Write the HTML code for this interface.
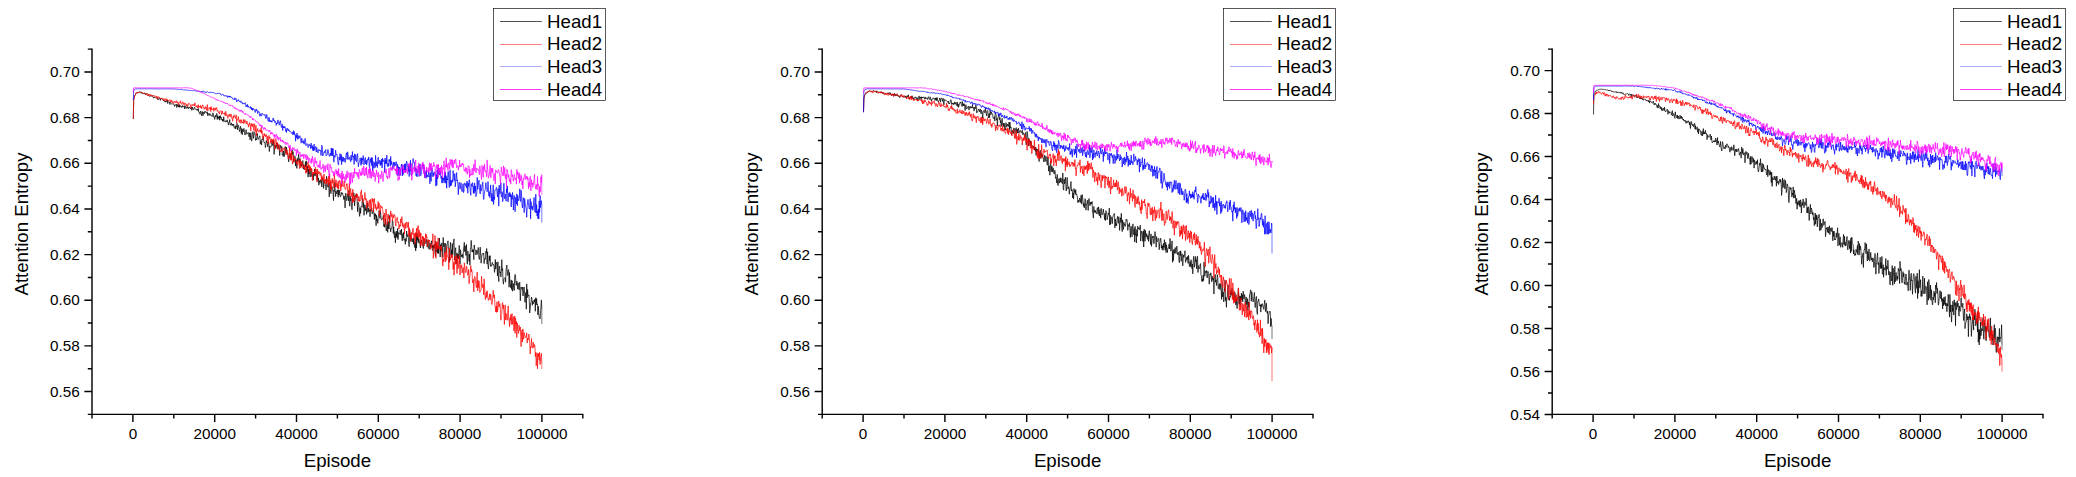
<!DOCTYPE html>
<html><head><meta charset="utf-8"><title>Attention Entropy</title>
<style>html,body{margin:0;padding:0;background:#fff}svg{display:block}text{font-family:"Liberation Sans",Arial,sans-serif;fill:#000}.t{font-size:15.3px}.l{font-size:18.67px}.ax{stroke:#000;stroke-width:1.42;fill:none}.d{fill:none;stroke-width:0.72;stroke-linejoin:miter}</style></head>
<body>
<svg width="2076" height="477" viewBox="0 0 2076 477">
<rect width="2076" height="477" fill="#fff"/>
<g>
<path class="ax" d="M92.0,48.6 V415.0 M91.4,414.4 H583.4"/>
<path class="ax" d="M92.0,49.12 h-4.2 M92.0,71.95 h-7.6 M92.0,94.78 h-4.2 M92.0,117.61 h-7.6 M92.0,140.44 h-4.2 M92.0,163.27 h-7.6 M92.0,186.10 h-4.2 M92.0,208.93 h-7.6 M92.0,231.76 h-4.2 M92.0,254.59 h-7.6 M92.0,277.42 h-4.2 M92.0,300.25 h-7.6 M92.0,323.08 h-4.2 M92.0,345.91 h-7.6 M92.0,368.74 h-4.2 M92.0,391.57 h-7.6 M92.0,414.40 h-4.2 M92.00,414.4 v4.2 M132.90,414.4 v7.6 M173.80,414.4 v4.2 M214.70,414.4 v7.6 M255.60,414.4 v4.2 M296.50,414.4 v7.6 M337.40,414.4 v4.2 M378.30,414.4 v7.6 M419.20,414.4 v4.2 M460.10,414.4 v7.6 M501.00,414.4 v4.2 M541.90,414.4 v7.6 M582.80,414.4 v4.2"/>
<text class="t" x="79.8" y="77.0" text-anchor="end">0.70</text>
<text class="t" x="79.8" y="122.7" text-anchor="end">0.68</text>
<text class="t" x="79.8" y="168.4" text-anchor="end">0.66</text>
<text class="t" x="79.8" y="214.0" text-anchor="end">0.64</text>
<text class="t" x="79.8" y="259.7" text-anchor="end">0.62</text>
<text class="t" x="79.8" y="305.4" text-anchor="end">0.60</text>
<text class="t" x="79.8" y="351.0" text-anchor="end">0.58</text>
<text class="t" x="79.8" y="396.7" text-anchor="end">0.56</text>
<text class="t" x="132.9" y="438.6" text-anchor="middle">0</text>
<text class="t" x="214.7" y="438.6" text-anchor="middle">20000</text>
<text class="t" x="296.5" y="438.6" text-anchor="middle">40000</text>
<text class="t" x="378.3" y="438.6" text-anchor="middle">60000</text>
<text class="t" x="460.1" y="438.6" text-anchor="middle">80000</text>
<text class="t" x="541.9" y="438.6" text-anchor="middle">100000</text>
<text class="l" x="337.4" y="467.1" text-anchor="middle">Episode</text>
<text class="l" transform="translate(27.9,224) rotate(-90)" text-anchor="middle">Attention Entropy</text>
<polyline class="d" stroke="#000000" points="133.3,119.0 133.7,99.7 134.2,97.7 134.6,96.0 135.0,95.2 135.5,94.5 135.9,93.4 136.3,92.7 136.7,93.2 137.2,93.1 137.6,92.4 138.0,92.7 138.5,92.7 138.9,92.2 139.3,91.8 139.8,91.6 140.2,92.3 140.6,92.7 141.0,92.5 141.5,92.2 141.9,93.6 142.3,93.1 142.8,92.7 143.2,93.9 143.6,93.8 144.1,93.1 144.5,93.1 144.9,92.8 145.4,94.7 145.8,94.1 146.2,93.9 146.6,94.3 147.1,93.6 147.5,94.1 147.9,93.8 148.4,94.3 148.8,94.9 149.2,96.2 149.7,96.4 150.1,96.1 150.5,96.1 150.9,95.8 151.4,96.3 151.8,96.0 152.2,95.4 152.7,96.4 153.1,96.8 153.5,98.1 154.0,97.0 154.4,97.0 154.8,97.7 155.3,97.5 155.7,97.9 156.1,98.1 156.5,98.0 157.0,97.4 157.4,97.4 157.8,99.9 158.3,99.1 158.7,99.4 159.1,98.1 159.6,97.5 160.0,98.7 160.4,100.4 160.8,98.7 161.3,98.6 161.7,98.7 162.1,99.2 162.6,99.5 163.0,99.7 163.4,100.7 163.9,99.8 164.3,101.4 164.7,101.1 165.2,102.2 165.6,101.1 166.0,101.1 166.4,101.9 166.9,101.8 167.3,100.0 167.7,103.5 168.2,101.7 168.6,102.1 169.0,102.0 169.5,102.0 169.9,104.5 170.3,102.4 170.7,103.0 171.2,103.3 171.6,103.7 172.0,104.4 172.5,103.8 172.9,103.5 173.3,103.9 173.8,103.7 174.2,104.8 174.6,106.5 175.1,105.0 175.5,105.1 175.9,105.0 176.3,104.0 176.8,107.5 177.2,104.8 177.6,104.5 178.1,106.7 178.5,105.2 178.9,107.1 179.4,104.6 179.8,107.4 180.2,105.5 180.6,105.9 181.1,107.0 181.5,106.7 181.9,107.6 182.4,105.5 182.8,106.8 183.2,106.2 183.7,106.5 184.1,106.0 184.5,108.9 185.0,105.5 185.4,106.2 185.8,108.3 186.2,107.9 186.7,108.3 187.1,106.4 187.5,108.2 188.0,107.2 188.4,108.8 188.8,108.2 189.3,106.9 189.7,107.8 190.1,107.8 190.6,108.9 191.0,108.1 191.4,107.1 191.8,110.4 192.3,107.0 192.7,108.8 193.1,108.6 193.6,109.8 194.0,109.0 194.4,107.1 194.9,107.9 195.3,108.7 195.7,109.5 196.1,110.0 196.6,110.1 197.0,108.9 197.4,109.4 197.9,110.8 198.3,108.5 198.7,112.2 199.2,112.0 199.6,112.7 200.0,114.3 200.5,111.1 200.9,112.2 201.3,113.8 201.7,115.8 202.2,111.4 202.6,113.5 203.0,115.7 203.5,111.9 203.9,112.7 204.3,113.9 204.8,111.3 205.2,111.6 205.6,111.2 206.0,112.9 206.5,112.7 206.9,113.4 207.3,111.8 207.8,115.9 208.2,113.4 208.6,114.0 209.1,115.3 209.5,115.2 209.9,113.3 210.4,115.4 210.8,115.0 211.2,114.9 211.6,115.7 212.1,116.7 212.5,116.2 212.9,112.8 213.4,113.9 213.8,117.1 214.2,116.6 214.7,119.4 215.1,117.4 215.5,115.3 215.9,116.9 216.4,114.8 216.8,113.4 217.2,119.5 217.7,115.5 218.1,118.1 218.5,116.9 219.0,119.4 219.4,116.0 219.8,120.2 220.3,115.6 220.7,118.0 221.1,116.9 221.5,119.5 222.0,119.1 222.4,121.0 222.8,119.1 223.3,121.6 223.7,116.7 224.1,120.4 224.6,121.4 225.0,121.5 225.4,122.1 225.8,120.6 226.3,121.1 226.7,121.9 227.1,119.8 227.6,122.1 228.0,121.9 228.4,125.1 228.9,123.2 229.3,122.1 229.7,119.5 230.2,124.9 230.6,125.1 231.0,124.0 231.4,122.9 231.9,125.6 232.3,125.4 232.7,124.0 233.2,125.6 233.6,124.1 234.0,127.2 234.5,127.9 234.9,128.5 235.3,125.7 235.7,129.0 236.2,126.6 236.6,127.0 237.0,123.2 237.5,129.8 237.9,126.7 238.3,125.1 238.8,126.9 239.2,129.7 239.6,131.6 240.1,128.5 240.5,126.3 240.9,129.9 241.3,133.5 241.8,128.4 242.2,134.7 242.6,129.5 243.1,130.0 243.5,131.7 243.9,128.4 244.4,131.3 244.8,134.8 245.2,134.0 245.6,134.3 246.1,129.7 246.5,133.4 246.9,134.3 247.4,133.7 247.8,132.9 248.2,132.4 248.7,134.7 249.1,136.8 249.5,132.8 250.0,139.8 250.4,137.9 250.8,132.7 251.2,138.4 251.7,141.1 252.1,135.6 252.5,133.3 253.0,131.5 253.4,138.4 253.8,135.8 254.3,132.6 254.7,132.5 255.1,133.2 255.5,140.4 256.0,138.7 256.4,140.0 256.8,138.2 257.3,133.5 257.7,138.4 258.1,139.5 258.6,138.1 259.0,137.7 259.4,136.3 259.9,135.9 260.3,144.2 260.7,142.6 261.1,140.6 261.6,144.9 262.0,139.1 262.4,140.0 262.9,139.3 263.3,136.4 263.7,141.2 264.2,142.6 264.6,142.0 265.0,143.6 265.4,147.6 265.9,144.5 266.3,140.5 266.7,142.2 267.2,141.8 267.6,146.8 268.0,144.5 268.5,141.6 268.9,143.7 269.3,151.6 269.8,146.1 270.2,146.7 270.6,147.3 271.0,147.0 271.5,144.2 271.9,139.8 272.3,140.7 272.8,145.8 273.2,142.9 273.6,140.7 274.1,154.4 274.5,148.8 274.9,144.9 275.3,146.4 275.8,148.5 276.2,145.9 276.6,142.9 277.1,147.2 277.5,143.1 277.9,149.1 278.4,146.9 278.8,145.1 279.2,148.8 279.7,155.6 280.1,148.1 280.5,145.4 280.9,146.9 281.4,148.5 281.8,146.3 282.2,154.5 282.7,153.7 283.1,156.4 283.5,151.0 284.0,156.7 284.4,156.4 284.8,151.0 285.2,146.5 285.7,152.8 286.1,153.3 286.5,147.1 287.0,153.3 287.4,152.8 287.8,154.6 288.3,158.2 288.7,161.9 289.1,156.5 289.6,157.4 290.0,153.5 290.4,155.6 290.8,155.8 291.3,159.2 291.7,155.3 292.1,149.9 292.6,154.6 293.0,151.6 293.4,156.1 293.9,162.4 294.3,156.2 294.7,155.7 295.2,156.8 295.6,166.1 296.0,159.9 296.4,165.6 296.9,168.4 297.3,158.3 297.7,161.3 298.2,160.0 298.6,154.2 299.0,159.4 299.5,162.3 299.9,158.4 300.3,165.9 300.7,163.8 301.2,163.1 301.6,166.5 302.0,163.0 302.5,161.5 302.9,160.5 303.3,168.8 303.8,164.7 304.2,169.7 304.6,169.6 305.1,167.5 305.5,161.8 305.9,166.7 306.3,160.8 306.8,171.9 307.2,169.7 307.6,166.1 308.1,177.1 308.5,169.1 308.9,173.9 309.4,168.5 309.8,174.8 310.2,177.1 310.6,172.1 311.1,168.6 311.5,173.5 311.9,176.5 312.4,173.8 312.8,174.4 313.2,180.2 313.7,174.3 314.1,175.3 314.5,169.0 315.0,176.2 315.4,173.2 315.8,174.4 316.2,172.7 316.7,174.1 317.1,179.3 317.5,173.6 318.0,180.9 318.4,178.1 318.8,185.2 319.3,180.5 319.7,182.4 320.1,183.3 320.5,179.7 321.0,181.4 321.4,180.9 321.8,187.1 322.3,177.5 322.7,179.3 323.1,181.3 323.6,188.4 324.0,180.1 324.4,181.3 324.9,181.0 325.3,185.9 325.7,185.4 326.1,190.1 326.6,176.3 327.0,183.0 327.4,184.4 327.9,187.2 328.3,185.3 328.7,183.4 329.2,196.9 329.6,192.1 330.0,181.9 330.4,189.4 330.9,193.7 331.3,187.8 331.7,186.8 332.2,186.7 332.6,188.8 333.0,192.3 333.5,200.6 333.9,189.9 334.3,191.4 334.8,182.3 335.2,190.3 335.6,196.6 336.0,191.1 336.5,192.7 336.9,194.0 337.3,189.8 337.8,192.5 338.2,197.2 338.6,189.7 339.1,195.1 339.5,190.4 339.9,192.9 340.3,196.8 340.8,196.1 341.2,194.9 341.6,192.4 342.1,193.9 342.5,192.9 342.9,195.0 343.4,195.9 343.8,199.5 344.2,196.1 344.7,200.2 345.1,208.0 345.5,193.3 345.9,193.1 346.4,200.7 346.8,200.4 347.2,197.1 347.7,193.8 348.1,197.5 348.5,200.9 349.0,190.2 349.4,204.2 349.8,206.2 350.2,196.2 350.7,200.8 351.1,198.5 351.5,205.5 352.0,209.8 352.4,203.1 352.8,197.9 353.3,195.3 353.7,192.7 354.1,194.3 354.6,205.9 355.0,198.9 355.4,195.0 355.8,194.7 356.3,197.1 356.7,194.4 357.1,200.1 357.6,211.7 358.0,202.2 358.4,203.0 358.9,205.3 359.3,213.9 359.7,216.4 360.1,207.8 360.6,213.4 361.0,206.8 361.4,206.1 361.9,206.7 362.3,199.1 362.7,198.2 363.2,207.6 363.6,202.5 364.0,215.3 364.5,207.4 364.9,204.8 365.3,210.8 365.7,208.0 366.2,206.5 366.6,214.3 367.0,204.7 367.5,202.7 367.9,212.3 368.3,207.9 368.8,211.7 369.2,210.8 369.6,209.5 370.0,216.8 370.5,209.5 370.9,210.6 371.3,210.1 371.8,208.4 372.2,213.9 372.6,212.9 373.1,211.0 373.5,209.9 373.9,213.4 374.4,219.5 374.8,213.2 375.2,216.2 375.6,214.2 376.1,225.7 376.5,215.3 376.9,220.7 377.4,219.0 377.8,223.4 378.2,217.1 378.7,214.9 379.1,210.7 379.5,214.2 379.9,218.4 380.4,210.7 380.8,215.3 381.2,219.3 381.7,220.1 382.1,218.7 382.5,218.7 383.0,217.5 383.4,215.4 383.8,226.5 384.3,224.0 384.7,227.3 385.1,222.2 385.5,218.8 386.0,228.8 386.4,231.0 386.8,225.7 387.3,222.3 387.7,232.4 388.1,221.6 388.6,228.8 389.0,222.9 389.4,215.4 389.9,228.6 390.3,228.0 390.7,231.8 391.1,228.8 391.6,228.4 392.0,226.3 392.4,220.2 392.9,221.4 393.3,233.5 393.7,226.8 394.2,235.3 394.6,237.8 395.0,231.6 395.4,242.8 395.9,233.6 396.3,236.8 396.7,231.0 397.2,237.9 397.6,228.4 398.0,239.6 398.5,232.7 398.9,232.7 399.3,234.2 399.8,233.9 400.2,230.2 400.6,232.5 401.0,235.2 401.5,229.2 401.9,238.9 402.3,240.9 402.8,233.7 403.2,238.2 403.6,232.4 404.1,240.2 404.5,239.2 404.9,240.9 405.3,244.3 405.8,238.4 406.2,241.4 406.6,231.0 407.1,235.5 407.5,236.6 407.9,234.4 408.4,237.9 408.8,244.0 409.2,246.7 409.7,229.7 410.1,235.0 410.5,236.8 410.9,241.1 411.4,238.4 411.8,238.4 412.2,242.0 412.7,240.0 413.1,238.1 413.5,244.2 414.0,238.2 414.4,246.4 414.8,247.6 415.2,242.4 415.7,250.9 416.1,234.5 416.5,248.1 417.0,233.1 417.4,240.3 417.8,236.3 418.3,242.9 418.7,238.5 419.1,239.5 419.6,242.9 420.0,244.5 420.4,247.9 420.8,241.8 421.3,242.5 421.7,240.0 422.1,242.5 422.6,244.4 423.0,247.4 423.4,248.5 423.9,238.6 424.3,244.0 424.7,243.4 425.1,243.4 425.6,243.3 426.0,239.2 426.4,239.4 426.9,245.3 427.3,247.3 427.7,242.8 428.2,240.1 428.6,248.8 429.0,249.1 429.5,249.3 429.9,242.9 430.3,247.5 430.7,244.1 431.2,244.3 431.6,240.8 432.0,247.7 432.5,245.3 432.9,250.8 433.3,245.0 433.8,248.2 434.2,245.8 434.6,243.8 435.0,253.3 435.5,256.4 435.9,241.3 436.3,252.2 436.8,251.4 437.2,245.7 437.6,253.3 438.1,246.4 438.5,253.6 438.9,242.8 439.4,238.0 439.8,246.4 440.2,257.0 440.6,244.5 441.1,251.3 441.5,244.0 441.9,242.8 442.4,247.8 442.8,257.5 443.2,237.5 443.7,246.5 444.1,243.1 444.5,247.5 444.9,253.6 445.4,243.3 445.8,244.0 446.2,251.9 446.7,247.7 447.1,243.8 447.5,243.3 448.0,240.8 448.4,248.3 448.8,248.9 449.3,262.3 449.7,249.8 450.1,247.7 450.5,242.4 451.0,255.1 451.4,249.9 451.8,257.5 452.3,243.5 452.7,254.5 453.1,245.2 453.6,241.5 454.0,238.9 454.4,255.7 454.8,260.0 455.3,249.0 455.7,247.7 456.1,263.9 456.6,255.1 457.0,252.9 457.4,258.0 457.9,254.0 458.3,259.0 458.7,253.8 459.2,245.4 459.6,250.3 460.0,264.1 460.4,249.7 460.9,253.0 461.3,256.9 461.7,255.2 462.2,256.4 462.6,254.3 463.0,258.2 463.5,248.6 463.9,246.6 464.3,242.3 464.7,251.6 465.2,245.8 465.6,252.2 466.0,255.5 466.5,244.5 466.9,256.9 467.3,264.2 467.8,251.2 468.2,253.8 468.6,254.3 469.1,261.5 469.5,254.1 469.9,265.2 470.3,249.3 470.8,247.3 471.2,240.4 471.6,246.2 472.1,252.1 472.5,249.6 472.9,252.1 473.4,249.7 473.8,259.7 474.2,244.9 474.6,248.4 475.1,250.1 475.5,250.3 475.9,254.9 476.4,252.7 476.8,250.1 477.2,254.4 477.7,253.8 478.1,247.5 478.5,248.5 479.0,258.3 479.4,259.5 479.8,255.3 480.2,247.1 480.7,255.0 481.1,263.2 481.5,258.3 482.0,255.0 482.4,253.5 482.8,254.1 483.3,254.3 483.7,253.1 484.1,263.6 484.5,258.7 485.0,258.6 485.4,259.3 485.8,251.4 486.3,253.2 486.7,248.5 487.1,264.1 487.6,251.8 488.0,265.1 488.4,269.0 488.9,263.3 489.3,255.9 489.7,260.7 490.1,255.6 490.6,266.4 491.0,265.4 491.4,266.2 491.9,264.3 492.3,262.3 492.7,264.3 493.2,265.2 493.6,264.4 494.0,266.2 494.5,272.4 494.9,268.4 495.3,259.5 495.7,269.1 496.2,262.2 496.6,263.5 497.0,264.6 497.5,275.9 497.9,261.8 498.3,275.3 498.8,281.5 499.2,267.4 499.6,266.1 500.0,272.9 500.5,271.8 500.9,276.9 501.3,271.0 501.8,259.7 502.2,270.6 502.6,268.6 503.1,282.3 503.5,284.2 503.9,278.9 504.4,278.2 504.8,277.8 505.2,277.8 505.6,282.2 506.1,270.1 506.5,266.4 506.9,265.0 507.4,275.3 507.8,275.3 508.2,270.4 508.7,269.5 509.1,287.2 509.5,272.5 509.9,283.3 510.4,284.3 510.8,287.8 511.2,279.9 511.7,289.7 512.1,280.7 512.5,291.2 513.0,288.6 513.4,283.5 513.8,287.6 514.3,290.5 514.7,275.8 515.1,274.4 515.5,275.2 516.0,285.2 516.4,285.3 516.8,281.0 517.3,284.1 517.7,289.1 518.1,282.9 518.6,284.1 519.0,289.8 519.4,283.1 519.8,282.1 520.3,300.8 520.7,292.6 521.1,287.0 521.6,288.3 522.0,289.3 522.4,287.0 522.9,296.0 523.3,295.6 523.7,288.0 524.2,287.0 524.6,293.7 525.0,302.3 525.4,295.1 525.9,292.3 526.3,309.2 526.7,283.9 527.2,297.8 527.6,289.5 528.0,295.6 528.5,295.9 528.9,294.9 529.3,300.9 529.7,313.0 530.2,309.1 530.6,303.0 531.0,302.7 531.5,297.0 531.9,298.1 532.3,305.3 532.8,301.3 533.2,304.0 533.6,302.7 534.1,300.1 534.5,301.7 534.9,299.1 535.3,311.3 535.8,297.7 536.2,304.8 536.6,298.7 537.1,305.0 537.5,304.5 537.9,314.9 538.4,306.3 538.8,312.2 539.2,317.1 539.6,318.2 540.1,319.0 540.5,313.7 540.9,307.4 541.4,299.9 541.8,308.9"/>
<line class="d" stroke="#000000" stroke-opacity="0.75" x1="541.8" y1="308.9" x2="541.8" y2="324.0"/>
<polyline class="d" stroke="#ff0000" points="133.3,119.0 133.7,100.4 134.2,97.6 134.6,96.0 135.0,95.0 135.5,94.8 135.9,93.7 136.3,92.8 136.7,93.2 137.2,92.9 137.6,91.9 138.0,93.0 138.5,92.6 138.9,92.4 139.3,92.8 139.8,92.2 140.2,92.0 140.6,92.0 141.0,92.0 141.5,92.5 141.9,93.0 142.3,93.0 142.8,93.1 143.2,93.2 143.6,93.7 144.1,93.0 144.5,93.8 144.9,93.7 145.4,94.1 145.8,94.3 146.2,94.6 146.6,93.1 147.1,94.3 147.5,95.9 147.9,94.9 148.4,95.5 148.8,94.4 149.2,95.4 149.7,95.7 150.1,94.2 150.5,95.1 150.9,95.8 151.4,94.8 151.8,96.0 152.2,96.5 152.7,96.6 153.1,95.6 153.5,95.6 154.0,95.0 154.4,96.1 154.8,96.5 155.3,97.3 155.7,96.7 156.1,95.9 156.5,96.0 157.0,98.5 157.4,96.8 157.8,98.6 158.3,96.6 158.7,97.1 159.1,97.4 159.6,97.8 160.0,98.8 160.4,98.7 160.8,98.8 161.3,97.9 161.7,98.6 162.1,97.9 162.6,98.5 163.0,98.9 163.4,98.8 163.9,100.9 164.3,99.0 164.7,98.6 165.2,99.3 165.6,98.9 166.0,101.2 166.4,98.7 166.9,100.4 167.3,99.7 167.7,99.6 168.2,100.0 168.6,100.9 169.0,100.2 169.5,99.6 169.9,99.9 170.3,102.1 170.7,100.8 171.2,101.5 171.6,99.9 172.0,102.4 172.5,103.1 172.9,101.3 173.3,102.7 173.8,103.2 174.2,101.7 174.6,101.9 175.1,101.1 175.5,102.0 175.9,102.9 176.3,101.7 176.8,100.7 177.2,103.3 177.6,102.5 178.1,101.9 178.5,105.1 178.9,103.2 179.4,102.6 179.8,102.7 180.2,103.0 180.6,100.8 181.1,103.8 181.5,104.1 181.9,104.5 182.4,102.6 182.8,101.8 183.2,103.5 183.7,103.0 184.1,105.4 184.5,102.8 185.0,103.3 185.4,103.3 185.8,104.4 186.2,104.2 186.7,106.0 187.1,104.3 187.5,105.5 188.0,106.3 188.4,103.2 188.8,103.1 189.3,103.6 189.7,103.9 190.1,104.8 190.6,105.1 191.0,107.9 191.4,105.4 191.8,104.6 192.3,104.6 192.7,105.8 193.1,104.4 193.6,104.5 194.0,104.3 194.4,106.0 194.9,102.8 195.3,106.3 195.7,106.8 196.1,106.2 196.6,106.6 197.0,105.3 197.4,108.0 197.9,107.9 198.3,104.7 198.7,107.7 199.2,106.1 199.6,106.8 200.0,107.3 200.5,105.2 200.9,108.0 201.3,106.6 201.7,108.8 202.2,106.7 202.6,104.8 203.0,105.5 203.5,106.3 203.9,108.1 204.3,109.3 204.8,107.6 205.2,108.6 205.6,106.6 206.0,107.4 206.5,110.3 206.9,108.5 207.3,104.6 207.8,111.0 208.2,108.4 208.6,107.9 209.1,107.7 209.5,107.5 209.9,109.4 210.4,107.4 210.8,111.6 211.2,106.6 211.6,109.6 212.1,109.0 212.5,109.6 212.9,109.1 213.4,107.8 213.8,111.3 214.2,108.6 214.7,109.3 215.1,107.8 215.5,110.2 215.9,108.4 216.4,108.9 216.8,107.6 217.2,111.3 217.7,110.2 218.1,111.1 218.5,112.6 219.0,112.5 219.4,113.9 219.8,111.3 220.3,111.1 220.7,110.8 221.1,110.8 221.5,114.5 222.0,112.6 222.4,110.8 222.8,113.6 223.3,113.0 223.7,113.5 224.1,114.3 224.6,112.7 225.0,115.5 225.4,115.8 225.8,111.3 226.3,115.5 226.7,114.6 227.1,114.5 227.6,117.4 228.0,118.4 228.4,114.8 228.9,115.6 229.3,116.1 229.7,113.9 230.2,117.1 230.6,115.5 231.0,114.0 231.4,115.2 231.9,118.7 232.3,118.6 232.7,121.2 233.2,116.2 233.6,117.9 234.0,114.8 234.5,116.3 234.9,116.3 235.3,117.8 235.7,118.6 236.2,114.9 236.6,122.7 237.0,119.3 237.5,119.8 237.9,120.0 238.3,116.5 238.8,120.6 239.2,122.5 239.6,120.0 240.1,120.2 240.5,119.9 240.9,123.3 241.3,119.7 241.8,121.2 242.2,122.8 242.6,122.1 243.1,123.3 243.5,119.5 243.9,123.5 244.4,122.3 244.8,119.6 245.2,121.6 245.6,121.3 246.1,123.9 246.5,123.6 246.9,121.0 247.4,124.3 247.8,124.5 248.2,123.9 248.7,127.2 249.1,125.2 249.5,122.6 250.0,124.4 250.4,125.6 250.8,131.0 251.2,123.4 251.7,125.8 252.1,123.9 252.5,126.6 253.0,123.9 253.4,128.2 253.8,130.3 254.3,123.6 254.7,124.9 255.1,131.9 255.5,129.9 256.0,125.4 256.4,135.7 256.8,130.1 257.3,130.3 257.7,128.5 258.1,131.5 258.6,131.4 259.0,132.2 259.4,129.9 259.9,130.8 260.3,130.1 260.7,132.4 261.1,127.5 261.6,133.4 262.0,130.4 262.4,135.1 262.9,138.9 263.3,139.0 263.7,135.4 264.2,133.4 264.6,135.8 265.0,134.3 265.4,137.1 265.9,136.0 266.3,134.5 266.7,136.6 267.2,140.8 267.6,136.4 268.0,144.1 268.5,141.1 268.9,135.4 269.3,138.6 269.8,137.1 270.2,139.1 270.6,143.3 271.0,140.4 271.5,138.8 271.9,142.0 272.3,139.5 272.8,144.1 273.2,142.3 273.6,138.6 274.1,139.8 274.5,144.4 274.9,149.2 275.3,139.5 275.8,138.6 276.2,140.0 276.6,145.3 277.1,145.0 277.5,142.4 277.9,149.4 278.4,145.4 278.8,144.2 279.2,144.5 279.7,149.8 280.1,150.2 280.5,151.7 280.9,150.9 281.4,151.2 281.8,147.9 282.2,150.9 282.7,151.8 283.1,150.2 283.5,148.3 284.0,148.6 284.4,147.7 284.8,148.7 285.2,148.6 285.7,152.0 286.1,154.9 286.5,153.0 287.0,149.7 287.4,154.5 287.8,153.4 288.3,159.2 288.7,157.6 289.1,154.9 289.6,147.2 290.0,157.6 290.4,160.2 290.8,153.0 291.3,160.2 291.7,151.0 292.1,160.2 292.6,164.1 293.0,161.0 293.4,155.7 293.9,161.7 294.3,158.5 294.7,160.3 295.2,158.6 295.6,158.9 296.0,160.3 296.4,163.5 296.9,160.8 297.3,164.5 297.7,165.3 298.2,162.8 298.6,162.3 299.0,160.1 299.5,168.7 299.9,162.2 300.3,159.3 300.7,168.0 301.2,161.2 301.6,163.2 302.0,164.6 302.5,162.9 302.9,168.2 303.3,167.2 303.8,167.3 304.2,165.0 304.6,169.3 305.1,167.6 305.5,170.5 305.9,173.4 306.3,165.4 306.8,172.5 307.2,164.3 307.6,162.9 308.1,161.8 308.5,168.1 308.9,164.7 309.4,172.7 309.8,165.6 310.2,169.9 310.6,167.2 311.1,171.4 311.5,168.6 311.9,168.7 312.4,180.5 312.8,172.0 313.2,174.3 313.7,172.1 314.1,172.8 314.5,171.5 315.0,174.0 315.4,167.2 315.8,174.1 316.2,169.1 316.7,180.8 317.1,182.1 317.5,169.1 318.0,173.1 318.4,174.0 318.8,171.3 319.3,173.2 319.7,172.0 320.1,175.5 320.5,173.8 321.0,172.8 321.4,180.8 321.8,175.4 322.3,177.1 322.7,179.2 323.1,177.0 323.6,181.9 324.0,174.1 324.4,182.1 324.9,183.6 325.3,179.1 325.7,180.5 326.1,179.6 326.6,183.9 327.0,178.2 327.4,181.7 327.9,180.6 328.3,185.9 328.7,176.0 329.2,184.1 329.6,173.9 330.0,182.4 330.4,188.2 330.9,180.2 331.3,190.6 331.7,184.7 332.2,178.4 332.6,183.1 333.0,180.0 333.5,186.7 333.9,188.2 334.3,174.4 334.8,180.3 335.2,182.3 335.6,187.0 336.0,179.8 336.5,184.9 336.9,187.3 337.3,183.6 337.8,188.6 338.2,180.9 338.6,189.0 339.1,184.9 339.5,180.3 339.9,180.8 340.3,182.0 340.8,190.9 341.2,184.1 341.6,186.9 342.1,179.5 342.5,186.0 342.9,186.3 343.4,186.7 343.8,184.3 344.2,180.8 344.7,187.4 345.1,188.8 345.5,189.7 345.9,189.2 346.4,183.8 346.8,184.9 347.2,183.7 347.7,193.1 348.1,195.3 348.5,191.9 349.0,188.3 349.4,183.1 349.8,195.8 350.2,189.5 350.7,188.3 351.1,195.5 351.5,196.5 352.0,192.8 352.4,203.1 352.8,189.2 353.3,202.1 353.7,199.0 354.1,196.0 354.6,199.4 355.0,200.6 355.4,198.5 355.8,196.1 356.3,193.3 356.7,198.0 357.1,195.1 357.6,194.1 358.0,201.3 358.4,200.9 358.9,196.3 359.3,201.5 359.7,199.7 360.1,201.1 360.6,192.4 361.0,192.8 361.4,189.9 361.9,199.4 362.3,195.1 362.7,199.5 363.2,202.5 363.6,201.4 364.0,198.6 364.5,198.9 364.9,192.5 365.3,196.7 365.7,200.3 366.2,198.5 366.6,208.7 367.0,201.8 367.5,200.8 367.9,202.3 368.3,206.7 368.8,204.9 369.2,200.4 369.6,200.0 370.0,209.1 370.5,199.3 370.9,204.8 371.3,211.4 371.8,202.3 372.2,198.2 372.6,202.0 373.1,199.2 373.5,212.1 373.9,199.0 374.4,198.4 374.8,204.8 375.2,208.6 375.6,204.1 376.1,207.9 376.5,210.3 376.9,207.3 377.4,208.6 377.8,205.1 378.2,201.5 378.7,208.5 379.1,203.2 379.5,216.4 379.9,210.9 380.4,212.0 380.8,205.4 381.2,207.6 381.7,207.6 382.1,206.8 382.5,209.5 383.0,211.6 383.4,215.9 383.8,221.5 384.3,217.0 384.7,213.0 385.1,224.9 385.5,217.5 386.0,209.0 386.4,212.2 386.8,217.8 387.3,224.6 387.7,218.2 388.1,214.0 388.6,219.2 389.0,216.0 389.4,217.6 389.9,222.9 390.3,219.2 390.7,210.8 391.1,215.2 391.6,216.6 392.0,213.6 392.4,221.0 392.9,218.2 393.3,215.2 393.7,217.6 394.2,214.4 394.6,215.1 395.0,216.1 395.4,223.5 395.9,226.1 396.3,219.1 396.7,219.3 397.2,217.2 397.6,220.4 398.0,222.9 398.5,221.8 398.9,229.1 399.3,227.4 399.8,224.6 400.2,226.5 400.6,218.9 401.0,223.0 401.5,221.9 401.9,216.6 402.3,226.3 402.8,222.8 403.2,227.4 403.6,227.2 404.1,224.5 404.5,234.1 404.9,225.1 405.3,222.7 405.8,228.4 406.2,225.1 406.6,222.0 407.1,222.7 407.5,226.8 407.9,227.7 408.4,222.2 408.8,236.5 409.2,227.7 409.7,235.4 410.1,235.1 410.5,241.5 410.9,232.8 411.4,239.1 411.8,232.4 412.2,234.4 412.7,229.0 413.1,228.2 413.5,232.5 414.0,238.0 414.4,233.3 414.8,238.3 415.2,243.6 415.7,232.4 416.1,236.1 416.5,228.2 417.0,237.4 417.4,231.2 417.8,225.9 418.3,225.6 418.7,238.5 419.1,229.8 419.6,236.5 420.0,232.5 420.4,245.7 420.8,233.1 421.3,240.1 421.7,244.3 422.1,246.0 422.6,236.1 423.0,239.0 423.4,236.8 423.9,243.4 424.3,245.9 424.7,238.1 425.1,242.3 425.6,233.7 426.0,238.2 426.4,234.6 426.9,236.7 427.3,243.9 427.7,246.6 428.2,239.8 428.6,239.7 429.0,241.4 429.5,240.1 429.9,244.1 430.3,244.4 430.7,249.5 431.2,248.3 431.6,244.1 432.0,243.9 432.5,242.4 432.9,233.8 433.3,258.3 433.8,249.4 434.2,247.6 434.6,243.5 435.0,235.5 435.5,245.4 435.9,258.3 436.3,242.4 436.8,248.3 437.2,241.9 437.6,249.6 438.1,237.9 438.5,248.5 438.9,246.7 439.4,248.0 439.8,249.1 440.2,246.4 440.6,245.9 441.1,250.0 441.5,246.0 441.9,255.8 442.4,259.6 442.8,266.2 443.2,258.7 443.7,262.0 444.1,257.9 444.5,252.5 444.9,258.7 445.4,261.8 445.8,251.7 446.2,260.4 446.7,246.8 447.1,254.6 447.5,255.6 448.0,257.6 448.4,257.4 448.8,269.7 449.3,247.9 449.7,254.5 450.1,257.8 450.5,260.2 451.0,254.8 451.4,257.5 451.8,254.5 452.3,254.2 452.7,257.1 453.1,269.5 453.6,262.4 454.0,275.1 454.4,270.2 454.8,256.2 455.3,260.4 455.7,264.4 456.1,258.9 456.6,255.0 457.0,273.5 457.4,257.7 457.9,268.8 458.3,268.4 458.7,263.2 459.2,255.7 459.6,267.7 460.0,275.1 460.4,268.9 460.9,264.5 461.3,267.7 461.7,265.5 462.2,273.1 462.6,268.7 463.0,267.5 463.5,268.2 463.9,278.0 464.3,262.9 464.7,265.4 465.2,270.7 465.6,272.6 466.0,271.8 466.5,266.2 466.9,267.2 467.3,273.2 467.8,275.4 468.2,274.2 468.6,269.6 469.1,283.7 469.5,278.8 469.9,275.5 470.3,270.9 470.8,265.6 471.2,271.9 471.6,269.3 472.1,271.9 472.5,282.8 472.9,281.4 473.4,279.4 473.8,292.0 474.2,279.2 474.6,276.7 475.1,276.6 475.5,281.5 475.9,283.8 476.4,287.7 476.8,279.1 477.2,272.1 477.7,291.0 478.1,280.3 478.5,287.5 479.0,280.8 479.4,285.8 479.8,292.5 480.2,291.4 480.7,290.8 481.1,288.9 481.5,276.3 482.0,284.2 482.4,287.6 482.8,283.9 483.3,284.7 483.7,295.0 484.1,278.8 484.5,284.8 485.0,295.0 485.4,299.5 485.8,295.4 486.3,292.2 486.7,297.7 487.1,290.7 487.6,294.9 488.0,297.9 488.4,300.4 488.9,298.4 489.3,297.5 489.7,293.7 490.1,299.9 490.6,294.3 491.0,295.4 491.4,302.5 491.9,304.6 492.3,301.9 492.7,298.1 493.2,290.3 493.6,296.2 494.0,298.1 494.5,294.8 494.9,305.2 495.3,306.9 495.7,311.9 496.2,306.0 496.6,312.4 497.0,301.7 497.5,311.8 497.9,309.6 498.3,304.0 498.8,301.0 499.2,306.9 499.6,304.4 500.0,303.7 500.5,313.3 500.9,320.2 501.3,314.5 501.8,313.6 502.2,304.1 502.6,302.6 503.1,308.7 503.5,304.9 503.9,312.3 504.4,324.5 504.8,311.3 505.2,304.9 505.6,319.9 506.1,313.3 506.5,316.2 506.9,320.2 507.4,320.1 507.8,311.9 508.2,305.9 508.7,319.4 509.1,319.7 509.5,326.7 509.9,317.7 510.4,320.3 510.8,314.3 511.2,324.6 511.7,315.4 512.1,313.6 512.5,324.4 513.0,316.9 513.4,316.7 513.8,330.9 514.3,329.6 514.7,315.9 515.1,333.4 515.5,318.0 516.0,324.5 516.4,321.5 516.8,337.5 517.3,322.9 517.7,330.5 518.1,330.5 518.6,333.5 519.0,325.1 519.4,327.5 519.8,330.8 520.3,327.0 520.7,336.5 521.1,346.6 521.6,331.5 522.0,330.0 522.4,342.1 522.9,328.9 523.3,334.7 523.7,339.2 524.2,332.6 524.6,335.2 525.0,335.4 525.4,337.5 525.9,337.5 526.3,337.3 526.7,332.8 527.2,343.1 527.6,338.2 528.0,339.4 528.5,339.5 528.9,334.0 529.3,338.3 529.7,342.6 530.2,354.0 530.6,346.7 531.0,348.0 531.5,338.4 531.9,346.0 532.3,346.2 532.8,348.2 533.2,342.1 533.6,347.2 534.1,346.8 534.5,344.5 534.9,345.8 535.3,356.5 535.8,352.3 536.2,365.8 536.6,360.2 537.1,352.9 537.5,368.7 537.9,354.0 538.4,356.6 538.8,353.3 539.2,360.3 539.6,352.3 540.1,364.6 540.5,357.5 540.9,357.1 541.4,353.4 541.8,363.5"/>
<line class="d" stroke="#ff0000" stroke-opacity="0.75" x1="541.8" y1="363.5" x2="541.8" y2="369.0"/>
<polyline class="d" stroke="#0000ff" points="133.3,100.0 133.7,90.9 134.2,89.9 134.6,89.5 135.0,89.2 135.5,89.0 135.9,89.0 136.3,88.9 136.7,88.9 137.2,88.9 137.6,88.8 138.0,88.8 138.5,88.8 138.9,88.8 139.3,88.8 139.8,88.8 140.2,88.8 140.6,88.8 141.0,88.8 141.5,88.8 141.9,88.8 142.3,88.8 142.8,88.8 143.2,88.8 143.6,88.8 144.1,88.8 144.5,88.8 144.9,88.8 145.4,88.8 145.8,88.8 146.2,88.8 146.6,88.8 147.1,88.8 147.5,88.8 147.9,88.8 148.4,88.8 148.8,88.8 149.2,88.8 149.7,88.8 150.1,88.8 150.5,88.8 150.9,88.8 151.4,88.8 151.8,88.8 152.2,88.8 152.7,88.9 153.1,88.8 153.5,88.9 154.0,88.9 154.4,88.9 154.8,88.8 155.3,88.8 155.7,88.8 156.1,88.9 156.5,88.8 157.0,88.8 157.4,88.8 157.8,88.9 158.3,88.8 158.7,88.9 159.1,88.9 159.6,88.9 160.0,88.8 160.4,88.9 160.8,88.8 161.3,88.9 161.7,88.9 162.1,88.9 162.6,88.8 163.0,88.9 163.4,88.9 163.9,88.9 164.3,88.9 164.7,88.9 165.2,88.9 165.6,88.8 166.0,88.9 166.4,88.9 166.9,88.9 167.3,88.9 167.7,88.9 168.2,88.9 168.6,88.9 169.0,88.9 169.5,88.9 169.9,88.9 170.3,88.9 170.7,88.9 171.2,88.9 171.6,88.9 172.0,89.0 172.5,88.9 172.9,89.0 173.3,89.0 173.8,89.0 174.2,89.0 174.6,89.0 175.1,89.1 175.5,89.1 175.9,89.1 176.3,89.3 176.8,89.2 177.2,89.2 177.6,89.3 178.1,89.4 178.5,89.3 178.9,89.4 179.4,89.4 179.8,89.5 180.2,89.5 180.6,89.6 181.1,89.7 181.5,89.5 181.9,89.6 182.4,89.5 182.8,89.8 183.2,89.9 183.7,90.1 184.1,89.7 184.5,89.9 185.0,90.0 185.4,90.1 185.8,90.1 186.2,90.0 186.7,90.2 187.1,90.3 187.5,90.2 188.0,90.5 188.4,90.5 188.8,90.1 189.3,90.1 189.7,90.5 190.1,90.4 190.6,90.5 191.0,90.6 191.4,90.6 191.8,90.6 192.3,90.9 192.7,90.5 193.1,90.9 193.6,90.7 194.0,91.1 194.4,90.7 194.9,90.5 195.3,90.7 195.7,90.6 196.1,91.1 196.6,91.3 197.0,91.0 197.4,90.9 197.9,90.8 198.3,91.3 198.7,90.8 199.2,91.4 199.6,91.4 200.0,91.4 200.5,91.6 200.9,91.2 201.3,91.7 201.7,91.6 202.2,90.9 202.6,91.5 203.0,92.3 203.5,91.4 203.9,91.6 204.3,91.7 204.8,91.5 205.2,92.5 205.6,92.3 206.0,92.0 206.5,92.4 206.9,91.6 207.3,91.7 207.8,91.9 208.2,92.1 208.6,92.5 209.1,92.6 209.5,93.0 209.9,92.3 210.4,92.1 210.8,92.7 211.2,92.2 211.6,92.3 212.1,92.5 212.5,92.5 212.9,92.4 213.4,92.9 213.8,92.5 214.2,93.2 214.7,92.9 215.1,93.4 215.5,93.7 215.9,93.5 216.4,93.9 216.8,93.4 217.2,93.2 217.7,94.0 218.1,93.4 218.5,93.0 219.0,93.5 219.4,93.5 219.8,93.8 220.3,93.3 220.7,94.6 221.1,94.9 221.5,95.4 222.0,94.3 222.4,94.3 222.8,94.4 223.3,94.5 223.7,95.6 224.1,95.2 224.6,96.1 225.0,95.9 225.4,96.0 225.8,95.4 226.3,96.4 226.7,95.8 227.1,95.7 227.6,97.6 228.0,96.4 228.4,96.1 228.9,97.1 229.3,95.9 229.7,97.1 230.2,96.0 230.6,96.6 231.0,97.7 231.4,96.9 231.9,97.4 232.3,98.1 232.7,99.1 233.2,99.0 233.6,99.4 234.0,98.7 234.5,99.7 234.9,97.8 235.3,99.5 235.7,98.9 236.2,98.5 236.6,101.8 237.0,100.7 237.5,100.9 237.9,101.2 238.3,99.5 238.8,100.6 239.2,100.6 239.6,101.8 240.1,102.4 240.5,102.1 240.9,100.8 241.3,102.4 241.8,102.8 242.2,102.3 242.6,104.1 243.1,103.0 243.5,103.4 243.9,103.9 244.4,104.1 244.8,102.9 245.2,102.7 245.6,103.9 246.1,107.0 246.5,105.5 246.9,105.9 247.4,104.4 247.8,107.3 248.2,105.9 248.7,107.0 249.1,107.3 249.5,107.8 250.0,108.3 250.4,106.5 250.8,108.3 251.2,107.2 251.7,109.9 252.1,107.9 252.5,110.3 253.0,108.1 253.4,109.5 253.8,109.7 254.3,110.1 254.7,109.4 255.1,112.5 255.5,111.1 256.0,109.2 256.4,109.1 256.8,111.1 257.3,110.2 257.7,113.6 258.1,111.6 258.6,111.6 259.0,111.4 259.4,113.3 259.9,116.3 260.3,113.8 260.7,113.8 261.1,115.5 261.6,116.1 262.0,113.1 262.4,113.7 262.9,114.5 263.3,114.6 263.7,114.9 264.2,115.1 264.6,115.2 265.0,114.3 265.4,117.0 265.9,118.6 266.3,118.0 266.7,114.5 267.2,117.2 267.6,118.7 268.0,120.9 268.5,121.5 268.9,117.1 269.3,118.0 269.8,121.8 270.2,120.2 270.6,121.7 271.0,122.0 271.5,120.8 271.9,122.3 272.3,120.5 272.8,119.2 273.2,117.9 273.6,120.9 274.1,119.8 274.5,121.1 274.9,122.5 275.3,121.2 275.8,122.6 276.2,125.4 276.6,123.0 277.1,124.0 277.5,121.8 277.9,119.9 278.4,123.0 278.8,122.3 279.2,125.2 279.7,123.4 280.1,120.6 280.5,120.9 280.9,124.9 281.4,127.5 281.8,127.3 282.2,123.9 282.7,130.5 283.1,125.9 283.5,127.8 284.0,126.5 284.4,127.9 284.8,126.5 285.2,127.1 285.7,131.3 286.1,129.9 286.5,132.5 287.0,128.0 287.4,129.5 287.8,128.9 288.3,130.9 288.7,129.4 289.1,129.7 289.6,131.5 290.0,132.0 290.4,131.6 290.8,131.7 291.3,133.2 291.7,133.4 292.1,132.4 292.6,132.6 293.0,134.9 293.4,130.6 293.9,134.5 294.3,131.7 294.7,134.6 295.2,134.2 295.6,141.2 296.0,135.1 296.4,137.9 296.9,133.1 297.3,134.5 297.7,139.4 298.2,135.4 298.6,138.5 299.0,137.7 299.5,137.5 299.9,135.8 300.3,139.1 300.7,139.4 301.2,143.1 301.6,138.2 302.0,138.5 302.5,142.3 302.9,141.8 303.3,143.3 303.8,140.5 304.2,144.2 304.6,142.4 305.1,138.3 305.5,140.2 305.9,145.7 306.3,144.2 306.8,144.0 307.2,143.6 307.6,144.6 308.1,147.6 308.5,145.7 308.9,144.1 309.4,144.4 309.8,145.7 310.2,144.9 310.6,148.5 311.1,143.1 311.5,146.3 311.9,148.4 312.4,145.6 312.8,150.6 313.2,146.8 313.7,150.7 314.1,144.0 314.5,150.2 315.0,148.2 315.4,146.8 315.8,146.5 316.2,152.0 316.7,147.4 317.1,150.2 317.5,150.5 318.0,152.9 318.4,150.1 318.8,149.2 319.3,150.9 319.7,150.4 320.1,150.6 320.5,150.0 321.0,155.4 321.4,152.7 321.8,145.2 322.3,146.9 322.7,156.0 323.1,154.8 323.6,154.6 324.0,151.6 324.4,151.3 324.9,152.8 325.3,151.5 325.7,149.5 326.1,155.7 326.6,155.1 327.0,155.3 327.4,153.2 327.9,149.4 328.3,151.9 328.7,153.7 329.2,156.2 329.6,156.3 330.0,154.3 330.4,153.0 330.9,155.8 331.3,148.0 331.7,155.6 332.2,148.3 332.6,155.7 333.0,148.6 333.5,157.9 333.9,162.2 334.3,155.3 334.8,157.1 335.2,157.3 335.6,150.2 336.0,153.9 336.5,154.8 336.9,154.1 337.3,156.9 337.8,161.7 338.2,164.5 338.6,164.9 339.1,157.0 339.5,159.8 339.9,153.6 340.3,154.7 340.8,160.5 341.2,154.3 341.6,164.7 342.1,156.6 342.5,161.4 342.9,158.7 343.4,157.2 343.8,161.6 344.2,158.8 344.7,158.1 345.1,162.4 345.5,160.6 345.9,155.8 346.4,152.8 346.8,154.9 347.2,159.5 347.7,151.8 348.1,155.9 348.5,158.8 349.0,159.6 349.4,156.9 349.8,157.6 350.2,160.1 350.7,161.8 351.1,155.0 351.5,160.0 352.0,160.3 352.4,151.6 352.8,156.9 353.3,157.3 353.7,156.0 354.1,164.4 354.6,153.9 355.0,160.2 355.4,160.5 355.8,154.6 356.3,161.2 356.7,161.9 357.1,157.2 357.6,153.7 358.0,161.4 358.4,166.7 358.9,162.9 359.3,162.5 359.7,161.2 360.1,157.9 360.6,159.3 361.0,165.4 361.4,157.7 361.9,164.0 362.3,158.6 362.7,160.3 363.2,155.6 363.6,160.1 364.0,164.9 364.5,160.1 364.9,159.1 365.3,157.5 365.7,164.0 366.2,159.9 366.6,165.0 367.0,163.5 367.5,160.9 367.9,158.7 368.3,160.1 368.8,156.9 369.2,165.8 369.6,167.5 370.0,160.9 370.5,158.8 370.9,162.6 371.3,157.5 371.8,165.7 372.2,157.6 372.6,171.3 373.1,161.3 373.5,166.3 373.9,168.3 374.4,164.0 374.8,162.4 375.2,167.6 375.6,155.3 376.1,166.0 376.5,165.8 376.9,161.6 377.4,167.6 377.8,160.8 378.2,157.2 378.7,163.9 379.1,164.1 379.5,160.8 379.9,160.0 380.4,165.6 380.8,161.1 381.2,164.9 381.7,159.1 382.1,168.0 382.5,158.2 383.0,161.8 383.4,160.4 383.8,159.8 384.3,160.8 384.7,172.3 385.1,158.0 385.5,163.8 386.0,159.8 386.4,163.6 386.8,155.2 387.3,166.2 387.7,166.7 388.1,163.2 388.6,166.3 389.0,159.5 389.4,161.3 389.9,159.3 390.3,165.8 390.7,156.4 391.1,164.9 391.6,161.4 392.0,163.0 392.4,165.4 392.9,169.2 393.3,165.8 393.7,162.0 394.2,166.6 394.6,162.5 395.0,162.2 395.4,165.7 395.9,163.8 396.3,161.7 396.7,163.9 397.2,175.5 397.6,164.2 398.0,168.4 398.5,166.7 398.9,175.9 399.3,167.1 399.8,171.2 400.2,175.5 400.6,171.6 401.0,167.2 401.5,164.0 401.9,167.3 402.3,175.9 402.8,164.6 403.2,174.5 403.6,169.1 404.1,170.9 404.5,164.0 404.9,170.1 405.3,163.6 405.8,172.5 406.2,165.3 406.6,161.2 407.1,162.9 407.5,166.8 407.9,167.2 408.4,171.5 408.8,164.8 409.2,176.6 409.7,165.4 410.1,171.1 410.5,160.3 410.9,174.3 411.4,175.6 411.8,174.1 412.2,166.0 412.7,163.9 413.1,158.5 413.5,161.7 414.0,162.6 414.4,161.9 414.8,170.9 415.2,168.0 415.7,167.5 416.1,175.9 416.5,168.6 417.0,176.9 417.4,170.3 417.8,169.6 418.3,168.8 418.7,166.8 419.1,176.5 419.6,166.1 420.0,163.8 420.4,166.7 420.8,175.7 421.3,171.7 421.7,170.7 422.1,168.4 422.6,164.1 423.0,165.5 423.4,164.6 423.9,169.0 424.3,166.8 424.7,177.7 425.1,172.0 425.6,171.8 426.0,178.4 426.4,170.1 426.9,177.2 427.3,175.9 427.7,175.1 428.2,177.1 428.6,171.0 429.0,173.6 429.5,175.1 429.9,183.8 430.3,172.4 430.7,177.7 431.2,181.3 431.6,170.2 432.0,168.1 432.5,171.1 432.9,176.9 433.3,173.0 433.8,175.7 434.2,171.8 434.6,173.0 435.0,173.8 435.5,175.2 435.9,186.1 436.3,174.6 436.8,185.2 437.2,169.9 437.6,179.0 438.1,167.6 438.5,173.9 438.9,168.1 439.4,173.7 439.8,175.1 440.2,171.3 440.6,174.7 441.1,178.5 441.5,176.4 441.9,183.1 442.4,177.7 442.8,182.9 443.2,182.0 443.7,177.9 444.1,180.2 444.5,172.1 444.9,183.1 445.4,172.4 445.8,183.2 446.2,175.7 446.7,188.2 447.1,178.6 447.5,180.0 448.0,171.4 448.4,171.7 448.8,180.7 449.3,187.5 449.7,178.7 450.1,169.7 450.5,186.1 451.0,180.1 451.4,185.3 451.8,180.7 452.3,179.7 452.7,182.4 453.1,170.6 453.6,176.2 454.0,180.3 454.4,180.8 454.8,173.6 455.3,186.8 455.7,181.5 456.1,178.9 456.6,172.6 457.0,181.1 457.4,179.8 457.9,184.8 458.3,194.7 458.7,185.7 459.2,182.3 459.6,184.4 460.0,189.2 460.4,187.9 460.9,182.7 461.3,185.4 461.7,191.0 462.2,191.7 462.6,190.0 463.0,183.8 463.5,192.6 463.9,191.9 464.3,183.2 464.7,182.9 465.2,185.0 465.6,185.7 466.0,183.5 466.5,188.1 466.9,181.0 467.3,181.7 467.8,193.3 468.2,183.0 468.6,186.5 469.1,180.0 469.5,179.8 469.9,186.7 470.3,191.4 470.8,195.3 471.2,183.7 471.6,185.5 472.1,186.7 472.5,182.6 472.9,184.7 473.4,193.3 473.8,186.4 474.2,193.4 474.6,182.9 475.1,191.5 475.5,186.1 475.9,196.6 476.4,194.7 476.8,192.7 477.2,177.4 477.7,189.4 478.1,186.3 478.5,183.1 479.0,180.1 479.4,187.6 479.8,191.0 480.2,194.0 480.7,184.5 481.1,191.1 481.5,190.4 482.0,187.8 482.4,183.7 482.8,181.9 483.3,195.9 483.7,199.5 484.1,195.6 484.5,192.0 485.0,190.2 485.4,188.2 485.8,182.7 486.3,186.6 486.7,187.8 487.1,191.8 487.6,190.7 488.0,181.5 488.4,189.3 488.9,196.0 489.3,191.6 489.7,197.7 490.1,195.6 490.6,184.9 491.0,192.1 491.4,201.1 491.9,193.4 492.3,196.3 492.7,201.8 493.2,184.8 493.6,204.4 494.0,196.8 494.5,199.4 494.9,190.0 495.3,190.2 495.7,189.8 496.2,187.8 496.6,187.2 497.0,192.2 497.5,197.0 497.9,189.0 498.3,188.6 498.8,206.1 499.2,185.1 499.6,192.5 500.0,193.9 500.5,189.2 500.9,182.9 501.3,196.6 501.8,197.2 502.2,191.7 502.6,201.7 503.1,199.6 503.5,192.8 503.9,183.3 504.4,196.3 504.8,198.8 505.2,195.5 505.6,194.2 506.1,201.2 506.5,188.6 506.9,192.7 507.4,186.0 507.8,201.3 508.2,201.9 508.7,194.2 509.1,192.7 509.5,196.7 509.9,192.5 510.4,196.9 510.8,194.1 511.2,206.9 511.7,195.5 512.1,199.4 512.5,192.5 513.0,197.6 513.4,210.0 513.8,198.0 514.3,195.5 514.7,199.6 515.1,211.7 515.5,197.5 516.0,201.8 516.4,204.0 516.8,193.9 517.3,205.8 517.7,195.4 518.1,197.7 518.6,200.8 519.0,198.5 519.4,197.0 519.8,188.8 520.3,200.1 520.7,201.6 521.1,190.3 521.6,195.0 522.0,204.9 522.4,207.9 522.9,201.8 523.3,197.7 523.7,200.7 524.2,212.7 524.6,198.5 525.0,201.1 525.4,206.3 525.9,207.6 526.3,209.1 526.7,217.3 527.2,205.4 527.6,202.1 528.0,199.4 528.5,205.3 528.9,206.9 529.3,209.0 529.7,207.8 530.2,198.6 530.6,218.8 531.0,201.5 531.5,207.3 531.9,209.2 532.3,206.0 532.8,210.4 533.2,208.3 533.6,202.9 534.1,197.5 534.5,207.4 534.9,212.0 535.3,212.5 535.8,194.2 536.2,213.0 536.6,204.7 537.1,216.0 537.5,210.9 537.9,218.6 538.4,208.9 538.8,219.1 539.2,200.9 539.6,212.4 540.1,195.6 540.5,207.6 540.9,203.2 541.4,200.7 541.8,205.3"/>
<line class="d" stroke="#0000ff" stroke-opacity="0.75" x1="541.8" y1="205.3" x2="541.8" y2="222.7"/>
<polyline class="d" stroke="#ff00ff" points="133.3,93.0 133.7,87.8 134.2,87.8 134.6,87.8 135.0,87.8 135.5,87.8 135.9,87.8 136.3,87.8 136.7,87.8 137.2,87.8 137.6,87.8 138.0,87.8 138.5,87.8 138.9,87.8 139.3,87.8 139.8,87.8 140.2,87.8 140.6,87.8 141.0,87.8 141.5,87.8 141.9,87.8 142.3,87.8 142.8,87.8 143.2,87.8 143.6,87.8 144.1,87.8 144.5,87.8 144.9,87.8 145.4,87.8 145.8,87.8 146.2,87.8 146.6,87.8 147.1,87.8 147.5,87.8 147.9,87.8 148.4,87.8 148.8,87.8 149.2,87.8 149.7,87.8 150.1,87.8 150.5,87.8 150.9,87.8 151.4,87.8 151.8,87.8 152.2,87.8 152.7,87.8 153.1,87.8 153.5,87.8 154.0,87.8 154.4,87.8 154.8,87.8 155.3,87.8 155.7,87.8 156.1,87.9 156.5,87.8 157.0,87.8 157.4,87.8 157.8,87.8 158.3,87.8 158.7,87.8 159.1,87.8 159.6,87.8 160.0,87.8 160.4,87.8 160.8,87.8 161.3,87.8 161.7,87.8 162.1,87.8 162.6,87.8 163.0,87.8 163.4,87.8 163.9,87.8 164.3,87.8 164.7,87.8 165.2,87.8 165.6,87.8 166.0,87.8 166.4,87.8 166.9,87.8 167.3,87.8 167.7,87.8 168.2,87.9 168.6,87.9 169.0,87.8 169.5,87.8 169.9,87.8 170.3,87.8 170.7,87.8 171.2,87.8 171.6,87.8 172.0,87.7 172.5,87.8 172.9,87.8 173.3,87.9 173.8,87.8 174.2,87.8 174.6,87.8 175.1,87.8 175.5,87.8 175.9,87.8 176.3,87.7 176.8,87.8 177.2,87.9 177.6,87.8 178.1,87.8 178.5,87.8 178.9,87.9 179.4,87.7 179.8,87.8 180.2,87.8 180.6,88.0 181.1,87.8 181.5,88.0 181.9,88.0 182.4,87.9 182.8,87.7 183.2,87.7 183.7,87.8 184.1,87.7 184.5,87.7 185.0,87.7 185.4,87.7 185.8,87.7 186.2,87.7 186.7,87.8 187.1,87.7 187.5,87.8 188.0,87.8 188.4,88.0 188.8,88.0 189.3,87.8 189.7,88.0 190.1,88.0 190.6,88.3 191.0,88.2 191.4,88.3 191.8,88.6 192.3,88.4 192.7,88.7 193.1,89.2 193.6,89.2 194.0,89.2 194.4,89.6 194.9,89.9 195.3,89.8 195.7,90.0 196.1,90.2 196.6,90.4 197.0,90.5 197.4,90.9 197.9,91.1 198.3,91.0 198.7,91.8 199.2,91.8 199.6,91.6 200.0,91.8 200.5,92.0 200.9,92.5 201.3,92.2 201.7,93.1 202.2,92.8 202.6,93.0 203.0,93.2 203.5,93.1 203.9,93.6 204.3,93.6 204.8,93.8 205.2,94.2 205.6,94.2 206.0,94.2 206.5,94.8 206.9,95.3 207.3,95.5 207.8,95.6 208.2,95.6 208.6,95.7 209.1,96.2 209.5,96.4 209.9,96.6 210.4,97.0 210.8,97.1 211.2,97.0 211.6,97.2 212.1,97.1 212.5,97.5 212.9,97.9 213.4,98.1 213.8,98.2 214.2,98.1 214.7,98.1 215.1,98.3 215.5,99.0 215.9,99.8 216.4,99.5 216.8,99.6 217.2,100.5 217.7,99.7 218.1,100.5 218.5,100.2 219.0,100.6 219.4,101.0 219.8,100.8 220.3,101.3 220.7,101.1 221.1,101.0 221.5,100.9 222.0,101.4 222.4,102.0 222.8,101.6 223.3,102.8 223.7,102.5 224.1,102.6 224.6,102.6 225.0,102.9 225.4,103.6 225.8,102.8 226.3,103.9 226.7,103.5 227.1,103.5 227.6,103.7 228.0,104.0 228.4,104.7 228.9,105.4 229.3,105.0 229.7,105.4 230.2,104.8 230.6,105.8 231.0,105.7 231.4,105.2 231.9,105.9 232.3,105.8 232.7,105.5 233.2,107.2 233.6,106.7 234.0,107.1 234.5,108.6 234.9,107.6 235.3,108.5 235.7,108.2 236.2,109.4 236.6,108.6 237.0,109.3 237.5,109.5 237.9,108.9 238.3,109.2 238.8,109.8 239.2,111.4 239.6,111.2 240.1,109.8 240.5,111.2 240.9,111.1 241.3,110.2 241.8,111.6 242.2,112.5 242.6,110.8 243.1,111.6 243.5,112.8 243.9,113.2 244.4,114.1 244.8,114.5 245.2,113.2 245.6,114.4 246.1,113.9 246.5,114.3 246.9,114.7 247.4,115.1 247.8,114.5 248.2,115.1 248.7,115.7 249.1,115.9 249.5,117.2 250.0,116.4 250.4,117.6 250.8,116.6 251.2,116.6 251.7,117.5 252.1,117.9 252.5,119.9 253.0,118.3 253.4,119.8 253.8,120.2 254.3,119.8 254.7,119.8 255.1,120.6 255.5,120.8 256.0,120.8 256.4,121.9 256.8,122.3 257.3,122.0 257.7,122.0 258.1,122.6 258.6,123.5 259.0,123.6 259.4,125.3 259.9,125.9 260.3,124.5 260.7,125.9 261.1,125.4 261.6,127.5 262.0,125.1 262.4,126.5 262.9,128.0 263.3,128.6 263.7,129.7 264.2,127.3 264.6,128.9 265.0,128.3 265.4,128.2 265.9,130.0 266.3,130.5 266.7,129.8 267.2,130.3 267.6,130.1 268.0,130.6 268.5,131.5 268.9,130.6 269.3,131.5 269.8,130.1 270.2,131.6 270.6,134.4 271.0,134.2 271.5,132.3 271.9,133.9 272.3,132.7 272.8,133.0 273.2,134.8 273.6,136.1 274.1,136.7 274.5,134.4 274.9,138.2 275.3,135.2 275.8,135.0 276.2,135.5 276.6,134.3 277.1,138.7 277.5,136.1 277.9,137.4 278.4,140.4 278.8,137.7 279.2,138.8 279.7,138.5 280.1,137.2 280.5,141.4 280.9,139.7 281.4,139.9 281.8,140.3 282.2,142.0 282.7,140.0 283.1,140.7 283.5,142.7 284.0,141.7 284.4,143.4 284.8,143.2 285.2,142.4 285.7,142.0 286.1,144.8 286.5,142.8 287.0,143.6 287.4,142.9 287.8,142.6 288.3,145.8 288.7,147.6 289.1,147.8 289.6,145.5 290.0,146.3 290.4,145.5 290.8,151.3 291.3,149.6 291.7,149.1 292.1,149.2 292.6,147.6 293.0,150.0 293.4,148.7 293.9,147.7 294.3,149.0 294.7,151.0 295.2,150.2 295.6,149.6 296.0,150.0 296.4,155.5 296.9,149.4 297.3,148.8 297.7,152.7 298.2,151.2 298.6,151.5 299.0,154.2 299.5,152.9 299.9,152.4 300.3,154.8 300.7,157.3 301.2,154.9 301.6,156.2 302.0,154.6 302.5,156.3 302.9,154.2 303.3,154.3 303.8,158.9 304.2,154.4 304.6,155.1 305.1,155.2 305.5,157.5 305.9,154.5 306.3,160.0 306.8,158.3 307.2,155.2 307.6,159.4 308.1,157.2 308.5,162.0 308.9,162.5 309.4,158.1 309.8,159.2 310.2,159.7 310.6,160.6 311.1,163.6 311.5,158.6 311.9,162.5 312.4,156.2 312.8,160.1 313.2,159.6 313.7,164.7 314.1,166.9 314.5,164.2 315.0,157.5 315.4,161.0 315.8,163.3 316.2,162.1 316.7,160.9 317.1,166.3 317.5,166.3 318.0,167.3 318.4,165.0 318.8,164.9 319.3,167.8 319.7,163.6 320.1,160.6 320.5,167.9 321.0,169.4 321.4,169.3 321.8,167.6 322.3,166.8 322.7,168.2 323.1,164.2 323.6,172.7 324.0,170.7 324.4,167.2 324.9,165.5 325.3,171.7 325.7,166.7 326.1,165.5 326.6,165.3 327.0,168.4 327.4,169.9 327.9,163.6 328.3,169.1 328.7,172.4 329.2,176.6 329.6,175.0 330.0,164.0 330.4,167.7 330.9,167.9 331.3,167.0 331.7,170.4 332.2,172.4 332.6,172.0 333.0,171.0 333.5,175.8 333.9,172.1 334.3,171.8 334.8,175.2 335.2,171.7 335.6,171.1 336.0,169.2 336.5,173.9 336.9,170.6 337.3,176.2 337.8,171.1 338.2,175.3 338.6,168.6 339.1,177.4 339.5,174.0 339.9,176.8 340.3,178.3 340.8,174.4 341.2,173.1 341.6,184.3 342.1,171.0 342.5,179.6 342.9,175.4 343.4,173.8 343.8,179.0 344.2,176.6 344.7,178.8 345.1,182.8 345.5,177.4 345.9,174.2 346.4,179.7 346.8,172.2 347.2,170.8 347.7,177.9 348.1,174.4 348.5,174.2 349.0,172.5 349.4,177.2 349.8,184.9 350.2,173.4 350.7,183.7 351.1,172.4 351.5,174.6 352.0,177.5 352.4,182.4 352.8,174.5 353.3,172.1 353.7,178.1 354.1,176.6 354.6,168.2 355.0,173.3 355.4,172.2 355.8,173.1 356.3,174.3 356.7,172.2 357.1,174.5 357.6,176.7 358.0,172.1 358.4,174.3 358.9,179.1 359.3,169.4 359.7,170.2 360.1,172.0 360.6,175.5 361.0,172.2 361.4,175.5 361.9,170.5 362.3,167.9 362.7,174.4 363.2,175.1 363.6,165.9 364.0,167.7 364.5,176.0 364.9,174.8 365.3,170.9 365.7,167.9 366.2,175.2 366.6,167.2 367.0,173.2 367.5,177.6 367.9,178.4 368.3,173.9 368.8,169.0 369.2,173.6 369.6,166.8 370.0,177.8 370.5,168.7 370.9,175.9 371.3,178.5 371.8,171.6 372.2,175.8 372.6,176.3 373.1,169.7 373.5,174.4 373.9,177.0 374.4,172.8 374.8,173.0 375.2,181.5 375.6,175.2 376.1,175.0 376.5,170.0 376.9,174.4 377.4,176.8 377.8,176.1 378.2,172.1 378.7,183.3 379.1,177.0 379.5,176.0 379.9,174.4 380.4,175.0 380.8,179.0 381.2,177.5 381.7,171.0 382.1,173.3 382.5,175.3 383.0,181.6 383.4,177.6 383.8,172.0 384.3,172.2 384.7,172.0 385.1,171.3 385.5,173.4 386.0,168.8 386.4,169.6 386.8,177.4 387.3,176.4 387.7,179.1 388.1,175.5 388.6,174.4 389.0,168.2 389.4,178.1 389.9,176.8 390.3,169.0 390.7,166.4 391.1,170.0 391.6,167.7 392.0,170.7 392.4,169.9 392.9,168.0 393.3,166.6 393.7,165.6 394.2,168.6 394.6,169.9 395.0,168.7 395.4,171.1 395.9,169.0 396.3,174.0 396.7,166.4 397.2,174.3 397.6,167.8 398.0,180.6 398.5,177.3 398.9,176.8 399.3,179.5 399.8,168.7 400.2,175.3 400.6,169.0 401.0,170.3 401.5,167.7 401.9,168.7 402.3,169.1 402.8,165.7 403.2,165.1 403.6,173.2 404.1,169.6 404.5,172.7 404.9,170.5 405.3,172.5 405.8,170.1 406.2,169.7 406.6,168.7 407.1,171.9 407.5,174.1 407.9,166.9 408.4,164.0 408.8,166.4 409.2,162.9 409.7,170.2 410.1,168.8 410.5,168.9 410.9,166.6 411.4,163.6 411.8,180.2 412.2,168.1 412.7,174.3 413.1,168.9 413.5,168.9 414.0,166.6 414.4,172.2 414.8,165.0 415.2,162.3 415.7,160.0 416.1,170.6 416.5,173.7 417.0,167.8 417.4,166.2 417.8,165.9 418.3,173.0 418.7,163.0 419.1,170.1 419.6,175.8 420.0,166.0 420.4,166.6 420.8,165.0 421.3,168.2 421.7,169.7 422.1,163.6 422.6,165.6 423.0,161.9 423.4,173.7 423.9,166.8 424.3,164.6 424.7,171.8 425.1,177.6 425.6,173.1 426.0,171.8 426.4,167.2 426.9,171.0 427.3,171.4 427.7,172.1 428.2,167.6 428.6,172.3 429.0,168.3 429.5,162.7 429.9,171.5 430.3,164.1 430.7,170.6 431.2,163.1 431.6,169.6 432.0,170.4 432.5,166.1 432.9,166.4 433.3,166.9 433.8,162.4 434.2,166.0 434.6,165.0 435.0,166.1 435.5,178.3 435.9,169.7 436.3,169.1 436.8,164.3 437.2,167.3 437.6,164.9 438.1,177.3 438.5,164.4 438.9,171.5 439.4,168.1 439.8,173.8 440.2,172.6 440.6,167.3 441.1,173.7 441.5,165.3 441.9,168.6 442.4,177.7 442.8,167.8 443.2,169.1 443.7,165.4 444.1,160.8 444.5,174.9 444.9,175.7 445.4,165.3 445.8,167.0 446.2,157.9 446.7,167.4 447.1,163.8 447.5,166.8 448.0,170.6 448.4,163.1 448.8,162.8 449.3,165.8 449.7,168.9 450.1,159.3 450.5,164.1 451.0,164.5 451.4,159.6 451.8,166.8 452.3,167.2 452.7,159.7 453.1,168.1 453.6,162.5 454.0,161.6 454.4,160.1 454.8,163.8 455.3,160.7 455.7,158.9 456.1,161.7 456.6,167.7 457.0,166.7 457.4,165.6 457.9,165.8 458.3,170.1 458.7,166.3 459.2,166.5 459.6,160.0 460.0,167.2 460.4,164.9 460.9,165.2 461.3,166.7 461.7,164.1 462.2,163.0 462.6,165.0 463.0,163.7 463.5,164.2 463.9,169.6 464.3,171.2 464.7,169.7 465.2,170.6 465.6,167.4 466.0,172.7 466.5,168.1 466.9,168.4 467.3,174.3 467.8,172.9 468.2,165.7 468.6,166.2 469.1,166.4 469.5,177.7 469.9,169.1 470.3,176.1 470.8,174.4 471.2,174.1 471.6,175.0 472.1,167.9 472.5,168.3 472.9,175.2 473.4,171.1 473.8,164.1 474.2,169.8 474.6,171.2 475.1,159.7 475.5,169.2 475.9,173.0 476.4,171.6 476.8,168.1 477.2,169.1 477.7,169.9 478.1,169.9 478.5,169.4 479.0,173.2 479.4,174.7 479.8,165.8 480.2,168.7 480.7,171.9 481.1,174.9 481.5,179.6 482.0,165.4 482.4,167.3 482.8,174.1 483.3,177.3 483.7,166.3 484.1,169.7 484.5,163.9 485.0,171.7 485.4,171.9 485.8,170.7 486.3,173.1 486.7,176.7 487.1,159.9 487.6,168.8 488.0,172.3 488.4,178.2 488.9,175.6 489.3,175.4 489.7,171.4 490.1,165.4 490.6,176.6 491.0,177.9 491.4,168.2 491.9,172.6 492.3,172.2 492.7,168.2 493.2,174.3 493.6,177.6 494.0,180.7 494.5,175.5 494.9,173.2 495.3,184.1 495.7,169.8 496.2,171.8 496.6,171.1 497.0,172.0 497.5,173.2 497.9,171.3 498.3,169.5 498.8,170.4 499.2,172.7 499.6,174.8 500.0,177.4 500.5,184.7 500.9,176.3 501.3,167.1 501.8,171.7 502.2,171.9 502.6,175.5 503.1,173.7 503.5,165.9 503.9,175.8 504.4,172.4 504.8,167.5 505.2,177.6 505.6,178.9 506.1,174.2 506.5,187.5 506.9,169.2 507.4,171.2 507.8,172.7 508.2,177.6 508.7,174.6 509.1,179.6 509.5,181.7 509.9,178.8 510.4,178.6 510.8,184.2 511.2,169.7 511.7,172.0 512.1,176.5 512.5,174.9 513.0,179.1 513.4,181.2 513.8,178.2 514.3,174.3 514.7,176.3 515.1,179.7 515.5,178.7 516.0,177.8 516.4,184.1 516.8,169.4 517.3,174.6 517.7,171.6 518.1,177.4 518.6,178.7 519.0,172.5 519.4,183.2 519.8,173.8 520.3,178.1 520.7,181.0 521.1,177.7 521.6,175.4 522.0,185.0 522.4,180.7 522.9,189.0 523.3,178.4 523.7,179.5 524.2,176.8 524.6,176.9 525.0,173.7 525.4,179.7 525.9,179.0 526.3,176.4 526.7,178.6 527.2,176.4 527.6,179.9 528.0,177.8 528.5,188.9 528.9,182.3 529.3,186.6 529.7,181.6 530.2,176.4 530.6,189.1 531.0,190.8 531.5,179.7 531.9,184.9 532.3,182.9 532.8,187.5 533.2,184.9 533.6,181.8 534.1,179.5 534.5,174.3 534.9,185.2 535.3,185.2 535.8,189.1 536.2,186.6 536.6,184.5 537.1,189.9 537.5,176.5 537.9,186.0 538.4,184.5 538.8,186.5 539.2,196.6 539.6,186.5 540.1,192.2 540.5,191.0 540.9,176.8 541.4,182.7 541.8,174.6"/>
<line class="d" stroke="#ff00ff" stroke-opacity="0.75" x1="541.8" y1="174.6" x2="541.8" y2="195.0"/>
<rect x="493.5" y="8.5" width="112" height="92" fill="#fff" stroke="#000" stroke-width="0.65"/>
<line x1="500.0" y1="21.5" x2="541.8" y2="21.5" stroke="#000000" stroke-width="1" stroke-opacity="0.68"/>
<text class="l" x="547.1" y="27.8">Head1</text>
<line x1="500.0" y1="44.5" x2="541.8" y2="44.5" stroke="#ff0000" stroke-width="1" stroke-opacity="0.50"/>
<text class="l" x="547.1" y="50.4">Head2</text>
<line x1="500.0" y1="66.5" x2="541.8" y2="66.5" stroke="#0000ff" stroke-width="1" stroke-opacity="0.32"/>
<text class="l" x="547.1" y="73.0">Head3</text>
<line x1="500.0" y1="89.5" x2="541.8" y2="89.5" stroke="#ff00ff" stroke-width="1" stroke-opacity="0.78"/>
<text class="l" x="547.1" y="95.6">Head4</text>
</g>
<g>
<path class="ax" d="M822.2,48.6 V415.0 M821.6,414.4 H1313.6"/>
<path class="ax" d="M822.2,49.12 h-4.2 M822.2,71.95 h-7.6 M822.2,94.78 h-4.2 M822.2,117.61 h-7.6 M822.2,140.44 h-4.2 M822.2,163.27 h-7.6 M822.2,186.10 h-4.2 M822.2,208.93 h-7.6 M822.2,231.76 h-4.2 M822.2,254.59 h-7.6 M822.2,277.42 h-4.2 M822.2,300.25 h-7.6 M822.2,323.08 h-4.2 M822.2,345.91 h-7.6 M822.2,368.74 h-4.2 M822.2,391.57 h-7.6 M822.2,414.40 h-4.2 M822.20,414.4 v4.2 M863.10,414.4 v7.6 M904.00,414.4 v4.2 M944.90,414.4 v7.6 M985.80,414.4 v4.2 M1026.70,414.4 v7.6 M1067.60,414.4 v4.2 M1108.50,414.4 v7.6 M1149.40,414.4 v4.2 M1190.30,414.4 v7.6 M1231.20,414.4 v4.2 M1272.10,414.4 v7.6 M1313.00,414.4 v4.2"/>
<text class="t" x="810.0" y="77.0" text-anchor="end">0.70</text>
<text class="t" x="810.0" y="122.7" text-anchor="end">0.68</text>
<text class="t" x="810.0" y="168.4" text-anchor="end">0.66</text>
<text class="t" x="810.0" y="214.0" text-anchor="end">0.64</text>
<text class="t" x="810.0" y="259.7" text-anchor="end">0.62</text>
<text class="t" x="810.0" y="305.4" text-anchor="end">0.60</text>
<text class="t" x="810.0" y="351.0" text-anchor="end">0.58</text>
<text class="t" x="810.0" y="396.7" text-anchor="end">0.56</text>
<text class="t" x="863.1" y="438.6" text-anchor="middle">0</text>
<text class="t" x="944.9" y="438.6" text-anchor="middle">20000</text>
<text class="t" x="1026.7" y="438.6" text-anchor="middle">40000</text>
<text class="t" x="1108.5" y="438.6" text-anchor="middle">60000</text>
<text class="t" x="1190.3" y="438.6" text-anchor="middle">80000</text>
<text class="t" x="1272.1" y="438.6" text-anchor="middle">100000</text>
<text class="l" x="1067.6" y="467.1" text-anchor="middle">Episode</text>
<text class="l" transform="translate(758.1,224) rotate(-90)" text-anchor="middle">Attention Entropy</text>
<polyline class="d" stroke="#000000" points="863.5,112.0 863.9,98.4 864.4,96.4 864.8,94.9 865.2,94.8 865.7,94.2 866.1,92.7 866.5,93.2 866.9,92.7 867.4,91.8 867.8,91.9 868.2,91.9 868.7,91.2 869.1,91.1 869.5,90.8 870.0,90.8 870.4,90.9 870.8,91.4 871.2,91.7 871.7,91.6 872.1,91.6 872.5,91.5 873.0,91.2 873.4,90.3 873.8,90.7 874.3,90.9 874.7,91.5 875.1,91.2 875.6,91.6 876.0,91.1 876.4,92.6 876.8,90.8 877.3,92.1 877.7,92.2 878.1,92.3 878.6,92.2 879.0,92.5 879.4,91.9 879.9,92.4 880.3,92.5 880.7,92.1 881.1,91.5 881.6,92.8 882.0,92.1 882.4,93.3 882.9,92.7 883.3,93.9 883.7,93.8 884.2,93.6 884.6,94.2 885.0,93.7 885.5,93.3 885.9,93.8 886.3,94.2 886.7,93.5 887.2,93.9 887.6,93.0 888.0,93.0 888.5,93.6 888.9,92.6 889.3,94.0 889.8,93.7 890.2,92.6 890.6,94.6 891.0,94.0 891.5,95.8 891.9,95.1 892.3,93.9 892.8,95.1 893.2,94.0 893.6,95.8 894.1,95.8 894.5,93.2 894.9,95.8 895.4,95.8 895.8,94.2 896.2,94.8 896.6,95.6 897.1,94.8 897.5,96.0 897.9,95.7 898.4,95.7 898.8,96.7 899.2,96.1 899.7,97.7 900.1,96.1 900.5,95.8 900.9,94.7 901.4,95.6 901.8,96.1 902.2,96.1 902.7,97.0 903.1,97.0 903.5,97.1 904.0,95.9 904.4,96.5 904.8,97.4 905.3,97.3 905.7,95.9 906.1,96.7 906.5,98.3 907.0,95.6 907.4,95.9 907.8,96.9 908.3,94.8 908.7,96.6 909.1,99.2 909.6,97.6 910.0,97.9 910.4,97.5 910.8,96.5 911.3,96.0 911.7,98.4 912.1,95.7 912.6,98.4 913.0,99.2 913.4,97.7 913.9,99.6 914.3,98.1 914.7,97.4 915.2,96.8 915.6,97.7 916.0,97.3 916.4,99.5 916.9,97.6 917.3,97.7 917.7,101.1 918.2,100.7 918.6,100.1 919.0,95.9 919.5,99.1 919.9,98.8 920.3,96.9 920.8,98.5 921.2,99.9 921.6,96.8 922.0,98.1 922.5,97.1 922.9,98.0 923.3,97.0 923.8,97.3 924.2,97.2 924.6,99.2 925.1,97.3 925.5,97.2 925.9,98.9 926.3,97.8 926.8,98.3 927.2,98.3 927.6,99.5 928.1,97.4 928.5,96.7 928.9,98.4 929.4,99.5 929.8,99.0 930.2,96.8 930.7,99.6 931.1,99.1 931.5,101.1 931.9,99.9 932.4,98.4 932.8,98.5 933.2,98.8 933.7,97.8 934.1,98.3 934.5,99.6 935.0,100.4 935.4,97.9 935.8,99.8 936.2,97.9 936.7,100.7 937.1,97.4 937.5,100.2 938.0,100.5 938.4,102.3 938.8,100.6 939.3,100.4 939.7,98.0 940.1,99.1 940.6,102.2 941.0,98.0 941.4,98.1 941.8,98.5 942.3,99.7 942.7,101.3 943.1,98.3 943.6,104.1 944.0,104.8 944.4,99.4 944.9,100.4 945.3,100.1 945.7,100.0 946.1,100.5 946.6,101.1 947.0,101.0 947.4,101.4 947.9,102.5 948.3,101.1 948.7,103.7 949.2,103.2 949.6,104.0 950.0,102.6 950.5,99.9 950.9,99.7 951.3,100.7 951.7,104.5 952.2,103.0 952.6,104.1 953.0,102.9 953.5,104.8 953.9,103.4 954.3,104.0 954.8,101.8 955.2,104.3 955.6,103.3 956.0,102.4 956.5,105.4 956.9,105.3 957.3,102.2 957.8,106.6 958.2,103.9 958.6,107.3 959.1,105.0 959.5,104.5 959.9,102.5 960.4,103.1 960.8,101.8 961.2,103.7 961.6,105.6 962.1,106.5 962.5,101.6 962.9,105.4 963.4,103.9 963.8,106.0 964.2,103.7 964.7,106.5 965.1,110.5 965.5,107.3 965.9,104.7 966.4,108.8 966.8,109.0 967.2,107.7 967.7,107.8 968.1,106.5 968.5,106.0 969.0,110.1 969.4,106.7 969.8,107.7 970.3,108.2 970.7,106.3 971.1,107.8 971.5,107.2 972.0,108.2 972.4,104.8 972.8,107.6 973.3,107.1 973.7,109.2 974.1,111.1 974.6,107.2 975.0,109.0 975.4,108.1 975.8,105.0 976.3,106.9 976.7,112.8 977.1,111.6 977.6,112.2 978.0,110.4 978.4,108.9 978.9,110.2 979.3,109.9 979.7,111.9 980.2,108.9 980.6,110.0 981.0,113.8 981.4,110.2 981.9,111.4 982.3,113.5 982.7,117.9 983.2,111.7 983.6,111.1 984.0,110.2 984.5,112.8 984.9,112.5 985.3,108.5 985.7,111.5 986.2,113.4 986.6,115.7 987.0,110.4 987.5,110.6 987.9,111.6 988.3,118.0 988.8,115.8 989.2,113.6 989.6,117.7 990.1,110.4 990.5,112.7 990.9,114.8 991.3,112.0 991.8,113.3 992.2,113.4 992.6,114.0 993.1,118.1 993.5,118.7 993.9,117.9 994.4,116.6 994.8,121.1 995.2,112.5 995.6,113.7 996.1,114.7 996.5,120.1 996.9,118.7 997.4,125.9 997.8,117.6 998.2,117.4 998.7,114.1 999.1,114.9 999.5,119.7 1000.0,117.6 1000.4,122.9 1000.8,120.6 1001.2,126.5 1001.7,122.6 1002.1,118.3 1002.5,124.8 1003.0,125.4 1003.4,123.1 1003.8,126.9 1004.3,123.4 1004.7,130.4 1005.1,128.9 1005.5,129.9 1006.0,122.6 1006.4,126.5 1006.8,127.1 1007.3,124.0 1007.7,125.6 1008.1,125.1 1008.6,126.4 1009.0,122.2 1009.4,129.7 1009.9,122.0 1010.3,128.2 1010.7,126.7 1011.1,127.0 1011.6,135.1 1012.0,132.1 1012.4,132.1 1012.9,130.1 1013.3,133.7 1013.7,128.0 1014.2,128.2 1014.6,130.2 1015.0,133.5 1015.4,130.0 1015.9,128.0 1016.3,127.6 1016.7,133.5 1017.2,129.0 1017.6,132.8 1018.0,130.5 1018.5,128.1 1018.9,133.2 1019.3,131.4 1019.8,130.6 1020.2,131.3 1020.6,130.6 1021.0,132.8 1021.5,132.7 1021.9,132.5 1022.3,130.2 1022.8,134.8 1023.2,132.8 1023.6,133.0 1024.1,134.2 1024.5,136.3 1024.9,137.4 1025.4,132.4 1025.8,133.1 1026.2,144.9 1026.6,141.6 1027.1,131.4 1027.5,133.3 1027.9,138.9 1028.4,146.0 1028.8,138.2 1029.2,141.5 1029.7,139.9 1030.1,145.7 1030.5,141.2 1030.9,142.4 1031.4,141.9 1031.8,147.8 1032.2,145.6 1032.7,146.2 1033.1,146.8 1033.5,145.9 1034.0,148.7 1034.4,149.9 1034.8,147.1 1035.3,151.2 1035.7,147.3 1036.1,155.5 1036.5,148.7 1037.0,151.5 1037.4,149.6 1037.8,151.1 1038.3,149.0 1038.7,154.3 1039.1,161.6 1039.6,152.1 1040.0,151.0 1040.4,150.4 1040.8,158.5 1041.3,152.9 1041.7,155.9 1042.1,156.6 1042.6,154.5 1043.0,156.7 1043.4,159.9 1043.9,162.0 1044.3,158.2 1044.7,155.3 1045.2,161.4 1045.6,159.2 1046.0,156.3 1046.4,159.7 1046.9,162.3 1047.3,165.2 1047.7,157.0 1048.2,157.3 1048.6,171.2 1049.0,167.5 1049.5,165.9 1049.9,175.2 1050.3,162.6 1050.7,161.5 1051.2,171.8 1051.6,166.3 1052.0,165.8 1052.5,172.1 1052.9,167.7 1053.3,168.2 1053.8,172.9 1054.2,174.1 1054.6,170.4 1055.1,170.5 1055.5,178.3 1055.9,177.1 1056.3,178.6 1056.8,183.0 1057.2,174.4 1057.6,184.9 1058.1,185.6 1058.5,182.1 1058.9,178.7 1059.4,183.1 1059.8,180.4 1060.2,177.6 1060.6,182.2 1061.1,178.2 1061.5,182.2 1061.9,182.0 1062.4,183.7 1062.8,173.0 1063.2,188.9 1063.7,190.1 1064.1,179.0 1064.5,183.9 1065.0,181.8 1065.4,177.2 1065.8,184.5 1066.2,191.0 1066.7,186.8 1067.1,177.5 1067.5,182.1 1068.0,189.1 1068.4,186.9 1068.8,186.9 1069.3,194.2 1069.7,190.0 1070.1,189.0 1070.5,185.2 1071.0,181.5 1071.4,191.1 1071.8,189.2 1072.3,190.0 1072.7,197.9 1073.1,192.9 1073.6,199.1 1074.0,188.5 1074.4,192.3 1074.9,190.5 1075.3,194.4 1075.7,189.6 1076.1,194.7 1076.6,194.1 1077.0,195.7 1077.4,197.0 1077.9,202.7 1078.3,200.1 1078.7,201.9 1079.2,201.9 1079.6,198.0 1080.0,199.0 1080.4,202.6 1080.9,196.0 1081.3,195.0 1081.7,204.2 1082.2,194.6 1082.6,196.7 1083.0,201.2 1083.5,206.3 1083.9,203.5 1084.3,207.9 1084.8,202.2 1085.2,198.7 1085.6,206.4 1086.0,210.2 1086.5,203.8 1086.9,204.2 1087.3,200.2 1087.8,204.6 1088.2,210.4 1088.6,199.1 1089.1,198.5 1089.5,202.3 1089.9,205.8 1090.3,202.2 1090.8,204.3 1091.2,202.2 1091.6,204.0 1092.1,201.5 1092.5,212.9 1092.9,213.6 1093.4,218.1 1093.8,206.4 1094.2,212.3 1094.7,210.3 1095.1,212.5 1095.5,210.5 1095.9,212.5 1096.4,213.8 1096.8,212.9 1097.2,208.2 1097.7,207.6 1098.1,214.3 1098.5,206.9 1099.0,211.6 1099.4,215.9 1099.8,209.6 1100.2,213.4 1100.7,218.1 1101.1,208.3 1101.5,210.2 1102.0,215.0 1102.4,214.5 1102.8,214.2 1103.3,209.1 1103.7,212.6 1104.1,214.1 1104.6,219.5 1105.0,213.4 1105.4,220.6 1105.8,210.6 1106.3,211.6 1106.7,211.9 1107.1,219.8 1107.6,216.8 1108.0,216.0 1108.4,213.2 1108.9,214.7 1109.3,208.1 1109.7,225.0 1110.1,215.2 1110.6,224.3 1111.0,220.8 1111.4,216.8 1111.9,217.4 1112.3,223.7 1112.7,217.8 1113.2,215.7 1113.6,214.8 1114.0,213.6 1114.5,213.7 1114.9,228.0 1115.3,219.0 1115.7,225.6 1116.2,223.7 1116.6,225.7 1117.0,219.3 1117.5,216.4 1117.9,219.4 1118.3,223.3 1118.8,216.7 1119.2,221.1 1119.6,230.4 1120.1,221.1 1120.5,217.8 1120.9,222.5 1121.3,213.3 1121.8,226.8 1122.2,231.6 1122.6,219.8 1123.1,226.9 1123.5,229.3 1123.9,222.2 1124.4,225.3 1124.8,224.3 1125.2,226.5 1125.6,225.4 1126.1,219.3 1126.5,220.5 1126.9,219.5 1127.4,222.5 1127.8,230.4 1128.2,224.5 1128.7,225.9 1129.1,226.5 1129.5,222.8 1130.0,230.2 1130.4,237.5 1130.8,228.9 1131.2,226.3 1131.7,234.3 1132.1,236.8 1132.5,227.0 1133.0,223.9 1133.4,234.4 1133.8,234.5 1134.3,228.5 1134.7,242.0 1135.1,226.4 1135.5,235.1 1136.0,233.7 1136.4,243.0 1136.8,229.5 1137.3,236.3 1137.7,226.2 1138.1,229.1 1138.6,228.9 1139.0,227.6 1139.4,229.7 1139.9,228.3 1140.3,225.1 1140.7,241.1 1141.1,235.2 1141.6,231.1 1142.0,231.4 1142.4,236.0 1142.9,241.4 1143.3,231.1 1143.7,247.0 1144.2,229.1 1144.6,235.9 1145.0,241.3 1145.4,230.4 1145.9,237.2 1146.3,236.0 1146.7,233.6 1147.2,237.7 1147.6,239.3 1148.0,235.3 1148.5,241.4 1148.9,233.2 1149.3,230.7 1149.8,236.3 1150.2,239.1 1150.6,244.4 1151.0,233.9 1151.5,246.3 1151.9,242.0 1152.3,236.4 1152.8,237.7 1153.2,235.9 1153.6,243.3 1154.1,243.7 1154.5,238.0 1154.9,231.6 1155.3,233.3 1155.8,240.3 1156.2,247.2 1156.6,236.7 1157.1,240.7 1157.5,241.6 1157.9,240.4 1158.4,238.4 1158.8,238.5 1159.2,249.7 1159.7,243.3 1160.1,241.8 1160.5,238.2 1160.9,238.8 1161.4,248.0 1161.8,244.8 1162.2,249.7 1162.7,246.1 1163.1,250.3 1163.5,243.3 1164.0,247.6 1164.4,239.7 1164.8,244.0 1165.2,250.2 1165.7,242.3 1166.1,252.6 1166.5,244.9 1167.0,249.4 1167.4,252.5 1167.8,248.5 1168.3,248.5 1168.7,246.9 1169.1,243.9 1169.6,249.0 1170.0,238.4 1170.4,244.2 1170.8,251.1 1171.3,249.7 1171.7,245.0 1172.1,240.9 1172.6,262.3 1173.0,250.4 1173.4,260.5 1173.9,249.3 1174.3,250.7 1174.7,253.4 1175.1,247.5 1175.6,251.2 1176.0,253.5 1176.4,249.2 1176.9,246.1 1177.3,252.3 1177.7,255.0 1178.2,252.1 1178.6,252.6 1179.0,261.9 1179.5,262.7 1179.9,251.2 1180.3,255.5 1180.7,250.8 1181.2,261.2 1181.6,258.0 1182.0,253.7 1182.5,264.5 1182.9,265.8 1183.3,254.9 1183.8,257.5 1184.2,256.1 1184.6,253.4 1185.0,250.7 1185.5,262.4 1185.9,260.0 1186.3,260.3 1186.8,257.3 1187.2,259.5 1187.6,256.4 1188.1,263.4 1188.5,255.3 1188.9,259.2 1189.4,266.6 1189.8,265.5 1190.2,261.6 1190.6,266.7 1191.1,259.7 1191.5,264.9 1191.9,268.6 1192.4,264.0 1192.8,273.9 1193.2,261.6 1193.7,256.3 1194.1,262.1 1194.5,267.2 1194.9,264.0 1195.4,256.4 1195.8,261.9 1196.2,259.5 1196.7,268.9 1197.1,257.2 1197.5,256.2 1198.0,272.5 1198.4,265.6 1198.8,267.5 1199.3,268.4 1199.7,269.0 1200.1,264.7 1200.5,263.6 1201.0,274.9 1201.4,275.9 1201.8,281.3 1202.3,278.9 1202.7,281.7 1203.1,275.3 1203.6,280.6 1204.0,262.1 1204.4,269.3 1204.8,276.3 1205.3,271.3 1205.7,271.1 1206.1,272.8 1206.6,270.5 1207.0,277.9 1207.4,277.6 1207.9,271.3 1208.3,272.5 1208.7,273.6 1209.2,284.2 1209.6,279.6 1210.0,274.0 1210.4,275.1 1210.9,272.8 1211.3,276.8 1211.7,281.9 1212.2,276.2 1212.6,279.0 1213.0,280.4 1213.5,278.0 1213.9,294.0 1214.3,280.6 1214.7,279.5 1215.2,274.5 1215.6,282.2 1216.0,279.8 1216.5,285.5 1216.9,281.8 1217.3,274.6 1217.8,277.9 1218.2,288.8 1218.6,288.5 1219.1,284.0 1219.5,283.7 1219.9,289.6 1220.3,283.8 1220.8,288.9 1221.2,290.9 1221.6,299.4 1222.1,283.6 1222.5,296.9 1222.9,292.6 1223.4,292.0 1223.8,301.9 1224.2,288.7 1224.7,290.7 1225.1,280.4 1225.5,300.6 1225.9,297.3 1226.4,307.3 1226.8,298.0 1227.2,297.9 1227.7,289.1 1228.1,284.9 1228.5,299.5 1229.0,298.0 1229.4,300.4 1229.8,296.2 1230.2,297.4 1230.7,290.7 1231.1,295.3 1231.5,294.8 1232.0,288.3 1232.4,296.2 1232.8,292.8 1233.3,298.1 1233.7,297.0 1234.1,300.7 1234.6,292.4 1235.0,292.5 1235.4,294.3 1235.8,304.9 1236.3,298.3 1236.7,305.2 1237.1,308.6 1237.6,301.8 1238.0,295.2 1238.4,288.6 1238.9,303.0 1239.3,304.4 1239.7,295.9 1240.1,305.3 1240.6,296.3 1241.0,300.2 1241.4,293.1 1241.9,299.8 1242.3,294.6 1242.7,301.9 1243.2,291.2 1243.6,295.6 1244.0,298.9 1244.5,294.6 1244.9,296.6 1245.3,305.5 1245.7,303.1 1246.2,297.1 1246.6,304.7 1247.0,303.0 1247.5,298.7 1247.9,310.1 1248.3,301.9 1248.8,306.8 1249.2,301.2 1249.6,294.7 1250.0,294.0 1250.5,289.9 1250.9,290.0 1251.3,301.2 1251.8,291.8 1252.2,296.5 1252.6,298.5 1253.1,302.0 1253.5,300.8 1253.9,296.5 1254.4,292.5 1254.8,301.9 1255.2,307.6 1255.6,302.8 1256.1,296.8 1256.5,296.5 1256.9,312.2 1257.4,314.4 1257.8,301.4 1258.2,301.3 1258.7,299.0 1259.1,302.5 1259.5,304.2 1259.9,306.1 1260.4,304.8 1260.8,312.1 1261.2,304.3 1261.7,306.9 1262.1,303.6 1262.5,303.9 1263.0,306.1 1263.4,307.9 1263.8,309.4 1264.3,304.6 1264.7,300.2 1265.1,303.2 1265.5,311.6 1266.0,306.7 1266.4,303.3 1266.8,311.9 1267.3,313.6 1267.7,311.0 1268.1,323.7 1268.6,315.1 1269.0,313.6 1269.4,311.8 1269.8,311.1 1270.3,311.8 1270.7,326.7 1271.1,318.3 1271.6,325.0 1272.0,326.3"/>
<line class="d" stroke="#000000" stroke-opacity="0.75" x1="1272.0" y1="326.3" x2="1272.0" y2="339.0"/>
<polyline class="d" stroke="#ff0000" points="863.5,112.0 863.9,98.4 864.4,95.7 864.8,94.6 865.2,94.2 865.7,93.8 866.1,92.4 866.5,92.2 866.9,91.7 867.4,92.1 867.8,92.4 868.2,91.5 868.7,91.8 869.1,91.3 869.5,90.8 870.0,91.5 870.4,90.9 870.8,91.6 871.2,92.1 871.7,91.0 872.1,90.9 872.5,92.7 873.0,91.7 873.4,92.4 873.8,92.2 874.3,91.0 874.7,91.7 875.1,91.6 875.6,91.2 876.0,91.0 876.4,92.1 876.8,91.9 877.3,91.7 877.7,92.6 878.1,93.4 878.6,92.5 879.0,93.1 879.4,92.2 879.9,92.3 880.3,91.9 880.7,93.2 881.1,92.4 881.6,91.7 882.0,93.2 882.4,92.9 882.9,93.5 883.3,92.1 883.7,92.8 884.2,92.6 884.6,94.0 885.0,95.1 885.5,93.9 885.9,93.3 886.3,94.7 886.7,94.4 887.2,93.4 887.6,93.0 888.0,95.5 888.5,94.8 888.9,95.1 889.3,93.4 889.8,95.0 890.2,94.6 890.6,93.7 891.0,94.6 891.5,94.5 891.9,95.8 892.3,94.9 892.8,93.7 893.2,94.1 893.6,96.6 894.1,94.7 894.5,93.6 894.9,94.7 895.4,94.1 895.8,94.6 896.2,95.3 896.6,94.5 897.1,93.6 897.5,94.9 897.9,95.8 898.4,95.5 898.8,95.5 899.2,96.4 899.7,96.4 900.1,95.9 900.5,95.1 900.9,96.6 901.4,95.0 901.8,94.2 902.2,96.3 902.7,96.5 903.1,97.4 903.5,96.6 904.0,95.4 904.4,96.7 904.8,97.1 905.3,96.9 905.7,97.3 906.1,97.6 906.5,98.9 907.0,97.3 907.4,98.2 907.8,97.9 908.3,98.0 908.7,96.3 909.1,99.1 909.6,99.7 910.0,97.3 910.4,98.4 910.8,96.5 911.3,100.1 911.7,96.4 912.1,98.1 912.6,98.5 913.0,98.0 913.4,100.6 913.9,99.6 914.3,99.5 914.7,100.5 915.2,99.6 915.6,99.1 916.0,99.7 916.4,99.9 916.9,99.0 917.3,101.0 917.7,100.1 918.2,100.9 918.6,100.7 919.0,99.6 919.5,99.7 919.9,100.2 920.3,100.1 920.8,100.1 921.2,100.6 921.6,101.5 922.0,99.5 922.5,103.9 922.9,100.5 923.3,101.8 923.8,103.7 924.2,100.6 924.6,101.8 925.1,99.8 925.5,101.9 925.9,101.7 926.3,102.0 926.8,103.4 927.2,105.6 927.6,104.3 928.1,105.2 928.5,100.9 928.9,101.0 929.4,103.4 929.8,101.8 930.2,102.5 930.7,104.1 931.1,103.4 931.5,105.7 931.9,101.3 932.4,103.4 932.8,103.5 933.2,102.7 933.7,101.9 934.1,100.9 934.5,103.7 935.0,103.3 935.4,105.7 935.8,106.5 936.2,103.5 936.7,104.0 937.1,106.1 937.5,106.8 938.0,104.1 938.4,103.9 938.8,102.4 939.3,102.5 939.7,105.1 940.1,106.6 940.6,106.8 941.0,103.3 941.4,106.4 941.8,106.0 942.3,105.2 942.7,105.6 943.1,104.4 943.6,104.8 944.0,107.1 944.4,107.0 944.9,106.2 945.3,106.7 945.7,107.7 946.1,107.8 946.6,103.1 947.0,107.1 947.4,104.9 947.9,107.3 948.3,110.3 948.7,109.0 949.2,111.0 949.6,108.7 950.0,109.0 950.5,107.4 950.9,106.3 951.3,108.5 951.7,105.3 952.2,109.4 952.6,107.8 953.0,109.6 953.5,108.5 953.9,109.5 954.3,111.2 954.8,109.5 955.2,111.1 955.6,110.5 956.0,113.3 956.5,112.6 956.9,111.9 957.3,108.8 957.8,113.7 958.2,112.2 958.6,111.5 959.1,112.4 959.5,111.5 959.9,109.7 960.4,112.7 960.8,112.6 961.2,111.7 961.6,113.9 962.1,110.2 962.5,113.6 962.9,113.9 963.4,113.7 963.8,111.0 964.2,113.1 964.7,112.9 965.1,115.6 965.5,112.6 965.9,115.4 966.4,112.1 966.8,112.8 967.2,115.3 967.7,115.5 968.1,112.9 968.5,112.9 969.0,115.5 969.4,111.6 969.8,113.7 970.3,115.2 970.7,117.2 971.1,113.8 971.5,118.4 972.0,120.3 972.4,121.1 972.8,118.3 973.3,113.6 973.7,117.8 974.1,118.1 974.6,115.8 975.0,115.7 975.4,118.7 975.8,117.3 976.3,122.7 976.7,116.7 977.1,117.6 977.6,116.6 978.0,116.0 978.4,118.2 978.9,120.9 979.3,121.1 979.7,120.8 980.2,117.6 980.6,122.9 981.0,123.0 981.4,116.9 981.9,122.8 982.3,118.2 982.7,124.9 983.2,118.2 983.6,117.4 984.0,121.1 984.5,119.5 984.9,120.6 985.3,119.2 985.7,119.0 986.2,120.7 986.6,123.6 987.0,122.5 987.5,118.3 987.9,119.6 988.3,121.1 988.8,124.2 989.2,123.6 989.6,121.9 990.1,118.8 990.5,121.5 990.9,125.7 991.3,124.3 991.8,127.5 992.2,126.0 992.6,123.6 993.1,122.5 993.5,122.7 993.9,123.7 994.4,123.6 994.8,124.9 995.2,126.2 995.6,131.0 996.1,125.0 996.5,128.1 996.9,127.4 997.4,130.0 997.8,129.4 998.2,126.0 998.7,125.1 999.1,125.3 999.5,126.4 1000.0,124.8 1000.4,127.3 1000.8,130.4 1001.2,129.6 1001.7,128.0 1002.1,131.2 1002.5,125.8 1003.0,128.6 1003.4,131.4 1003.8,129.2 1004.3,128.6 1004.7,131.3 1005.1,133.1 1005.5,133.6 1006.0,131.5 1006.4,129.3 1006.8,130.3 1007.3,127.8 1007.7,133.4 1008.1,128.6 1008.6,134.7 1009.0,131.2 1009.4,131.9 1009.9,129.9 1010.3,132.1 1010.7,133.7 1011.1,132.0 1011.6,134.6 1012.0,135.8 1012.4,131.9 1012.9,131.7 1013.3,130.2 1013.7,129.4 1014.2,134.7 1014.6,138.3 1015.0,133.4 1015.4,133.8 1015.9,139.1 1016.3,130.6 1016.7,144.4 1017.2,140.5 1017.6,139.2 1018.0,136.1 1018.5,140.1 1018.9,133.4 1019.3,140.0 1019.8,140.4 1020.2,135.3 1020.6,135.5 1021.0,138.6 1021.5,137.3 1021.9,138.4 1022.3,145.1 1022.8,138.8 1023.2,140.9 1023.6,137.6 1024.1,140.5 1024.5,134.6 1024.9,139.2 1025.4,137.4 1025.8,141.5 1026.2,143.1 1026.6,138.3 1027.1,150.3 1027.5,141.7 1027.9,139.6 1028.4,139.6 1028.8,145.3 1029.2,139.4 1029.7,140.6 1030.1,146.4 1030.5,148.3 1030.9,140.9 1031.4,141.5 1031.8,153.7 1032.2,148.1 1032.7,146.2 1033.1,148.9 1033.5,147.6 1034.0,149.6 1034.4,139.9 1034.8,147.5 1035.3,148.7 1035.7,148.5 1036.1,150.7 1036.5,153.6 1037.0,152.5 1037.4,157.7 1037.8,150.1 1038.3,158.4 1038.7,144.2 1039.1,153.6 1039.6,159.2 1040.0,153.0 1040.4,156.9 1040.8,157.7 1041.3,151.8 1041.7,144.6 1042.1,158.1 1042.6,156.0 1043.0,155.8 1043.4,152.3 1043.9,149.2 1044.3,150.4 1044.7,152.7 1045.2,151.3 1045.6,152.0 1046.0,150.6 1046.4,150.9 1046.9,150.5 1047.3,150.0 1047.7,156.9 1048.2,157.2 1048.6,158.9 1049.0,156.0 1049.5,154.1 1049.9,155.6 1050.3,153.9 1050.7,163.6 1051.2,158.9 1051.6,163.0 1052.0,157.5 1052.5,155.7 1052.9,154.8 1053.3,153.7 1053.8,166.0 1054.2,155.6 1054.6,158.3 1055.1,155.8 1055.5,162.4 1055.9,159.4 1056.3,165.9 1056.8,159.7 1057.2,159.5 1057.6,153.2 1058.1,160.7 1058.5,149.4 1058.9,154.6 1059.4,151.6 1059.8,160.7 1060.2,158.9 1060.6,158.6 1061.1,155.6 1061.5,161.0 1061.9,162.1 1062.4,163.7 1062.8,158.1 1063.2,161.8 1063.7,159.0 1064.1,158.9 1064.5,161.1 1065.0,158.5 1065.4,171.1 1065.8,156.5 1066.2,165.2 1066.7,160.8 1067.1,167.0 1067.5,158.7 1068.0,165.1 1068.4,162.4 1068.8,161.8 1069.3,162.0 1069.7,166.5 1070.1,164.8 1070.5,166.3 1071.0,165.0 1071.4,162.4 1071.8,162.6 1072.3,164.0 1072.7,162.2 1073.1,166.4 1073.6,163.0 1074.0,163.2 1074.4,166.4 1074.9,159.6 1075.3,168.7 1075.7,168.0 1076.1,175.9 1076.6,169.3 1077.0,166.1 1077.4,165.1 1077.9,165.7 1078.3,162.6 1078.7,163.0 1079.2,163.9 1079.6,165.2 1080.0,159.8 1080.4,172.5 1080.9,166.9 1081.3,166.2 1081.7,168.4 1082.2,169.5 1082.6,173.9 1083.0,165.8 1083.5,173.3 1083.9,175.8 1084.3,170.9 1084.8,165.8 1085.2,169.8 1085.6,166.8 1086.0,168.9 1086.5,165.1 1086.9,169.6 1087.3,173.7 1087.8,160.9 1088.2,170.8 1088.6,163.5 1089.1,169.5 1089.5,163.5 1089.9,165.0 1090.3,166.6 1090.8,169.1 1091.2,162.6 1091.6,165.7 1092.1,169.6 1092.5,167.1 1092.9,177.6 1093.4,169.9 1093.8,172.1 1094.2,173.6 1094.7,182.1 1095.1,172.0 1095.5,175.2 1095.9,173.4 1096.4,181.1 1096.8,179.9 1097.2,177.1 1097.7,185.1 1098.1,172.5 1098.5,172.8 1099.0,180.4 1099.4,180.0 1099.8,174.3 1100.2,181.0 1100.7,182.2 1101.1,187.8 1101.5,183.4 1102.0,175.1 1102.4,180.9 1102.8,175.7 1103.3,178.5 1103.7,177.2 1104.1,175.2 1104.6,178.1 1105.0,188.2 1105.4,176.0 1105.8,178.1 1106.3,178.2 1106.7,176.8 1107.1,179.1 1107.6,185.3 1108.0,178.6 1108.4,176.9 1108.9,187.9 1109.3,180.8 1109.7,186.1 1110.1,187.3 1110.6,194.0 1111.0,177.0 1111.4,188.8 1111.9,189.1 1112.3,186.3 1112.7,187.6 1113.2,185.0 1113.6,179.8 1114.0,187.0 1114.5,186.0 1114.9,183.3 1115.3,187.0 1115.7,182.6 1116.2,186.7 1116.6,179.9 1117.0,185.6 1117.5,190.1 1117.9,183.1 1118.3,181.7 1118.8,187.9 1119.2,193.9 1119.6,187.4 1120.1,191.9 1120.5,192.2 1120.9,189.6 1121.3,189.1 1121.8,196.3 1122.2,188.2 1122.6,190.3 1123.1,195.4 1123.5,194.9 1123.9,194.5 1124.4,188.7 1124.8,186.6 1125.2,191.2 1125.6,193.3 1126.1,186.7 1126.5,190.8 1126.9,191.8 1127.4,201.2 1127.8,194.1 1128.2,194.9 1128.7,192.4 1129.1,196.4 1129.5,204.1 1130.0,194.9 1130.4,188.4 1130.8,197.8 1131.2,193.9 1131.7,193.4 1132.1,196.3 1132.5,201.3 1133.0,189.8 1133.4,195.3 1133.8,198.6 1134.3,194.4 1134.7,204.1 1135.1,207.4 1135.5,195.9 1136.0,197.4 1136.4,204.0 1136.8,202.8 1137.3,197.9 1137.7,203.5 1138.1,196.2 1138.6,198.4 1139.0,204.6 1139.4,201.8 1139.9,206.0 1140.3,210.4 1140.7,207.3 1141.1,213.8 1141.6,199.6 1142.0,209.7 1142.4,206.8 1142.9,201.2 1143.3,202.5 1143.7,201.4 1144.2,203.0 1144.6,199.2 1145.0,206.1 1145.4,204.4 1145.9,206.9 1146.3,213.5 1146.7,212.9 1147.2,218.7 1147.6,206.3 1148.0,202.8 1148.5,206.4 1148.9,203.2 1149.3,205.0 1149.8,205.4 1150.2,213.8 1150.6,215.1 1151.0,208.2 1151.5,214.5 1151.9,212.0 1152.3,207.1 1152.8,221.1 1153.2,209.9 1153.6,213.3 1154.1,212.0 1154.5,206.7 1154.9,215.7 1155.3,220.6 1155.8,209.7 1156.2,210.0 1156.6,218.2 1157.1,214.3 1157.5,213.0 1157.9,210.3 1158.4,209.6 1158.8,209.9 1159.2,218.3 1159.7,217.4 1160.1,208.2 1160.5,210.2 1160.9,202.0 1161.4,213.0 1161.8,220.7 1162.2,209.6 1162.7,216.0 1163.1,220.6 1163.5,214.4 1164.0,213.6 1164.4,225.5 1164.8,224.1 1165.2,221.7 1165.7,222.8 1166.1,211.1 1166.5,213.5 1167.0,219.8 1167.4,218.8 1167.8,213.6 1168.3,210.0 1168.7,209.7 1169.1,215.7 1169.6,220.8 1170.0,216.4 1170.4,220.0 1170.8,217.0 1171.3,223.5 1171.7,218.2 1172.1,211.5 1172.6,216.1 1173.0,228.3 1173.4,222.6 1173.9,220.5 1174.3,235.1 1174.7,227.3 1175.1,221.0 1175.6,224.7 1176.0,228.0 1176.4,221.9 1176.9,225.4 1177.3,221.3 1177.7,223.4 1178.2,222.7 1178.6,221.7 1179.0,225.1 1179.5,230.3 1179.9,236.7 1180.3,230.4 1180.7,235.1 1181.2,225.9 1181.6,234.0 1182.0,226.8 1182.5,239.1 1182.9,229.2 1183.3,224.8 1183.8,231.4 1184.2,231.3 1184.6,234.0 1185.0,226.0 1185.5,240.7 1185.9,233.1 1186.3,225.4 1186.8,231.9 1187.2,239.4 1187.6,239.0 1188.1,230.7 1188.5,230.9 1188.9,237.9 1189.4,233.0 1189.8,242.6 1190.2,233.4 1190.6,230.8 1191.1,238.6 1191.5,231.9 1191.9,242.1 1192.4,244.6 1192.8,239.4 1193.2,237.2 1193.7,234.2 1194.1,239.7 1194.5,232.7 1194.9,239.2 1195.4,245.3 1195.8,243.7 1196.2,234.4 1196.7,243.7 1197.1,239.1 1197.5,244.6 1198.0,236.2 1198.4,242.1 1198.8,241.3 1199.3,248.3 1199.7,241.8 1200.1,242.2 1200.5,250.6 1201.0,246.6 1201.4,254.6 1201.8,251.5 1202.3,251.4 1202.7,249.5 1203.1,248.7 1203.6,250.6 1204.0,249.6 1204.4,242.1 1204.8,259.1 1205.3,266.8 1205.7,257.2 1206.1,251.9 1206.6,248.5 1207.0,250.3 1207.4,255.7 1207.9,250.9 1208.3,249.0 1208.7,263.3 1209.2,256.6 1209.6,252.0 1210.0,246.7 1210.4,257.0 1210.9,262.1 1211.3,262.3 1211.7,263.4 1212.2,254.4 1212.6,257.0 1213.0,259.2 1213.5,265.3 1213.9,278.1 1214.3,266.6 1214.7,254.6 1215.2,268.5 1215.6,265.1 1216.0,263.5 1216.5,274.1 1216.9,270.4 1217.3,271.2 1217.8,272.6 1218.2,266.8 1218.6,269.9 1219.1,274.7 1219.5,268.9 1219.9,277.2 1220.3,275.2 1220.8,277.6 1221.2,284.4 1221.6,275.1 1222.1,279.9 1222.5,281.9 1222.9,287.7 1223.4,276.9 1223.8,280.1 1224.2,279.8 1224.7,281.7 1225.1,292.1 1225.5,287.0 1225.9,284.8 1226.4,280.1 1226.8,283.9 1227.2,283.6 1227.7,286.1 1228.1,293.2 1228.5,299.8 1229.0,291.5 1229.4,278.4 1229.8,295.3 1230.2,294.2 1230.7,288.0 1231.1,278.4 1231.5,293.6 1232.0,294.2 1232.4,299.7 1232.8,282.8 1233.3,290.5 1233.7,303.3 1234.1,290.8 1234.6,302.6 1235.0,298.1 1235.4,296.9 1235.8,301.5 1236.3,294.8 1236.7,300.8 1237.1,300.9 1237.6,297.1 1238.0,297.4 1238.4,287.9 1238.9,296.0 1239.3,310.3 1239.7,308.3 1240.1,303.6 1240.6,310.2 1241.0,298.0 1241.4,307.5 1241.9,307.8 1242.3,314.9 1242.7,303.4 1243.2,307.8 1243.6,311.2 1244.0,304.6 1244.5,316.8 1244.9,311.8 1245.3,302.0 1245.7,307.9 1246.2,317.7 1246.6,305.5 1247.0,311.6 1247.5,316.9 1247.9,309.9 1248.3,312.9 1248.8,320.1 1249.2,302.2 1249.6,315.3 1250.0,311.2 1250.5,318.3 1250.9,310.5 1251.3,311.7 1251.8,311.1 1252.2,317.5 1252.6,318.9 1253.1,316.2 1253.5,315.9 1253.9,325.4 1254.4,322.7 1254.8,330.0 1255.2,319.9 1255.6,323.5 1256.1,324.2 1256.5,327.2 1256.9,332.5 1257.4,319.7 1257.8,330.3 1258.2,323.0 1258.7,334.4 1259.1,332.5 1259.5,337.2 1259.9,335.1 1260.4,319.9 1260.8,335.9 1261.2,329.3 1261.7,328.6 1262.1,343.7 1262.5,328.4 1263.0,338.9 1263.4,345.0 1263.8,352.9 1264.3,338.3 1264.7,346.8 1265.1,339.3 1265.5,342.8 1266.0,339.7 1266.4,352.8 1266.8,343.0 1267.3,349.5 1267.7,342.5 1268.1,352.7 1268.6,342.9 1269.0,354.7 1269.4,350.6 1269.8,343.5 1270.3,347.5 1270.7,347.9 1271.1,345.6 1271.6,353.1 1272.0,347.5"/>
<line class="d" stroke="#ff0000" stroke-opacity="0.75" x1="1272.0" y1="347.5" x2="1272.0" y2="381.0"/>
<polyline class="d" stroke="#0000ff" points="863.5,112.4 863.9,91.3 864.4,90.5 864.8,89.9 865.2,89.4 865.7,89.2 866.1,89.2 866.5,89.1 866.9,89.0 867.4,88.9 867.8,88.8 868.2,88.8 868.7,88.8 869.1,88.8 869.5,88.8 870.0,88.8 870.4,88.8 870.8,88.8 871.2,88.8 871.7,88.8 872.1,88.8 872.5,88.8 873.0,88.8 873.4,88.8 873.8,88.8 874.3,88.8 874.7,88.8 875.1,88.8 875.6,88.8 876.0,88.8 876.4,88.8 876.8,88.8 877.3,88.8 877.7,88.8 878.1,88.8 878.6,88.8 879.0,88.8 879.4,88.8 879.9,88.8 880.3,88.8 880.7,88.8 881.1,88.9 881.6,88.9 882.0,88.8 882.4,88.8 882.9,88.9 883.3,88.8 883.7,88.8 884.2,88.8 884.6,88.9 885.0,88.9 885.5,88.9 885.9,88.9 886.3,88.9 886.7,88.9 887.2,88.9 887.6,88.8 888.0,88.9 888.5,88.9 888.9,88.8 889.3,88.9 889.8,88.9 890.2,88.9 890.6,88.9 891.0,88.9 891.5,88.9 891.9,88.8 892.3,88.8 892.8,88.9 893.2,88.9 893.6,88.9 894.1,88.8 894.5,88.9 894.9,88.8 895.4,88.9 895.8,88.9 896.2,88.9 896.6,88.9 897.1,88.9 897.5,88.9 897.9,88.8 898.4,88.9 898.8,88.9 899.2,88.9 899.7,89.0 900.1,88.9 900.5,88.9 900.9,88.9 901.4,88.9 901.8,89.0 902.2,88.9 902.7,88.9 903.1,89.0 903.5,89.0 904.0,89.0 904.4,89.1 904.8,89.1 905.3,89.2 905.7,89.2 906.1,89.3 906.5,89.3 907.0,89.4 907.4,89.5 907.8,89.5 908.3,89.6 908.7,89.6 909.1,89.7 909.6,89.7 910.0,89.9 910.4,89.9 910.8,89.9 911.3,90.0 911.7,90.0 912.1,90.1 912.6,90.2 913.0,90.2 913.4,90.2 913.9,90.3 914.3,90.3 914.7,90.5 915.2,90.4 915.6,90.8 916.0,90.7 916.4,90.6 916.9,91.0 917.3,91.0 917.7,91.0 918.2,91.1 918.6,91.2 919.0,91.0 919.5,91.3 919.9,91.4 920.3,91.3 920.8,91.4 921.2,91.7 921.6,91.3 922.0,91.3 922.5,91.3 922.9,91.6 923.3,91.5 923.8,91.4 924.2,91.3 924.6,91.5 925.1,91.6 925.5,92.0 925.9,91.8 926.3,92.2 926.8,92.0 927.2,91.7 927.6,92.7 928.1,92.0 928.5,92.2 928.9,92.4 929.4,92.9 929.8,92.5 930.2,92.7 930.7,92.9 931.1,92.6 931.5,92.6 931.9,92.8 932.4,92.8 932.8,93.4 933.2,92.7 933.7,92.7 934.1,92.9 934.5,92.9 935.0,93.1 935.4,93.1 935.8,93.7 936.2,93.1 936.7,93.2 937.1,93.2 937.5,93.0 938.0,93.5 938.4,93.4 938.8,93.9 939.3,93.8 939.7,93.8 940.1,93.4 940.6,93.5 941.0,94.1 941.4,93.9 941.8,94.4 942.3,94.7 942.7,94.2 943.1,94.1 943.6,94.5 944.0,94.3 944.4,94.6 944.9,94.6 945.3,94.6 945.7,94.9 946.1,94.6 946.6,95.3 947.0,95.9 947.4,94.7 947.9,95.5 948.3,95.5 948.7,95.5 949.2,95.9 949.6,95.8 950.0,96.5 950.5,96.6 950.9,96.1 951.3,96.1 951.7,96.9 952.2,96.7 952.6,98.0 953.0,97.8 953.5,97.6 953.9,97.4 954.3,97.9 954.8,97.7 955.2,98.1 955.6,97.8 956.0,98.4 956.5,97.6 956.9,98.2 957.3,98.1 957.8,98.6 958.2,98.3 958.6,98.5 959.1,98.5 959.5,98.5 959.9,99.8 960.4,98.8 960.8,99.3 961.2,99.6 961.6,99.7 962.1,100.3 962.5,100.1 962.9,99.7 963.4,100.5 963.8,99.7 964.2,100.4 964.7,101.2 965.1,102.2 965.5,100.2 965.9,101.1 966.4,102.2 966.8,102.0 967.2,101.5 967.7,101.7 968.1,101.4 968.5,101.9 969.0,101.5 969.4,101.4 969.8,101.8 970.3,103.3 970.7,103.6 971.1,102.6 971.5,103.1 972.0,101.7 972.4,103.4 972.8,104.8 973.3,103.4 973.7,104.0 974.1,103.2 974.6,103.3 975.0,104.5 975.4,103.5 975.8,104.5 976.3,104.2 976.7,103.9 977.1,105.3 977.6,105.0 978.0,104.7 978.4,103.9 978.9,104.0 979.3,105.2 979.7,104.5 980.2,105.3 980.6,105.3 981.0,106.5 981.4,107.4 981.9,106.3 982.3,106.9 982.7,105.4 983.2,106.5 983.6,106.8 984.0,106.8 984.5,107.9 984.9,106.7 985.3,108.2 985.7,109.1 986.2,107.3 986.6,108.9 987.0,108.2 987.5,108.2 987.9,109.3 988.3,107.7 988.8,107.9 989.2,110.3 989.6,108.9 990.1,108.5 990.5,109.6 990.9,110.8 991.3,111.4 991.8,110.2 992.2,110.4 992.6,111.5 993.1,111.5 993.5,111.8 993.9,111.6 994.4,110.7 994.8,112.8 995.2,111.9 995.6,113.7 996.1,112.7 996.5,112.7 996.9,112.9 997.4,112.5 997.8,111.9 998.2,114.4 998.7,116.1 999.1,113.3 999.5,115.5 1000.0,114.9 1000.4,115.0 1000.8,112.8 1001.2,115.9 1001.7,117.1 1002.1,114.8 1002.5,115.5 1003.0,116.9 1003.4,117.3 1003.8,117.4 1004.3,115.2 1004.7,118.5 1005.1,118.0 1005.5,116.7 1006.0,117.8 1006.4,118.1 1006.8,115.9 1007.3,117.7 1007.7,118.4 1008.1,119.7 1008.6,118.3 1009.0,119.2 1009.4,117.3 1009.9,119.8 1010.3,119.3 1010.7,117.8 1011.1,117.0 1011.6,117.8 1012.0,120.5 1012.4,120.3 1012.9,118.3 1013.3,121.5 1013.7,120.7 1014.2,119.8 1014.6,121.0 1015.0,120.9 1015.4,121.7 1015.9,121.7 1016.3,121.0 1016.7,124.4 1017.2,123.6 1017.6,123.0 1018.0,122.8 1018.5,122.8 1018.9,121.9 1019.3,123.8 1019.8,123.7 1020.2,125.9 1020.6,124.1 1021.0,124.4 1021.5,128.9 1021.9,121.7 1022.3,123.3 1022.8,129.6 1023.2,127.5 1023.6,123.9 1024.1,127.1 1024.5,126.1 1024.9,130.4 1025.4,130.0 1025.8,127.8 1026.2,127.5 1026.6,128.0 1027.1,129.2 1027.5,128.7 1027.9,128.9 1028.4,128.4 1028.8,129.1 1029.2,126.4 1029.7,131.2 1030.1,128.1 1030.5,128.7 1030.9,131.3 1031.4,128.4 1031.8,133.8 1032.2,132.8 1032.7,130.2 1033.1,131.7 1033.5,132.4 1034.0,133.2 1034.4,132.4 1034.8,134.1 1035.3,136.5 1035.7,133.6 1036.1,137.5 1036.5,134.2 1037.0,135.7 1037.4,137.3 1037.8,136.5 1038.3,141.0 1038.7,136.9 1039.1,138.4 1039.6,137.4 1040.0,139.2 1040.4,138.3 1040.8,139.4 1041.3,138.7 1041.7,142.8 1042.1,138.4 1042.6,141.0 1043.0,143.1 1043.4,142.0 1043.9,139.2 1044.3,140.4 1044.7,143.1 1045.2,139.5 1045.6,141.4 1046.0,147.1 1046.4,140.6 1046.9,139.2 1047.3,141.8 1047.7,142.4 1048.2,142.3 1048.6,141.0 1049.0,143.9 1049.5,145.7 1049.9,145.3 1050.3,141.2 1050.7,142.0 1051.2,141.9 1051.6,146.8 1052.0,149.3 1052.5,150.9 1052.9,145.0 1053.3,146.0 1053.8,141.3 1054.2,147.3 1054.6,142.9 1055.1,150.3 1055.5,144.8 1055.9,146.3 1056.3,145.0 1056.8,152.8 1057.2,144.6 1057.6,147.4 1058.1,148.7 1058.5,140.4 1058.9,141.7 1059.4,144.5 1059.8,146.3 1060.2,148.7 1060.6,145.3 1061.1,147.4 1061.5,145.6 1061.9,146.5 1062.4,148.6 1062.8,146.2 1063.2,149.1 1063.7,144.9 1064.1,146.3 1064.5,151.5 1065.0,148.7 1065.4,150.3 1065.8,145.7 1066.2,147.8 1066.7,148.6 1067.1,147.2 1067.5,149.1 1068.0,150.1 1068.4,150.4 1068.8,147.3 1069.3,149.4 1069.7,143.5 1070.1,154.8 1070.5,151.5 1071.0,154.2 1071.4,152.7 1071.8,148.7 1072.3,157.2 1072.7,150.2 1073.1,150.2 1073.6,149.2 1074.0,149.5 1074.4,154.9 1074.9,149.4 1075.3,153.4 1075.7,146.1 1076.1,149.4 1076.6,157.7 1077.0,143.9 1077.4,148.3 1077.9,149.4 1078.3,149.4 1078.7,151.7 1079.2,149.1 1079.6,151.6 1080.0,153.3 1080.4,147.6 1080.9,148.1 1081.3,152.6 1081.7,151.3 1082.2,147.3 1082.6,155.8 1083.0,153.4 1083.5,149.9 1083.9,151.2 1084.3,145.4 1084.8,152.5 1085.2,154.4 1085.6,156.9 1086.0,152.1 1086.5,157.5 1086.9,153.3 1087.3,150.3 1087.8,151.1 1088.2,154.9 1088.6,152.7 1089.1,151.1 1089.5,145.2 1089.9,157.8 1090.3,153.6 1090.8,147.6 1091.2,150.6 1091.6,152.6 1092.1,146.8 1092.5,160.0 1092.9,153.4 1093.4,158.4 1093.8,149.8 1094.2,152.7 1094.7,155.7 1095.1,157.4 1095.5,152.6 1095.9,154.2 1096.4,153.8 1096.8,150.6 1097.2,156.0 1097.7,154.6 1098.1,152.5 1098.5,151.0 1099.0,154.7 1099.4,158.1 1099.8,153.2 1100.2,153.2 1100.7,147.5 1101.1,153.5 1101.5,154.1 1102.0,151.0 1102.4,149.5 1102.8,151.2 1103.3,161.7 1103.7,152.2 1104.1,156.1 1104.6,148.1 1105.0,150.4 1105.4,154.0 1105.8,151.6 1106.3,152.9 1106.7,153.5 1107.1,152.4 1107.6,155.9 1108.0,160.2 1108.4,155.0 1108.9,154.4 1109.3,153.0 1109.7,163.6 1110.1,155.6 1110.6,153.7 1111.0,155.5 1111.4,153.3 1111.9,156.4 1112.3,157.7 1112.7,155.3 1113.2,163.6 1113.6,158.0 1114.0,154.4 1114.5,155.8 1114.9,163.5 1115.3,162.7 1115.7,155.9 1116.2,158.2 1116.6,160.3 1117.0,149.5 1117.5,158.7 1117.9,154.0 1118.3,155.3 1118.8,157.4 1119.2,158.8 1119.6,161.0 1120.1,154.4 1120.5,160.0 1120.9,157.2 1121.3,156.7 1121.8,159.1 1122.2,167.1 1122.6,163.8 1123.1,158.0 1123.5,164.0 1123.9,161.7 1124.4,156.9 1124.8,165.2 1125.2,163.1 1125.6,158.7 1126.1,162.3 1126.5,152.0 1126.9,160.5 1127.4,158.5 1127.8,155.9 1128.2,166.4 1128.7,158.4 1129.1,164.9 1129.5,160.1 1130.0,160.6 1130.4,165.0 1130.8,161.1 1131.2,155.1 1131.7,163.2 1132.1,161.1 1132.5,162.6 1133.0,164.8 1133.4,159.9 1133.8,153.9 1134.3,159.6 1134.7,161.5 1135.1,160.5 1135.5,156.4 1136.0,159.8 1136.4,159.5 1136.8,160.5 1137.3,165.0 1137.7,159.9 1138.1,161.8 1138.6,158.4 1139.0,159.7 1139.4,172.2 1139.9,158.9 1140.3,166.9 1140.7,165.8 1141.1,162.0 1141.6,162.5 1142.0,162.2 1142.4,157.6 1142.9,170.3 1143.3,164.9 1143.7,168.8 1144.2,164.8 1144.6,158.8 1145.0,169.0 1145.4,165.0 1145.9,167.0 1146.3,163.7 1146.7,163.3 1147.2,163.1 1147.6,162.5 1148.0,165.3 1148.5,164.1 1148.9,169.8 1149.3,164.8 1149.8,164.6 1150.2,170.2 1150.6,169.2 1151.0,171.7 1151.5,165.6 1151.9,168.3 1152.3,165.8 1152.8,176.4 1153.2,169.6 1153.6,169.5 1154.1,175.8 1154.5,166.4 1154.9,172.0 1155.3,170.1 1155.8,178.3 1156.2,178.2 1156.6,167.4 1157.1,166.4 1157.5,178.8 1157.9,173.1 1158.4,171.7 1158.8,172.2 1159.2,170.8 1159.7,167.8 1160.1,168.8 1160.5,176.9 1160.9,183.4 1161.4,183.2 1161.8,171.0 1162.2,188.4 1162.7,183.1 1163.1,182.4 1163.5,180.0 1164.0,173.2 1164.4,176.6 1164.8,180.1 1165.2,180.8 1165.7,184.6 1166.1,183.8 1166.5,187.1 1167.0,181.9 1167.4,190.3 1167.8,182.5 1168.3,185.0 1168.7,186.6 1169.1,181.8 1169.6,188.6 1170.0,185.7 1170.4,181.9 1170.8,181.7 1171.3,182.7 1171.7,182.1 1172.1,192.5 1172.6,188.3 1173.0,191.5 1173.4,184.7 1173.9,188.5 1174.3,180.3 1174.7,185.9 1175.1,189.5 1175.6,184.4 1176.0,180.4 1176.4,188.3 1176.9,188.4 1177.3,189.3 1177.7,183.3 1178.2,193.3 1178.6,191.5 1179.0,182.6 1179.5,194.5 1179.9,186.2 1180.3,183.4 1180.7,188.4 1181.2,194.8 1181.6,188.4 1182.0,191.9 1182.5,194.9 1182.9,191.2 1183.3,193.2 1183.8,193.6 1184.2,200.3 1184.6,196.3 1185.0,189.7 1185.5,189.1 1185.9,192.1 1186.3,202.8 1186.8,193.7 1187.2,201.8 1187.6,198.3 1188.1,203.7 1188.5,196.6 1188.9,196.6 1189.4,190.8 1189.8,196.1 1190.2,193.8 1190.6,198.5 1191.1,195.1 1191.5,197.6 1191.9,193.8 1192.4,197.2 1192.8,191.7 1193.2,197.5 1193.7,194.5 1194.1,199.3 1194.5,191.7 1194.9,190.0 1195.4,191.8 1195.8,186.6 1196.2,192.6 1196.7,194.2 1197.1,194.2 1197.5,202.8 1198.0,201.7 1198.4,194.2 1198.8,195.8 1199.3,196.2 1199.7,196.3 1200.1,197.9 1200.5,199.7 1201.0,203.3 1201.4,196.6 1201.8,198.6 1202.3,195.3 1202.7,198.1 1203.1,193.2 1203.6,199.9 1204.0,197.8 1204.4,197.4 1204.8,200.1 1205.3,193.0 1205.7,193.8 1206.1,200.6 1206.6,194.9 1207.0,196.9 1207.4,193.1 1207.9,189.4 1208.3,197.6 1208.7,192.5 1209.2,207.1 1209.6,201.4 1210.0,203.8 1210.4,203.9 1210.9,195.8 1211.3,197.8 1211.7,202.7 1212.2,197.4 1212.6,198.8 1213.0,207.8 1213.5,197.4 1213.9,207.4 1214.3,203.4 1214.7,210.8 1215.2,207.7 1215.6,195.2 1216.0,207.5 1216.5,201.4 1216.9,214.5 1217.3,202.4 1217.8,201.6 1218.2,202.7 1218.6,203.1 1219.1,198.1 1219.5,206.1 1219.9,202.6 1220.3,204.0 1220.8,213.7 1221.2,201.2 1221.6,211.9 1222.1,210.0 1222.5,205.0 1222.9,205.0 1223.4,204.0 1223.8,206.2 1224.2,208.2 1224.7,206.2 1225.1,205.1 1225.5,208.4 1225.9,202.7 1226.4,203.0 1226.8,200.8 1227.2,203.3 1227.7,211.8 1228.1,208.6 1228.5,208.2 1229.0,207.4 1229.4,202.0 1229.8,209.8 1230.2,200.0 1230.7,206.6 1231.1,206.9 1231.5,209.3 1232.0,212.2 1232.4,210.9 1232.8,221.2 1233.3,204.8 1233.7,210.9 1234.1,201.8 1234.6,209.0 1235.0,207.7 1235.4,212.7 1235.8,207.7 1236.3,212.8 1236.7,218.5 1237.1,207.4 1237.6,216.4 1238.0,213.3 1238.4,210.9 1238.9,208.6 1239.3,210.7 1239.7,207.7 1240.1,211.6 1240.6,208.4 1241.0,207.5 1241.4,209.6 1241.9,222.8 1242.3,215.9 1242.7,209.8 1243.2,212.0 1243.6,214.0 1244.0,222.0 1244.5,217.1 1244.9,212.4 1245.3,221.5 1245.7,210.7 1246.2,220.5 1246.6,217.2 1247.0,217.6 1247.5,223.1 1247.9,212.5 1248.3,212.6 1248.8,224.6 1249.2,222.4 1249.6,212.8 1250.0,210.9 1250.5,216.6 1250.9,215.5 1251.3,210.3 1251.8,219.1 1252.2,213.7 1252.6,212.7 1253.1,221.2 1253.5,214.5 1253.9,214.5 1254.4,214.3 1254.8,211.0 1255.2,218.6 1255.6,215.4 1256.1,228.6 1256.5,228.0 1256.9,218.9 1257.4,219.8 1257.8,208.7 1258.2,218.6 1258.7,217.8 1259.1,226.6 1259.5,223.8 1259.9,218.5 1260.4,217.7 1260.8,219.5 1261.2,213.6 1261.7,213.2 1262.1,219.6 1262.5,225.1 1263.0,219.0 1263.4,227.2 1263.8,221.5 1264.3,227.4 1264.7,234.2 1265.1,215.7 1265.5,232.6 1266.0,234.2 1266.4,223.7 1266.8,223.3 1267.3,234.1 1267.7,221.8 1268.1,224.6 1268.6,234.3 1269.0,221.8 1269.4,228.2 1269.8,233.2 1270.3,229.2 1270.7,231.7 1271.1,232.8 1271.6,223.0 1272.0,226.0"/>
<line class="d" stroke="#0000ff" stroke-opacity="0.75" x1="1272.0" y1="226.0" x2="1272.0" y2="253.4"/>
<polyline class="d" stroke="#ff00ff" points="863.5,93.0 863.9,87.8 864.4,87.8 864.8,87.8 865.2,87.8 865.7,87.8 866.1,87.8 866.5,87.8 866.9,87.8 867.4,87.8 867.8,87.8 868.2,87.8 868.7,87.8 869.1,87.8 869.5,87.8 870.0,87.8 870.4,87.8 870.8,87.8 871.2,87.8 871.7,87.8 872.1,87.8 872.5,87.8 873.0,87.8 873.4,87.8 873.8,87.8 874.3,87.8 874.7,87.8 875.1,87.8 875.6,87.8 876.0,87.8 876.4,87.8 876.8,87.8 877.3,87.8 877.7,87.8 878.1,87.8 878.6,87.8 879.0,87.8 879.4,87.8 879.9,87.8 880.3,87.8 880.7,87.8 881.1,87.8 881.6,87.8 882.0,87.8 882.4,87.8 882.9,87.8 883.3,87.8 883.7,87.8 884.2,87.8 884.6,87.8 885.0,87.8 885.5,87.8 885.9,87.8 886.3,87.8 886.7,87.8 887.2,87.8 887.6,87.8 888.0,87.8 888.5,87.8 888.9,87.8 889.3,87.8 889.8,87.8 890.2,87.7 890.6,87.8 891.0,87.7 891.5,87.8 891.9,87.8 892.3,87.8 892.8,87.8 893.2,87.8 893.6,87.8 894.1,87.9 894.5,87.8 894.9,87.8 895.4,87.8 895.8,87.8 896.2,87.8 896.6,87.8 897.1,87.9 897.5,87.8 897.9,87.8 898.4,87.8 898.8,87.8 899.2,87.8 899.7,87.8 900.1,87.8 900.5,87.8 900.9,87.8 901.4,87.8 901.8,87.9 902.2,87.8 902.7,87.9 903.1,87.8 903.5,87.8 904.0,87.8 904.4,87.9 904.8,87.8 905.3,87.9 905.7,87.9 906.1,87.8 906.5,87.9 907.0,87.8 907.4,87.8 907.8,87.9 908.3,87.8 908.7,87.8 909.1,87.9 909.6,87.8 910.0,87.9 910.4,87.9 910.8,87.9 911.3,87.9 911.7,87.8 912.1,87.9 912.6,87.8 913.0,87.8 913.4,87.7 913.9,87.9 914.3,87.8 914.7,87.8 915.2,88.0 915.6,87.8 916.0,87.8 916.4,87.9 916.9,88.0 917.3,87.9 917.7,87.8 918.2,88.0 918.6,88.0 919.0,87.8 919.5,87.7 919.9,87.7 920.3,87.7 920.8,87.8 921.2,87.7 921.6,88.1 922.0,87.8 922.5,87.9 922.9,88.1 923.3,88.2 923.8,87.8 924.2,88.2 924.6,88.0 925.1,88.0 925.5,87.8 925.9,88.1 926.3,88.6 926.8,88.2 927.2,88.4 927.6,88.8 928.1,88.8 928.5,88.8 928.9,88.9 929.4,89.1 929.8,88.8 930.2,88.8 930.7,88.6 931.1,88.9 931.5,88.9 931.9,89.0 932.4,89.4 932.8,89.1 933.2,89.3 933.7,89.4 934.1,89.6 934.5,89.5 935.0,89.7 935.4,89.6 935.8,90.0 936.2,89.8 936.7,89.8 937.1,90.2 937.5,90.3 938.0,89.9 938.4,90.1 938.8,90.2 939.3,90.6 939.7,90.0 940.1,90.6 940.6,90.4 941.0,90.7 941.4,90.8 941.8,90.7 942.3,91.0 942.7,91.0 943.1,90.8 943.6,91.7 944.0,91.4 944.4,91.2 944.9,91.3 945.3,92.1 945.7,91.9 946.1,91.6 946.6,91.6 947.0,91.7 947.4,92.5 947.9,91.8 948.3,92.1 948.7,92.5 949.2,92.6 949.6,92.6 950.0,93.0 950.5,92.7 950.9,93.5 951.3,92.8 951.7,93.0 952.2,93.8 952.6,93.0 953.0,93.8 953.5,93.5 953.9,94.0 954.3,93.3 954.8,93.9 955.2,93.8 955.6,94.0 956.0,94.4 956.5,95.0 956.9,94.6 957.3,94.8 957.8,95.6 958.2,94.8 958.6,94.8 959.1,94.5 959.5,95.4 959.9,95.0 960.4,95.6 960.8,95.6 961.2,95.7 961.6,96.1 962.1,95.5 962.5,95.5 962.9,95.8 963.4,95.8 963.8,95.8 964.2,96.9 964.7,96.3 965.1,96.8 965.5,96.3 965.9,96.3 966.4,97.0 966.8,96.8 967.2,96.8 967.7,97.0 968.1,96.6 968.5,97.5 969.0,97.4 969.4,97.0 969.8,97.7 970.3,97.7 970.7,98.3 971.1,98.5 971.5,97.9 972.0,97.9 972.4,99.1 972.8,98.6 973.3,98.6 973.7,98.7 974.1,99.0 974.6,100.1 975.0,99.7 975.4,99.6 975.8,99.0 976.3,99.2 976.7,99.2 977.1,100.4 977.6,99.4 978.0,99.5 978.4,100.5 978.9,99.6 979.3,99.9 979.7,101.0 980.2,99.8 980.6,100.6 981.0,101.2 981.4,100.8 981.9,101.2 982.3,100.9 982.7,100.5 983.2,100.4 983.6,102.2 984.0,102.3 984.5,101.7 984.9,102.1 985.3,102.3 985.7,102.1 986.2,103.6 986.6,102.7 987.0,102.4 987.5,103.3 987.9,104.2 988.3,103.5 988.8,102.9 989.2,103.8 989.6,102.5 990.1,103.3 990.5,104.9 990.9,104.2 991.3,104.4 991.8,104.9 992.2,103.7 992.6,105.7 993.1,104.4 993.5,105.7 993.9,104.4 994.4,105.7 994.8,106.3 995.2,106.6 995.6,105.3 996.1,105.2 996.5,106.6 996.9,106.6 997.4,106.5 997.8,106.7 998.2,107.3 998.7,106.9 999.1,107.2 999.5,108.0 1000.0,107.9 1000.4,108.1 1000.8,108.9 1001.2,108.5 1001.7,108.3 1002.1,109.1 1002.5,110.0 1003.0,109.2 1003.4,107.5 1003.8,109.8 1004.3,109.9 1004.7,109.9 1005.1,108.3 1005.5,108.4 1006.0,109.0 1006.4,110.0 1006.8,109.5 1007.3,109.8 1007.7,109.6 1008.1,110.7 1008.6,110.5 1009.0,110.9 1009.4,111.5 1009.9,112.3 1010.3,112.6 1010.7,110.8 1011.1,111.6 1011.6,113.6 1012.0,112.3 1012.4,113.9 1012.9,113.4 1013.3,112.8 1013.7,112.5 1014.2,115.0 1014.6,115.0 1015.0,113.6 1015.4,114.7 1015.9,116.0 1016.3,114.2 1016.7,115.5 1017.2,113.8 1017.6,115.3 1018.0,114.6 1018.5,114.8 1018.9,113.7 1019.3,116.1 1019.8,114.9 1020.2,117.1 1020.6,115.7 1021.0,115.8 1021.5,116.5 1021.9,117.0 1022.3,118.3 1022.8,117.5 1023.2,116.1 1023.6,116.6 1024.1,118.4 1024.5,118.5 1024.9,116.9 1025.4,117.8 1025.8,117.6 1026.2,118.8 1026.6,121.8 1027.1,118.4 1027.5,119.8 1027.9,122.5 1028.4,121.5 1028.8,121.5 1029.2,118.5 1029.7,121.9 1030.1,121.0 1030.5,122.1 1030.9,118.9 1031.4,122.5 1031.8,120.8 1032.2,120.9 1032.7,121.6 1033.1,122.9 1033.5,122.1 1034.0,123.5 1034.4,125.0 1034.8,122.3 1035.3,122.7 1035.7,125.6 1036.1,124.3 1036.5,125.2 1037.0,122.1 1037.4,122.0 1037.8,121.6 1038.3,125.7 1038.7,124.7 1039.1,123.8 1039.6,125.8 1040.0,126.3 1040.4,126.3 1040.8,125.5 1041.3,127.1 1041.7,125.7 1042.1,123.1 1042.6,128.6 1043.0,126.4 1043.4,127.7 1043.9,128.9 1044.3,129.2 1044.7,127.8 1045.2,129.5 1045.6,129.9 1046.0,127.7 1046.4,129.0 1046.9,125.2 1047.3,129.2 1047.7,131.2 1048.2,129.0 1048.6,130.0 1049.0,132.4 1049.5,129.6 1049.9,132.8 1050.3,129.6 1050.7,131.6 1051.2,130.5 1051.6,134.0 1052.0,130.3 1052.5,134.4 1052.9,133.5 1053.3,132.0 1053.8,132.2 1054.2,134.4 1054.6,132.5 1055.1,132.3 1055.5,132.7 1055.9,132.9 1056.3,134.0 1056.8,135.4 1057.2,133.1 1057.6,132.9 1058.1,137.1 1058.5,133.9 1058.9,133.2 1059.4,135.8 1059.8,135.5 1060.2,132.9 1060.6,134.0 1061.1,137.1 1061.5,140.8 1061.9,135.4 1062.4,135.7 1062.8,138.0 1063.2,136.0 1063.7,140.2 1064.1,132.8 1064.5,135.9 1065.0,138.9 1065.4,134.1 1065.8,140.5 1066.2,139.0 1066.7,138.9 1067.1,141.3 1067.5,135.0 1068.0,137.3 1068.4,135.5 1068.8,137.8 1069.3,137.2 1069.7,137.3 1070.1,138.7 1070.5,140.3 1071.0,139.3 1071.4,144.8 1071.8,142.0 1072.3,139.2 1072.7,141.1 1073.1,142.9 1073.6,138.9 1074.0,140.2 1074.4,140.5 1074.9,137.6 1075.3,138.0 1075.7,142.3 1076.1,140.8 1076.6,141.6 1077.0,139.7 1077.4,142.9 1077.9,142.5 1078.3,147.0 1078.7,144.4 1079.2,144.4 1079.6,144.8 1080.0,144.1 1080.4,149.4 1080.9,144.2 1081.3,145.3 1081.7,139.9 1082.2,145.0 1082.6,140.2 1083.0,147.2 1083.5,147.7 1083.9,143.3 1084.3,149.5 1084.8,146.2 1085.2,150.7 1085.6,144.4 1086.0,148.6 1086.5,141.8 1086.9,149.5 1087.3,144.0 1087.8,144.1 1088.2,142.2 1088.6,149.4 1089.1,144.1 1089.5,145.8 1089.9,146.4 1090.3,146.7 1090.8,145.3 1091.2,146.4 1091.6,149.7 1092.1,144.7 1092.5,142.0 1092.9,144.6 1093.4,147.1 1093.8,145.0 1094.2,147.7 1094.7,143.1 1095.1,141.7 1095.5,145.5 1095.9,149.1 1096.4,146.4 1096.8,142.8 1097.2,150.2 1097.7,149.0 1098.1,145.8 1098.5,146.4 1099.0,145.9 1099.4,149.3 1099.8,146.2 1100.2,144.8 1100.7,145.1 1101.1,148.2 1101.5,146.6 1102.0,143.5 1102.4,147.9 1102.8,144.3 1103.3,145.1 1103.7,146.2 1104.1,147.8 1104.6,148.7 1105.0,145.6 1105.4,151.4 1105.8,145.8 1106.3,145.8 1106.7,144.4 1107.1,151.1 1107.6,144.6 1108.0,144.9 1108.4,147.1 1108.9,144.2 1109.3,147.9 1109.7,148.6 1110.1,151.3 1110.6,145.8 1111.0,146.0 1111.4,142.1 1111.9,145.6 1112.3,147.6 1112.7,148.6 1113.2,144.4 1113.6,146.6 1114.0,144.1 1114.5,146.6 1114.9,146.0 1115.3,148.3 1115.7,147.7 1116.2,145.8 1116.6,146.9 1117.0,149.4 1117.5,147.1 1117.9,152.3 1118.3,146.5 1118.8,146.8 1119.2,146.0 1119.6,146.1 1120.1,144.9 1120.5,143.1 1120.9,145.5 1121.3,146.7 1121.8,142.7 1122.2,145.7 1122.6,144.9 1123.1,144.9 1123.5,147.1 1123.9,146.1 1124.4,144.8 1124.8,141.8 1125.2,147.6 1125.6,146.2 1126.1,145.0 1126.5,145.3 1126.9,146.1 1127.4,140.7 1127.8,146.1 1128.2,143.5 1128.7,148.6 1129.1,143.8 1129.5,150.4 1130.0,147.5 1130.4,145.4 1130.8,143.4 1131.2,150.8 1131.7,145.1 1132.1,142.2 1132.5,144.9 1133.0,146.8 1133.4,140.9 1133.8,145.9 1134.3,142.4 1134.7,145.5 1135.1,142.1 1135.5,146.3 1136.0,140.8 1136.4,142.6 1136.8,143.1 1137.3,146.3 1137.7,143.8 1138.1,145.2 1138.6,144.7 1139.0,143.0 1139.4,146.5 1139.9,141.6 1140.3,146.7 1140.7,141.0 1141.1,146.0 1141.6,145.4 1142.0,149.6 1142.4,143.3 1142.9,140.9 1143.3,142.2 1143.7,149.5 1144.2,144.3 1144.6,142.5 1145.0,137.7 1145.4,141.6 1145.9,142.4 1146.3,142.5 1146.7,139.7 1147.2,144.6 1147.6,144.0 1148.0,137.9 1148.5,143.7 1148.9,143.9 1149.3,143.8 1149.8,139.0 1150.2,145.6 1150.6,141.8 1151.0,145.9 1151.5,144.2 1151.9,144.4 1152.3,140.5 1152.8,141.2 1153.2,142.6 1153.6,141.2 1154.1,142.6 1154.5,138.6 1154.9,143.8 1155.3,142.0 1155.8,136.3 1156.2,141.2 1156.6,145.1 1157.1,138.6 1157.5,143.7 1157.9,144.7 1158.4,145.6 1158.8,143.6 1159.2,141.2 1159.7,144.2 1160.1,142.6 1160.5,143.9 1160.9,139.4 1161.4,140.6 1161.8,147.7 1162.2,141.5 1162.7,139.3 1163.1,139.0 1163.5,143.7 1164.0,142.0 1164.4,142.4 1164.8,144.6 1165.2,141.7 1165.7,137.9 1166.1,141.2 1166.5,140.9 1167.0,137.8 1167.4,143.3 1167.8,143.5 1168.3,140.2 1168.7,141.8 1169.1,142.6 1169.6,138.0 1170.0,139.8 1170.4,142.4 1170.8,140.1 1171.3,138.0 1171.7,144.6 1172.1,137.7 1172.6,139.5 1173.0,139.5 1173.4,140.7 1173.9,142.2 1174.3,141.0 1174.7,140.4 1175.1,144.9 1175.6,146.5 1176.0,144.8 1176.4,143.8 1176.9,141.7 1177.3,147.2 1177.7,144.6 1178.2,139.3 1178.6,143.3 1179.0,141.9 1179.5,144.2 1179.9,142.3 1180.3,141.5 1180.7,142.5 1181.2,145.4 1181.6,148.8 1182.0,146.4 1182.5,143.7 1182.9,146.5 1183.3,143.7 1183.8,142.8 1184.2,147.1 1184.6,145.4 1185.0,143.8 1185.5,147.1 1185.9,142.5 1186.3,147.1 1186.8,143.8 1187.2,143.2 1187.6,146.9 1188.1,149.5 1188.5,145.7 1188.9,148.7 1189.4,151.3 1189.8,148.2 1190.2,150.4 1190.6,140.3 1191.1,148.4 1191.5,143.8 1191.9,147.8 1192.4,141.0 1192.8,144.3 1193.2,145.8 1193.7,149.1 1194.1,146.8 1194.5,143.7 1194.9,143.8 1195.4,141.2 1195.8,152.7 1196.2,149.7 1196.7,152.8 1197.1,147.6 1197.5,150.3 1198.0,149.2 1198.4,147.9 1198.8,144.9 1199.3,147.3 1199.7,147.9 1200.1,148.7 1200.5,153.6 1201.0,148.8 1201.4,149.3 1201.8,149.1 1202.3,148.7 1202.7,147.0 1203.1,144.9 1203.6,153.1 1204.0,144.3 1204.4,148.1 1204.8,150.2 1205.3,151.9 1205.7,149.6 1206.1,150.5 1206.6,146.5 1207.0,145.3 1207.4,147.9 1207.9,145.1 1208.3,153.2 1208.7,146.8 1209.2,151.8 1209.6,147.6 1210.0,156.5 1210.4,151.5 1210.9,149.3 1211.3,149.4 1211.7,148.8 1212.2,156.8 1212.6,145.2 1213.0,146.5 1213.5,152.8 1213.9,153.5 1214.3,145.2 1214.7,151.9 1215.2,152.2 1215.6,155.6 1216.0,153.2 1216.5,151.2 1216.9,149.0 1217.3,151.1 1217.8,146.7 1218.2,150.5 1218.6,150.9 1219.1,152.5 1219.5,155.1 1219.9,152.2 1220.3,147.9 1220.8,150.7 1221.2,149.0 1221.6,151.0 1222.1,148.9 1222.5,148.7 1222.9,149.9 1223.4,153.0 1223.8,145.7 1224.2,149.0 1224.7,158.5 1225.1,155.6 1225.5,153.3 1225.9,152.1 1226.4,153.6 1226.8,153.2 1227.2,150.7 1227.7,153.9 1228.1,149.9 1228.5,150.9 1229.0,146.7 1229.4,150.5 1229.8,151.9 1230.2,151.2 1230.7,148.8 1231.1,150.0 1231.5,152.9 1232.0,151.4 1232.4,157.2 1232.8,148.4 1233.3,154.6 1233.7,152.3 1234.1,158.5 1234.6,152.6 1235.0,152.9 1235.4,155.8 1235.8,154.4 1236.3,155.5 1236.7,159.5 1237.1,155.9 1237.6,158.5 1238.0,152.9 1238.4,150.3 1238.9,154.5 1239.3,155.5 1239.7,153.6 1240.1,155.0 1240.6,153.1 1241.0,152.8 1241.4,151.5 1241.9,158.3 1242.3,153.9 1242.7,158.0 1243.2,151.7 1243.6,155.4 1244.0,149.2 1244.5,153.3 1244.9,155.5 1245.3,157.2 1245.7,156.6 1246.2,157.9 1246.6,158.5 1247.0,158.2 1247.5,158.2 1247.9,153.0 1248.3,155.9 1248.8,157.4 1249.2,152.8 1249.6,157.4 1250.0,158.6 1250.5,154.3 1250.9,156.8 1251.3,160.0 1251.8,156.1 1252.2,151.9 1252.6,154.6 1253.1,156.0 1253.5,160.3 1253.9,155.1 1254.4,157.6 1254.8,151.7 1255.2,157.3 1255.6,160.7 1256.1,165.8 1256.5,158.2 1256.9,158.1 1257.4,159.1 1257.8,157.4 1258.2,157.4 1258.7,159.7 1259.1,155.1 1259.5,162.3 1259.9,154.4 1260.4,160.8 1260.8,164.1 1261.2,156.9 1261.7,160.6 1262.1,162.4 1262.5,161.8 1263.0,156.5 1263.4,162.0 1263.8,165.2 1264.3,159.4 1264.7,157.6 1265.1,161.3 1265.5,161.5 1266.0,161.7 1266.4,161.0 1266.8,162.4 1267.3,157.2 1267.7,161.8 1268.1,165.1 1268.6,158.0 1269.0,162.5 1269.4,153.9 1269.8,160.9 1270.3,161.2 1270.7,166.1 1271.1,167.6 1271.6,164.5 1272.0,161.0"/>
<line class="d" stroke="#ff00ff" stroke-opacity="0.75" x1="1272.0" y1="161.0" x2="1272.0" y2="162.0"/>
<rect x="1223.5" y="8.5" width="112" height="92" fill="#fff" stroke="#000" stroke-width="0.65"/>
<line x1="1230.0" y1="21.5" x2="1271.8" y2="21.5" stroke="#000000" stroke-width="1" stroke-opacity="0.68"/>
<text class="l" x="1277.1" y="27.8">Head1</text>
<line x1="1230.0" y1="44.5" x2="1271.8" y2="44.5" stroke="#ff0000" stroke-width="1" stroke-opacity="0.50"/>
<text class="l" x="1277.1" y="50.4">Head2</text>
<line x1="1230.0" y1="66.5" x2="1271.8" y2="66.5" stroke="#0000ff" stroke-width="1" stroke-opacity="0.32"/>
<text class="l" x="1277.1" y="73.0">Head3</text>
<line x1="1230.0" y1="89.5" x2="1271.8" y2="89.5" stroke="#ff00ff" stroke-width="1" stroke-opacity="0.78"/>
<text class="l" x="1277.1" y="95.6">Head4</text>
</g>
<g>
<path class="ax" d="M1552.2,48.6 V415.0 M1551.6,414.4 H2043.6"/>
<path class="ax" d="M1552.2,49.11 h-4.2 M1552.2,70.60 h-7.6 M1552.2,92.09 h-4.2 M1552.2,113.58 h-7.6 M1552.2,135.07 h-4.2 M1552.2,156.56 h-7.6 M1552.2,178.05 h-4.2 M1552.2,199.54 h-7.6 M1552.2,221.03 h-4.2 M1552.2,242.52 h-7.6 M1552.2,264.01 h-4.2 M1552.2,285.50 h-7.6 M1552.2,306.99 h-4.2 M1552.2,328.48 h-7.6 M1552.2,349.97 h-4.2 M1552.2,371.46 h-7.6 M1552.2,392.95 h-4.2 M1552.2,414.44 h-7.6 M1552.20,414.4 v4.2 M1593.10,414.4 v7.6 M1634.00,414.4 v4.2 M1674.90,414.4 v7.6 M1715.80,414.4 v4.2 M1756.70,414.4 v7.6 M1797.60,414.4 v4.2 M1838.50,414.4 v7.6 M1879.40,414.4 v4.2 M1920.30,414.4 v7.6 M1961.20,414.4 v4.2 M2002.10,414.4 v7.6 M2043.00,414.4 v4.2"/>
<text class="t" x="1540.0" y="75.7" text-anchor="end">0.70</text>
<text class="t" x="1540.0" y="118.7" text-anchor="end">0.68</text>
<text class="t" x="1540.0" y="161.7" text-anchor="end">0.66</text>
<text class="t" x="1540.0" y="204.6" text-anchor="end">0.64</text>
<text class="t" x="1540.0" y="247.6" text-anchor="end">0.62</text>
<text class="t" x="1540.0" y="290.6" text-anchor="end">0.60</text>
<text class="t" x="1540.0" y="333.6" text-anchor="end">0.58</text>
<text class="t" x="1540.0" y="376.6" text-anchor="end">0.56</text>
<text class="t" x="1540.0" y="419.5" text-anchor="end">0.54</text>
<text class="t" x="1593.1" y="438.6" text-anchor="middle">0</text>
<text class="t" x="1674.9" y="438.6" text-anchor="middle">20000</text>
<text class="t" x="1756.7" y="438.6" text-anchor="middle">40000</text>
<text class="t" x="1838.5" y="438.6" text-anchor="middle">60000</text>
<text class="t" x="1920.3" y="438.6" text-anchor="middle">80000</text>
<text class="t" x="2002.1" y="438.6" text-anchor="middle">100000</text>
<text class="l" x="1797.6" y="467.1" text-anchor="middle">Episode</text>
<text class="l" transform="translate(1488.1,224) rotate(-90)" text-anchor="middle">Attention Entropy</text>
<polyline class="d" stroke="#000000" points="1593.5,114.5 1593.9,94.4 1594.4,93.4 1594.8,92.6 1595.2,91.8 1595.7,90.9 1596.1,90.6 1596.5,90.4 1596.9,90.3 1597.4,90.2 1597.8,90.1 1598.2,89.8 1598.7,89.7 1599.1,89.7 1599.5,89.3 1600.0,89.5 1600.4,89.4 1600.8,89.1 1601.2,88.9 1601.7,89.2 1602.1,89.1 1602.5,89.4 1603.0,89.5 1603.4,89.4 1603.8,89.3 1604.3,89.8 1604.7,89.6 1605.1,89.6 1605.6,89.6 1606.0,89.7 1606.4,89.9 1606.8,90.1 1607.3,90.1 1607.7,89.9 1608.1,90.1 1608.6,91.0 1609.0,90.1 1609.4,91.0 1609.9,90.5 1610.3,90.3 1610.7,90.7 1611.1,90.9 1611.6,90.9 1612.0,91.9 1612.4,91.0 1612.9,91.5 1613.3,91.9 1613.7,91.9 1614.2,92.1 1614.6,91.9 1615.0,92.2 1615.5,91.8 1615.9,92.3 1616.3,91.6 1616.7,92.7 1617.2,92.1 1617.6,92.2 1618.0,93.0 1618.5,92.4 1618.9,92.1 1619.3,92.4 1619.8,92.3 1620.2,92.1 1620.6,93.2 1621.0,92.9 1621.5,92.1 1621.9,93.3 1622.3,93.8 1622.8,92.9 1623.2,92.9 1623.6,94.1 1624.1,94.7 1624.5,94.1 1624.9,94.5 1625.4,94.3 1625.8,94.2 1626.2,93.9 1626.6,93.9 1627.1,93.9 1627.5,93.5 1627.9,94.0 1628.4,94.2 1628.8,95.5 1629.2,94.3 1629.7,94.1 1630.1,94.2 1630.5,95.1 1630.9,94.4 1631.4,96.6 1631.8,94.1 1632.2,94.8 1632.7,95.3 1633.1,95.1 1633.5,96.2 1634.0,95.6 1634.4,95.8 1634.8,95.8 1635.3,96.4 1635.7,95.5 1636.1,95.0 1636.5,96.7 1637.0,98.0 1637.4,96.7 1637.8,97.5 1638.3,96.8 1638.7,96.7 1639.1,97.6 1639.6,98.5 1640.0,96.8 1640.4,98.8 1640.8,97.6 1641.3,99.0 1641.7,97.9 1642.1,99.4 1642.6,99.6 1643.0,98.7 1643.4,100.2 1643.9,99.8 1644.3,99.2 1644.7,98.8 1645.2,99.6 1645.6,99.3 1646.0,100.8 1646.4,100.9 1646.9,100.1 1647.3,100.6 1647.7,101.1 1648.2,100.1 1648.6,101.7 1649.0,100.9 1649.5,103.1 1649.9,100.5 1650.3,101.7 1650.8,101.3 1651.2,101.5 1651.6,102.5 1652.0,103.2 1652.5,103.1 1652.9,102.4 1653.3,101.1 1653.8,103.4 1654.2,104.9 1654.6,103.3 1655.1,104.6 1655.5,103.5 1655.9,104.3 1656.3,104.5 1656.8,106.0 1657.2,107.6 1657.6,105.5 1658.1,108.1 1658.5,103.5 1658.9,106.3 1659.4,106.1 1659.8,105.9 1660.2,108.8 1660.7,106.8 1661.1,107.0 1661.5,110.3 1661.9,107.8 1662.4,110.8 1662.8,110.2 1663.2,109.8 1663.7,108.2 1664.1,110.5 1664.5,107.1 1665.0,111.4 1665.4,111.5 1665.8,111.9 1666.2,110.8 1666.7,110.1 1667.1,109.1 1667.5,109.5 1668.0,114.3 1668.4,110.6 1668.8,111.1 1669.3,113.1 1669.7,112.0 1670.1,112.4 1670.6,112.1 1671.0,112.5 1671.4,115.1 1671.8,113.7 1672.3,110.6 1672.7,116.1 1673.1,115.6 1673.6,113.6 1674.0,114.0 1674.4,116.7 1674.9,118.4 1675.3,111.8 1675.7,115.5 1676.1,115.9 1676.6,115.6 1677.0,118.1 1677.4,115.1 1677.9,118.8 1678.3,116.0 1678.7,117.8 1679.2,119.1 1679.6,118.3 1680.0,115.3 1680.5,116.9 1680.9,118.8 1681.3,116.0 1681.7,118.2 1682.2,117.1 1682.6,118.9 1683.0,120.0 1683.5,119.0 1683.9,121.0 1684.3,120.3 1684.8,121.3 1685.2,121.4 1685.6,120.4 1686.0,123.4 1686.5,121.6 1686.9,121.0 1687.3,122.7 1687.8,122.2 1688.2,120.7 1688.6,122.2 1689.1,121.8 1689.5,125.0 1689.9,122.3 1690.4,128.5 1690.8,124.4 1691.2,121.4 1691.6,124.2 1692.1,124.3 1692.5,125.5 1692.9,123.9 1693.4,126.5 1693.8,127.1 1694.2,124.4 1694.7,123.3 1695.1,129.1 1695.5,125.7 1695.9,129.6 1696.4,128.0 1696.8,127.6 1697.2,126.9 1697.7,132.2 1698.1,128.7 1698.5,134.0 1699.0,128.9 1699.4,129.7 1699.8,130.0 1700.3,130.4 1700.7,132.9 1701.1,135.2 1701.5,135.3 1702.0,131.2 1702.4,135.9 1702.8,133.7 1703.3,128.6 1703.7,134.2 1704.1,131.9 1704.6,134.0 1705.0,133.1 1705.4,130.3 1705.8,133.8 1706.3,133.2 1706.7,135.3 1707.1,139.7 1707.6,134.7 1708.0,135.8 1708.4,136.9 1708.9,136.7 1709.3,137.3 1709.7,136.9 1710.2,134.1 1710.6,136.7 1711.0,140.1 1711.4,136.0 1711.9,140.6 1712.3,142.8 1712.7,142.1 1713.2,141.5 1713.6,141.8 1714.0,140.5 1714.5,142.1 1714.9,140.7 1715.3,142.0 1715.7,138.1 1716.2,140.4 1716.6,140.5 1717.0,145.0 1717.5,137.6 1717.9,143.0 1718.3,141.1 1718.8,143.9 1719.2,145.3 1719.6,146.8 1720.1,145.6 1720.5,141.4 1720.9,147.2 1721.3,148.9 1721.8,151.0 1722.2,144.5 1722.6,141.7 1723.1,145.2 1723.5,145.9 1723.9,148.8 1724.4,147.5 1724.8,147.2 1725.2,148.8 1725.6,145.2 1726.1,147.4 1726.5,144.4 1726.9,143.8 1727.4,145.0 1727.8,145.0 1728.2,147.6 1728.7,146.3 1729.1,147.2 1729.5,150.7 1730.0,152.2 1730.4,147.5 1730.8,147.8 1731.2,150.5 1731.7,146.7 1732.1,147.6 1732.5,150.0 1733.0,150.5 1733.4,150.3 1733.8,144.8 1734.3,149.6 1734.7,155.8 1735.1,152.5 1735.5,149.1 1736.0,151.1 1736.4,152.0 1736.8,148.9 1737.3,151.0 1737.7,151.5 1738.1,150.0 1738.6,148.5 1739.0,151.4 1739.4,155.2 1739.9,153.9 1740.3,152.9 1740.7,151.9 1741.1,158.1 1741.6,147.1 1742.0,149.7 1742.4,153.6 1742.9,148.6 1743.3,155.0 1743.7,154.2 1744.2,152.6 1744.6,153.6 1745.0,162.8 1745.4,156.2 1745.9,151.4 1746.3,154.4 1746.7,153.2 1747.2,152.3 1747.6,158.5 1748.0,156.6 1748.5,153.3 1748.9,158.6 1749.3,159.1 1749.8,158.4 1750.2,164.6 1750.6,156.3 1751.0,164.1 1751.5,159.3 1751.9,156.5 1752.3,157.0 1752.8,162.5 1753.2,162.1 1753.6,158.4 1754.1,168.1 1754.5,160.1 1754.9,161.5 1755.4,162.0 1755.8,164.7 1756.2,163.8 1756.6,161.3 1757.1,164.1 1757.5,159.7 1757.9,169.7 1758.4,171.9 1758.8,169.9 1759.2,166.8 1759.7,163.2 1760.1,165.1 1760.5,158.7 1760.9,167.2 1761.4,172.0 1761.8,165.0 1762.2,163.2 1762.7,172.0 1763.1,168.8 1763.5,164.4 1764.0,168.4 1764.4,168.1 1764.8,169.7 1765.3,169.8 1765.7,169.1 1766.1,170.5 1766.5,175.0 1767.0,174.5 1767.4,165.2 1767.8,176.7 1768.3,169.4 1768.7,170.6 1769.1,173.5 1769.6,175.2 1770.0,170.5 1770.4,174.4 1770.8,172.0 1771.3,182.7 1771.7,172.3 1772.1,186.4 1772.6,177.5 1773.0,179.1 1773.4,179.9 1773.9,178.4 1774.3,176.0 1774.7,179.4 1775.2,178.7 1775.6,180.4 1776.0,176.4 1776.4,186.2 1776.9,176.1 1777.3,180.7 1777.7,183.1 1778.2,181.3 1778.6,184.5 1779.0,182.8 1779.5,179.5 1779.9,179.3 1780.3,182.3 1780.7,179.5 1781.2,183.8 1781.6,195.4 1782.0,190.8 1782.5,177.9 1782.9,187.6 1783.3,187.4 1783.8,180.5 1784.2,179.4 1784.6,188.6 1785.1,188.7 1785.5,180.5 1785.9,185.1 1786.3,192.6 1786.8,189.3 1787.2,183.9 1787.6,185.1 1788.1,187.5 1788.5,197.1 1788.9,202.6 1789.4,195.5 1789.8,186.9 1790.2,187.6 1790.6,189.3 1791.1,187.9 1791.5,193.0 1791.9,197.1 1792.4,193.1 1792.8,194.8 1793.2,186.9 1793.7,198.2 1794.1,192.1 1794.5,190.1 1795.0,198.0 1795.4,194.9 1795.8,203.2 1796.2,203.7 1796.7,198.3 1797.1,209.2 1797.5,202.2 1798.0,204.9 1798.4,200.7 1798.8,202.4 1799.3,205.6 1799.7,200.6 1800.1,207.2 1800.5,199.8 1801.0,201.4 1801.4,213.0 1801.8,203.9 1802.3,202.4 1802.7,205.5 1803.1,198.9 1803.6,202.5 1804.0,207.8 1804.4,203.5 1804.9,201.8 1805.3,204.8 1805.7,205.4 1806.1,198.2 1806.6,202.7 1807.0,213.0 1807.4,207.5 1807.9,213.1 1808.3,206.8 1808.7,208.5 1809.2,220.5 1809.6,211.8 1810.0,209.5 1810.4,204.4 1810.9,214.0 1811.3,208.1 1811.7,209.5 1812.2,211.1 1812.6,214.8 1813.0,212.5 1813.5,219.7 1813.9,217.4 1814.3,225.7 1814.8,219.9 1815.2,213.0 1815.6,224.2 1816.0,214.7 1816.5,219.5 1816.9,215.3 1817.3,226.8 1817.8,218.1 1818.2,217.5 1818.6,217.9 1819.1,214.3 1819.5,230.6 1819.9,230.5 1820.3,218.9 1820.8,230.2 1821.2,228.8 1821.6,223.3 1822.1,227.5 1822.5,227.1 1822.9,219.5 1823.4,218.8 1823.8,225.3 1824.2,224.1 1824.7,222.0 1825.1,221.4 1825.5,236.7 1825.9,232.5 1826.4,227.8 1826.8,228.7 1827.2,227.4 1827.7,232.4 1828.1,227.1 1828.5,233.2 1829.0,230.1 1829.4,225.8 1829.8,234.6 1830.2,231.9 1830.7,227.9 1831.1,228.9 1831.5,231.4 1832.0,227.6 1832.4,229.6 1832.8,240.8 1833.3,231.1 1833.7,236.4 1834.1,231.2 1834.6,240.0 1835.0,239.2 1835.4,239.9 1835.8,238.5 1836.3,232.9 1836.7,237.3 1837.1,234.6 1837.6,227.8 1838.0,245.9 1838.4,237.3 1838.9,233.3 1839.3,241.2 1839.7,245.2 1840.1,236.9 1840.6,247.3 1841.0,246.1 1841.4,243.1 1841.9,242.6 1842.3,243.0 1842.7,247.4 1843.2,238.8 1843.6,234.4 1844.0,244.4 1844.5,236.4 1844.9,245.5 1845.3,242.3 1845.7,246.1 1846.2,244.6 1846.6,239.5 1847.0,236.4 1847.5,248.9 1847.9,249.9 1848.3,244.7 1848.8,240.4 1849.2,242.7 1849.6,248.7 1850.1,240.7 1850.5,253.1 1850.9,238.0 1851.3,251.5 1851.8,237.2 1852.2,243.5 1852.6,244.1 1853.1,244.4 1853.5,254.0 1853.9,249.7 1854.4,255.4 1854.8,255.3 1855.2,253.7 1855.6,255.3 1856.1,249.4 1856.5,251.5 1856.9,252.4 1857.4,245.5 1857.8,254.5 1858.2,241.1 1858.7,244.1 1859.1,255.1 1859.5,243.6 1860.0,250.1 1860.4,246.2 1860.8,248.8 1861.2,254.8 1861.7,264.3 1862.1,256.4 1862.5,256.7 1863.0,253.1 1863.4,267.5 1863.8,253.0 1864.3,249.2 1864.7,249.8 1865.1,242.6 1865.5,245.8 1866.0,253.7 1866.4,243.8 1866.8,249.1 1867.3,261.0 1867.7,251.5 1868.1,253.7 1868.6,259.6 1869.0,249.1 1869.4,260.9 1869.9,260.7 1870.3,258.7 1870.7,252.3 1871.1,258.0 1871.6,260.1 1872.0,257.8 1872.4,261.8 1872.9,258.2 1873.3,258.2 1873.7,267.3 1874.2,267.3 1874.6,261.5 1875.0,253.4 1875.4,262.0 1875.9,274.2 1876.3,264.7 1876.7,262.4 1877.2,256.3 1877.6,252.8 1878.0,264.5 1878.5,262.5 1878.9,273.5 1879.3,267.9 1879.8,262.4 1880.2,257.3 1880.6,268.5 1881.0,262.4 1881.5,268.4 1881.9,256.4 1882.3,273.8 1882.8,274.4 1883.2,264.7 1883.6,277.2 1884.1,267.6 1884.5,269.5 1884.9,269.7 1885.3,270.2 1885.8,258.6 1886.2,275.3 1886.6,265.9 1887.1,267.6 1887.5,269.1 1887.9,260.2 1888.4,268.9 1888.8,275.0 1889.2,271.3 1889.7,279.2 1890.1,284.9 1890.5,275.4 1890.9,271.9 1891.4,280.8 1891.8,278.6 1892.2,265.6 1892.7,285.3 1893.1,268.1 1893.5,272.6 1894.0,277.3 1894.4,284.0 1894.8,266.3 1895.2,282.0 1895.7,276.2 1896.1,272.5 1896.5,278.0 1897.0,280.7 1897.4,276.2 1897.8,279.2 1898.3,268.3 1898.7,270.8 1899.1,270.2 1899.6,283.5 1900.0,261.3 1900.4,270.7 1900.8,268.4 1901.3,268.8 1901.7,280.8 1902.1,282.9 1902.6,276.8 1903.0,271.6 1903.4,276.8 1903.9,273.4 1904.3,283.4 1904.7,282.0 1905.1,284.7 1905.6,276.0 1906.0,274.0 1906.4,276.7 1906.9,285.2 1907.3,282.3 1907.7,282.8 1908.2,290.8 1908.6,276.6 1909.0,270.1 1909.5,278.9 1909.9,280.7 1910.3,290.4 1910.7,277.1 1911.2,273.3 1911.6,280.8 1912.0,280.0 1912.5,294.3 1912.9,283.6 1913.3,275.8 1913.8,273.7 1914.2,276.2 1914.6,281.3 1915.0,289.0 1915.5,293.1 1915.9,276.3 1916.3,281.9 1916.8,288.4 1917.2,273.2 1917.6,298.6 1918.1,280.8 1918.5,293.2 1918.9,282.9 1919.4,269.7 1919.8,287.7 1920.2,284.1 1920.6,279.7 1921.1,296.4 1921.5,290.7 1921.9,296.4 1922.4,290.1 1922.8,276.1 1923.2,293.3 1923.7,293.6 1924.1,290.5 1924.5,278.2 1924.9,293.8 1925.4,286.3 1925.8,286.3 1926.2,286.6 1926.7,290.6 1927.1,304.8 1927.5,281.8 1928.0,289.0 1928.4,300.2 1928.8,279.5 1929.3,287.0 1929.7,298.3 1930.1,297.0 1930.5,285.2 1931.0,300.3 1931.4,289.7 1931.8,296.4 1932.3,304.9 1932.7,304.4 1933.1,297.1 1933.6,299.8 1934.0,291.1 1934.4,296.5 1934.8,293.1 1935.3,302.7 1935.7,285.0 1936.1,288.9 1936.6,282.5 1937.0,293.6 1937.4,288.3 1937.9,293.7 1938.3,305.1 1938.7,304.1 1939.2,298.3 1939.6,297.2 1940.0,290.6 1940.4,296.2 1940.9,299.0 1941.3,291.8 1941.7,301.4 1942.2,298.4 1942.6,309.0 1943.0,299.0 1943.5,305.6 1943.9,297.2 1944.3,304.5 1944.7,300.0 1945.2,296.5 1945.6,306.0 1946.0,303.0 1946.5,303.9 1946.9,311.7 1947.3,303.6 1947.8,305.9 1948.2,294.3 1948.6,299.5 1949.1,307.7 1949.5,317.1 1949.9,294.4 1950.3,312.1 1950.8,304.8 1951.2,315.3 1951.6,322.1 1952.1,305.1 1952.5,311.4 1952.9,301.2 1953.4,307.9 1953.8,315.1 1954.2,299.7 1954.7,305.7 1955.1,303.1 1955.5,325.7 1955.9,302.5 1956.4,309.7 1956.8,307.6 1957.2,300.7 1957.7,306.7 1958.1,303.2 1958.5,310.0 1959.0,316.1 1959.4,305.9 1959.8,310.1 1960.2,311.4 1960.7,309.8 1961.1,297.7 1961.5,305.8 1962.0,307.1 1962.4,307.3 1962.8,303.2 1963.3,315.2 1963.7,320.5 1964.1,314.1 1964.6,308.9 1965.0,328.6 1965.4,324.7 1965.8,322.7 1966.3,321.4 1966.7,313.8 1967.1,316.8 1967.6,319.9 1968.0,316.1 1968.4,336.7 1968.9,316.9 1969.3,317.9 1969.7,313.6 1970.1,319.8 1970.6,316.6 1971.0,323.3 1971.4,336.4 1971.9,326.9 1972.3,324.2 1972.7,317.4 1973.2,317.1 1973.6,330.1 1974.0,314.9 1974.5,319.7 1974.9,309.2 1975.3,314.8 1975.7,325.8 1976.2,321.4 1976.6,321.5 1977.0,318.5 1977.5,331.8 1977.9,312.5 1978.3,342.2 1978.8,329.2 1979.2,344.9 1979.6,330.1 1980.0,339.2 1980.5,322.0 1980.9,335.8 1981.3,331.9 1981.8,328.5 1982.2,331.0 1982.6,321.3 1983.1,317.8 1983.5,336.3 1983.9,339.3 1984.4,322.4 1984.8,322.3 1985.2,331.5 1985.6,326.5 1986.1,340.8 1986.5,326.9 1986.9,329.6 1987.4,327.4 1987.8,321.8 1988.2,328.5 1988.7,331.1 1989.1,336.9 1989.5,337.6 1989.9,331.9 1990.4,317.9 1990.8,335.5 1991.2,330.6 1991.7,331.1 1992.1,340.2 1992.5,334.3 1993.0,345.1 1993.4,338.5 1993.8,334.4 1994.3,324.6 1994.7,339.5 1995.1,328.4 1995.5,328.5 1996.0,350.7 1996.4,352.5 1996.8,342.4 1997.3,336.7 1997.7,342.8 1998.1,346.5 1998.6,337.1 1999.0,339.3 1999.4,328.4 1999.8,342.1 2000.3,337.5 2000.7,338.2 2001.1,336.5 2001.6,324.7 2002.0,344.7"/>
<line class="d" stroke="#000000" stroke-opacity="0.75" x1="2002.0" y1="344.7" x2="2002.0" y2="350.0"/>
<polyline class="d" stroke="#ff0000" points="1593.5,104.0 1593.9,95.7 1594.4,95.2 1594.8,94.6 1595.2,95.2 1595.7,92.8 1596.1,93.7 1596.5,91.8 1596.9,93.6 1597.4,92.5 1597.8,92.4 1598.2,92.5 1598.7,91.4 1599.1,93.1 1599.5,92.5 1600.0,91.8 1600.4,92.7 1600.8,93.1 1601.2,94.3 1601.7,93.9 1602.1,93.3 1602.5,92.4 1603.0,92.7 1603.4,94.4 1603.8,92.8 1604.3,92.5 1604.7,93.9 1605.1,96.2 1605.6,94.8 1606.0,93.8 1606.4,95.7 1606.8,94.0 1607.3,94.8 1607.7,94.6 1608.1,96.7 1608.6,94.9 1609.0,95.6 1609.4,95.6 1609.9,95.9 1610.3,95.4 1610.7,95.6 1611.1,96.9 1611.6,96.9 1612.0,97.5 1612.4,97.6 1612.9,96.0 1613.3,95.8 1613.7,97.0 1614.2,98.1 1614.6,98.1 1615.0,97.0 1615.5,99.1 1615.9,98.9 1616.3,98.7 1616.7,96.5 1617.2,97.0 1617.6,97.8 1618.0,98.3 1618.5,98.3 1618.9,99.3 1619.3,99.0 1619.8,99.1 1620.2,98.3 1620.6,97.7 1621.0,99.8 1621.5,98.4 1621.9,97.0 1622.3,98.2 1622.8,96.7 1623.2,98.6 1623.6,99.7 1624.1,98.4 1624.5,98.8 1624.9,96.3 1625.4,95.1 1625.8,97.5 1626.2,97.1 1626.6,96.7 1627.1,97.8 1627.5,97.8 1627.9,98.1 1628.4,98.0 1628.8,96.9 1629.2,98.0 1629.7,97.0 1630.1,97.2 1630.5,95.9 1630.9,98.2 1631.4,97.2 1631.8,96.8 1632.2,99.2 1632.7,95.4 1633.1,95.2 1633.5,94.7 1634.0,95.0 1634.4,97.4 1634.8,96.3 1635.3,96.0 1635.7,95.7 1636.1,95.8 1636.5,94.0 1637.0,96.4 1637.4,97.7 1637.8,97.1 1638.3,94.2 1638.7,94.5 1639.1,96.9 1639.6,98.0 1640.0,95.6 1640.4,98.3 1640.8,98.5 1641.3,96.0 1641.7,96.9 1642.1,97.0 1642.6,98.5 1643.0,98.6 1643.4,95.7 1643.9,97.7 1644.3,96.6 1644.7,97.1 1645.2,97.4 1645.6,97.1 1646.0,96.4 1646.4,97.4 1646.9,98.1 1647.3,96.7 1647.7,97.1 1648.2,95.9 1648.6,96.8 1649.0,96.4 1649.5,99.6 1649.9,98.4 1650.3,99.9 1650.8,97.6 1651.2,96.8 1651.6,97.7 1652.0,96.1 1652.5,97.8 1652.9,98.5 1653.3,99.6 1653.8,97.6 1654.2,98.3 1654.6,96.1 1655.1,98.8 1655.5,98.8 1655.9,95.7 1656.3,101.5 1656.8,99.0 1657.2,97.2 1657.6,98.3 1658.1,98.4 1658.5,99.4 1658.9,96.6 1659.4,101.6 1659.8,99.0 1660.2,99.8 1660.7,98.9 1661.1,97.2 1661.5,99.7 1661.9,99.3 1662.4,99.6 1662.8,97.3 1663.2,97.8 1663.7,97.5 1664.1,97.9 1664.5,97.7 1665.0,97.8 1665.4,101.9 1665.8,101.1 1666.2,97.8 1666.7,99.4 1667.1,98.5 1667.5,100.3 1668.0,98.9 1668.4,98.5 1668.8,99.0 1669.3,101.2 1669.7,102.8 1670.1,101.8 1670.6,99.9 1671.0,99.6 1671.4,98.8 1671.8,99.7 1672.3,103.0 1672.7,101.2 1673.1,99.7 1673.6,100.6 1674.0,98.9 1674.4,100.3 1674.9,100.5 1675.3,100.3 1675.7,100.0 1676.1,103.8 1676.6,98.6 1677.0,102.5 1677.4,100.3 1677.9,104.1 1678.3,102.5 1678.7,101.8 1679.2,101.7 1679.6,101.9 1680.0,102.7 1680.5,100.8 1680.9,105.6 1681.3,102.1 1681.7,105.2 1682.2,106.0 1682.6,100.3 1683.0,101.6 1683.5,102.7 1683.9,104.2 1684.3,105.8 1684.8,103.5 1685.2,103.7 1685.6,102.1 1686.0,104.2 1686.5,102.5 1686.9,105.0 1687.3,102.7 1687.8,102.7 1688.2,103.8 1688.6,104.1 1689.1,102.6 1689.5,104.6 1689.9,106.3 1690.4,104.4 1690.8,105.0 1691.2,105.1 1691.6,106.0 1692.1,105.5 1692.5,106.3 1692.9,107.1 1693.4,107.7 1693.8,104.6 1694.2,106.5 1694.7,107.4 1695.1,110.4 1695.5,107.3 1695.9,105.1 1696.4,106.2 1696.8,106.5 1697.2,106.3 1697.7,108.3 1698.1,109.2 1698.5,108.5 1699.0,108.2 1699.4,106.6 1699.8,108.2 1700.3,107.1 1700.7,110.3 1701.1,109.3 1701.5,111.9 1702.0,113.5 1702.4,109.6 1702.8,113.8 1703.3,111.8 1703.7,109.9 1704.1,112.1 1704.6,110.3 1705.0,110.0 1705.4,110.7 1705.8,108.3 1706.3,114.2 1706.7,112.3 1707.1,113.3 1707.6,108.8 1708.0,111.5 1708.4,115.0 1708.9,112.3 1709.3,112.9 1709.7,113.7 1710.2,111.6 1710.6,114.8 1711.0,114.6 1711.4,113.3 1711.9,118.5 1712.3,118.7 1712.7,117.3 1713.2,115.2 1713.6,115.0 1714.0,114.9 1714.5,116.4 1714.9,117.2 1715.3,115.5 1715.7,117.0 1716.2,115.9 1716.6,116.1 1717.0,117.8 1717.5,116.3 1717.9,117.6 1718.3,118.6 1718.8,118.8 1719.2,121.1 1719.6,120.0 1720.1,119.6 1720.5,117.0 1720.9,121.2 1721.3,116.9 1721.8,116.6 1722.2,122.5 1722.6,123.6 1723.1,119.5 1723.5,117.4 1723.9,120.3 1724.4,121.3 1724.8,118.0 1725.2,118.6 1725.6,119.7 1726.1,122.8 1726.5,122.4 1726.9,120.2 1727.4,120.5 1727.8,120.5 1728.2,120.7 1728.7,120.7 1729.1,122.1 1729.5,121.2 1730.0,123.1 1730.4,123.8 1730.8,122.5 1731.2,121.3 1731.7,123.8 1732.1,123.0 1732.5,123.3 1733.0,126.1 1733.4,122.1 1733.8,124.1 1734.3,120.6 1734.7,120.8 1735.1,128.6 1735.5,128.9 1736.0,126.4 1736.4,127.0 1736.8,123.7 1737.3,122.4 1737.7,126.6 1738.1,126.3 1738.6,123.2 1739.0,121.8 1739.4,128.2 1739.9,129.3 1740.3,125.9 1740.7,127.6 1741.1,127.8 1741.6,129.3 1742.0,123.9 1742.4,125.7 1742.9,126.6 1743.3,128.7 1743.7,127.8 1744.2,128.7 1744.6,125.7 1745.0,127.2 1745.4,129.7 1745.9,133.3 1746.3,127.0 1746.7,126.1 1747.2,129.8 1747.6,132.9 1748.0,128.2 1748.5,127.5 1748.9,135.8 1749.3,134.1 1749.8,136.0 1750.2,131.6 1750.6,129.3 1751.0,128.3 1751.5,130.9 1751.9,131.3 1752.3,132.0 1752.8,132.8 1753.2,132.4 1753.6,130.8 1754.1,134.9 1754.5,133.3 1754.9,131.0 1755.4,132.8 1755.8,133.2 1756.2,129.1 1756.6,135.0 1757.1,132.8 1757.5,134.0 1757.9,132.5 1758.4,133.2 1758.8,136.2 1759.2,131.7 1759.7,138.5 1760.1,137.7 1760.5,138.7 1760.9,142.1 1761.4,142.4 1761.8,139.8 1762.2,140.6 1762.7,136.8 1763.1,139.1 1763.5,142.8 1764.0,143.4 1764.4,141.0 1764.8,144.5 1765.3,143.5 1765.7,137.8 1766.1,136.9 1766.5,140.4 1767.0,139.0 1767.4,143.5 1767.8,146.4 1768.3,140.5 1768.7,140.5 1769.1,142.1 1769.6,140.9 1770.0,138.4 1770.4,141.9 1770.8,140.5 1771.3,141.6 1771.7,138.6 1772.1,138.0 1772.6,141.4 1773.0,145.0 1773.4,139.7 1773.9,142.2 1774.3,146.3 1774.7,147.2 1775.2,144.6 1775.6,143.8 1776.0,147.9 1776.4,143.6 1776.9,142.6 1777.3,144.7 1777.7,148.1 1778.2,145.9 1778.6,145.6 1779.0,144.2 1779.5,151.1 1779.9,150.9 1780.3,149.0 1780.7,146.6 1781.2,147.2 1781.6,153.0 1782.0,146.6 1782.5,149.0 1782.9,149.4 1783.3,149.3 1783.8,155.8 1784.2,151.4 1784.6,145.2 1785.1,146.0 1785.5,150.3 1785.9,149.3 1786.3,150.0 1786.8,153.0 1787.2,154.9 1787.6,150.6 1788.1,150.0 1788.5,151.5 1788.9,152.9 1789.4,152.3 1789.8,155.9 1790.2,147.1 1790.6,151.8 1791.1,149.2 1791.5,149.8 1791.9,151.9 1792.4,157.2 1792.8,153.3 1793.2,155.2 1793.7,153.7 1794.1,153.0 1794.5,154.4 1795.0,154.1 1795.4,152.0 1795.8,156.6 1796.2,154.4 1796.7,153.5 1797.1,158.6 1797.5,155.8 1798.0,154.3 1798.4,153.1 1798.8,162.5 1799.3,155.9 1799.7,154.8 1800.1,155.1 1800.5,156.7 1801.0,155.3 1801.4,159.0 1801.8,158.5 1802.3,161.3 1802.7,155.9 1803.1,154.1 1803.6,159.0 1804.0,157.0 1804.4,160.2 1804.9,158.0 1805.3,156.5 1805.7,155.7 1806.1,160.2 1806.6,163.4 1807.0,166.5 1807.4,160.2 1807.9,159.8 1808.3,154.9 1808.7,166.5 1809.2,159.6 1809.6,158.4 1810.0,164.3 1810.4,162.9 1810.9,160.8 1811.3,165.2 1811.7,166.7 1812.2,163.7 1812.6,163.2 1813.0,163.1 1813.5,167.2 1813.9,161.7 1814.3,164.3 1814.8,160.6 1815.2,162.0 1815.6,157.5 1816.0,163.2 1816.5,161.1 1816.9,164.7 1817.3,158.2 1817.8,166.9 1818.2,165.3 1818.6,159.3 1819.1,161.3 1819.5,164.6 1819.9,163.9 1820.3,167.4 1820.8,167.6 1821.2,164.9 1821.6,165.7 1822.1,163.1 1822.5,166.8 1822.9,172.3 1823.4,164.4 1823.8,169.1 1824.2,169.1 1824.7,169.1 1825.1,168.6 1825.5,165.8 1825.9,164.1 1826.4,165.5 1826.8,163.9 1827.2,160.9 1827.7,160.2 1828.1,164.6 1828.5,164.6 1829.0,166.8 1829.4,166.8 1829.8,166.2 1830.2,170.0 1830.7,167.2 1831.1,167.1 1831.5,168.3 1832.0,165.9 1832.4,164.5 1832.8,167.8 1833.3,164.5 1833.7,166.0 1834.1,167.6 1834.6,167.6 1835.0,162.2 1835.4,174.3 1835.8,166.1 1836.3,169.1 1836.7,164.9 1837.1,166.2 1837.6,169.8 1838.0,174.6 1838.4,168.3 1838.9,167.7 1839.3,168.2 1839.7,170.5 1840.1,171.8 1840.6,169.1 1841.0,172.4 1841.4,170.4 1841.9,172.3 1842.3,172.0 1842.7,172.9 1843.2,174.1 1843.6,170.6 1844.0,170.9 1844.5,172.7 1844.9,174.2 1845.3,174.6 1845.7,171.8 1846.2,168.9 1846.6,179.3 1847.0,173.9 1847.5,171.4 1847.9,182.5 1848.3,171.2 1848.8,168.5 1849.2,176.4 1849.6,172.9 1850.1,173.8 1850.5,173.1 1850.9,172.6 1851.3,182.6 1851.8,178.6 1852.2,176.1 1852.6,180.5 1853.1,175.4 1853.5,176.7 1853.9,175.7 1854.4,172.7 1854.8,177.5 1855.2,170.8 1855.6,181.0 1856.1,180.2 1856.5,174.0 1856.9,175.3 1857.4,178.0 1857.8,179.3 1858.2,180.8 1858.7,181.9 1859.1,180.1 1859.5,183.0 1860.0,183.7 1860.4,178.2 1860.8,181.6 1861.2,175.2 1861.7,184.3 1862.1,175.8 1862.5,186.4 1863.0,187.5 1863.4,179.6 1863.8,185.4 1864.3,188.2 1864.7,181.7 1865.1,187.1 1865.5,177.4 1866.0,183.0 1866.4,185.6 1866.8,182.2 1867.3,183.9 1867.7,189.5 1868.1,184.2 1868.6,189.6 1869.0,184.2 1869.4,181.8 1869.9,184.8 1870.3,184.0 1870.7,181.1 1871.1,191.6 1871.6,189.5 1872.0,186.7 1872.4,190.6 1872.9,194.4 1873.3,186.4 1873.7,192.0 1874.2,183.6 1874.6,181.6 1875.0,186.9 1875.4,190.8 1875.9,190.7 1876.3,188.5 1876.7,194.2 1877.2,195.2 1877.6,187.3 1878.0,190.2 1878.5,194.0 1878.9,193.7 1879.3,192.8 1879.8,191.4 1880.2,195.2 1880.6,191.0 1881.0,197.1 1881.5,195.8 1881.9,199.1 1882.3,193.2 1882.8,191.0 1883.2,196.7 1883.6,195.3 1884.1,191.7 1884.5,194.2 1884.9,198.2 1885.3,194.7 1885.8,201.3 1886.2,194.9 1886.6,196.9 1887.1,198.8 1887.5,199.2 1887.9,203.5 1888.4,200.8 1888.8,196.8 1889.2,202.0 1889.7,197.4 1890.1,200.1 1890.5,198.9 1890.9,207.6 1891.4,198.8 1891.8,198.0 1892.2,201.8 1892.7,204.9 1893.1,201.6 1893.5,201.6 1894.0,199.3 1894.4,194.2 1894.8,205.5 1895.2,205.2 1895.7,207.1 1896.1,208.3 1896.5,195.9 1897.0,203.6 1897.4,210.7 1897.8,209.3 1898.3,205.4 1898.7,206.6 1899.1,198.2 1899.6,216.8 1900.0,206.3 1900.4,207.6 1900.8,213.6 1901.3,212.3 1901.7,211.0 1902.1,211.9 1902.6,214.3 1903.0,205.2 1903.4,208.1 1903.9,210.8 1904.3,210.8 1904.7,212.4 1905.1,208.7 1905.6,223.7 1906.0,208.4 1906.4,222.0 1906.9,220.7 1907.3,219.3 1907.7,222.2 1908.2,214.3 1908.6,216.1 1909.0,219.9 1909.5,225.1 1909.9,220.0 1910.3,219.5 1910.7,222.6 1911.2,219.8 1911.6,225.7 1912.0,222.7 1912.5,223.6 1912.9,217.6 1913.3,219.0 1913.8,232.2 1914.2,223.0 1914.6,232.7 1915.0,225.1 1915.5,229.5 1915.9,224.9 1916.3,227.4 1916.8,236.1 1917.2,229.1 1917.6,231.5 1918.1,225.8 1918.5,237.6 1918.9,232.2 1919.4,232.3 1919.8,226.8 1920.2,233.4 1920.6,230.8 1921.1,240.5 1921.5,231.6 1921.9,236.0 1922.4,236.0 1922.8,236.1 1923.2,234.7 1923.7,231.7 1924.1,233.2 1924.5,233.2 1924.9,245.3 1925.4,238.9 1925.8,239.7 1926.2,239.6 1926.7,237.0 1927.1,234.1 1927.5,244.4 1928.0,245.9 1928.4,241.3 1928.8,239.1 1929.3,236.0 1929.7,245.7 1930.1,238.6 1930.5,241.6 1931.0,251.9 1931.4,245.1 1931.8,247.1 1932.3,245.2 1932.7,245.9 1933.1,252.8 1933.6,247.0 1934.0,249.1 1934.4,252.9 1934.8,249.5 1935.3,250.1 1935.7,249.4 1936.1,252.7 1936.6,259.3 1937.0,255.5 1937.4,251.9 1937.9,253.2 1938.3,257.6 1938.7,269.9 1939.2,255.3 1939.6,254.4 1940.0,256.6 1940.4,255.8 1940.9,259.7 1941.3,262.6 1941.7,262.3 1942.2,255.8 1942.6,269.8 1943.0,258.2 1943.5,271.4 1943.9,270.8 1944.3,261.3 1944.7,273.3 1945.2,262.4 1945.6,267.3 1946.0,266.0 1946.5,267.4 1946.9,271.7 1947.3,269.3 1947.8,272.0 1948.2,278.0 1948.6,271.3 1949.1,269.2 1949.5,269.1 1949.9,273.8 1950.3,282.3 1950.8,279.4 1951.2,275.9 1951.6,273.2 1952.1,271.7 1952.5,279.2 1952.9,279.6 1953.4,276.5 1953.8,276.5 1954.2,278.1 1954.7,280.9 1955.1,280.8 1955.5,294.6 1955.9,290.7 1956.4,280.9 1956.8,295.9 1957.2,291.7 1957.7,286.3 1958.1,284.8 1958.5,288.3 1959.0,301.0 1959.4,288.4 1959.8,290.1 1960.2,285.5 1960.7,280.3 1961.1,296.9 1961.5,284.9 1962.0,287.1 1962.4,287.5 1962.8,295.5 1963.3,294.2 1963.7,297.7 1964.1,284.9 1964.6,299.1 1965.0,296.1 1965.4,293.8 1965.8,296.9 1966.3,309.6 1966.7,302.8 1967.1,312.1 1967.6,300.8 1968.0,300.9 1968.4,304.9 1968.9,299.3 1969.3,311.4 1969.7,302.3 1970.1,309.3 1970.6,303.1 1971.0,312.6 1971.4,302.7 1971.9,315.4 1972.3,306.8 1972.7,320.1 1973.2,304.7 1973.6,320.1 1974.0,312.7 1974.5,313.8 1974.9,312.2 1975.3,314.9 1975.7,313.3 1976.2,316.0 1976.6,324.0 1977.0,314.1 1977.5,311.0 1977.9,322.7 1978.3,306.8 1978.8,318.0 1979.2,312.4 1979.6,319.6 1980.0,319.6 1980.5,321.4 1980.9,317.1 1981.3,320.0 1981.8,325.5 1982.2,322.0 1982.6,325.2 1983.1,323.6 1983.5,314.0 1983.9,326.3 1984.4,320.1 1984.8,321.8 1985.2,316.3 1985.6,320.9 1986.1,339.2 1986.5,326.5 1986.9,327.8 1987.4,319.4 1987.8,331.7 1988.2,323.0 1988.7,318.6 1989.1,328.0 1989.5,330.3 1989.9,340.6 1990.4,338.2 1990.8,331.0 1991.2,344.6 1991.7,326.1 1992.1,338.8 1992.5,337.2 1993.0,330.6 1993.4,343.8 1993.8,344.7 1994.3,343.3 1994.7,337.4 1995.1,344.9 1995.5,343.5 1996.0,344.9 1996.4,346.1 1996.8,343.3 1997.3,352.2 1997.7,346.9 1998.1,344.4 1998.6,353.6 1999.0,351.5 1999.4,348.3 1999.8,365.7 2000.3,346.7 2000.7,354.0 2001.1,357.3 2001.6,354.4 2002.0,365.1"/>
<line class="d" stroke="#ff0000" stroke-opacity="0.75" x1="2002.0" y1="365.1" x2="2002.0" y2="371.6"/>
<polyline class="d" stroke="#0000ff" points="1593.5,100.0 1593.9,87.7 1594.4,87.2 1594.8,86.7 1595.2,86.3 1595.7,86.3 1596.1,86.2 1596.5,86.1 1596.9,86.1 1597.4,86.1 1597.8,86.0 1598.2,86.0 1598.7,86.0 1599.1,86.0 1599.5,86.0 1600.0,86.0 1600.4,86.0 1600.8,86.0 1601.2,86.0 1601.7,86.0 1602.1,86.0 1602.5,86.0 1603.0,85.9 1603.4,86.0 1603.8,86.0 1604.3,85.9 1604.7,86.0 1605.1,86.1 1605.6,86.0 1606.0,86.0 1606.4,85.9 1606.8,86.0 1607.3,85.9 1607.7,86.0 1608.1,86.0 1608.6,86.1 1609.0,85.9 1609.4,85.9 1609.9,85.9 1610.3,86.0 1610.7,86.0 1611.1,85.9 1611.6,86.1 1612.0,85.9 1612.4,85.9 1612.9,85.9 1613.3,86.0 1613.7,86.0 1614.2,85.8 1614.6,86.0 1615.0,85.9 1615.5,86.0 1615.9,86.2 1616.3,86.0 1616.7,86.2 1617.2,86.1 1617.6,86.2 1618.0,85.8 1618.5,85.9 1618.9,86.2 1619.3,86.1 1619.8,86.1 1620.2,86.0 1620.6,86.0 1621.0,86.0 1621.5,86.1 1621.9,85.9 1622.3,86.2 1622.8,86.1 1623.2,85.9 1623.6,85.8 1624.1,86.0 1624.5,85.9 1624.9,85.8 1625.4,85.7 1625.8,86.0 1626.2,86.2 1626.6,86.0 1627.1,86.0 1627.5,86.2 1627.9,86.3 1628.4,86.0 1628.8,85.8 1629.2,86.0 1629.7,85.8 1630.1,85.9 1630.5,86.2 1630.9,85.9 1631.4,86.0 1631.8,86.1 1632.2,85.9 1632.7,85.8 1633.1,86.3 1633.5,86.3 1634.0,86.3 1634.4,86.6 1634.8,86.2 1635.3,86.2 1635.7,85.8 1636.1,85.9 1636.5,85.9 1637.0,86.4 1637.4,86.1 1637.8,86.7 1638.3,86.6 1638.7,86.4 1639.1,86.4 1639.6,86.5 1640.0,86.5 1640.4,86.6 1640.8,86.9 1641.3,86.9 1641.7,86.6 1642.1,86.9 1642.6,86.9 1643.0,87.2 1643.4,87.0 1643.9,87.4 1644.3,87.1 1644.7,87.2 1645.2,87.3 1645.6,87.5 1646.0,86.8 1646.4,87.6 1646.9,87.5 1647.3,87.3 1647.7,87.2 1648.2,88.2 1648.6,87.5 1649.0,87.4 1649.5,87.1 1649.9,87.8 1650.3,87.9 1650.8,87.6 1651.2,88.0 1651.6,88.0 1652.0,87.8 1652.5,88.3 1652.9,87.8 1653.3,88.0 1653.8,88.2 1654.2,88.3 1654.6,88.5 1655.1,88.5 1655.5,89.2 1655.9,88.1 1656.3,88.0 1656.8,88.2 1657.2,88.6 1657.6,88.1 1658.1,88.9 1658.5,88.5 1658.9,88.6 1659.4,89.0 1659.8,88.8 1660.2,89.4 1660.7,88.9 1661.1,89.2 1661.5,88.1 1661.9,89.0 1662.4,89.2 1662.8,89.1 1663.2,89.0 1663.7,88.7 1664.1,89.1 1664.5,89.7 1665.0,88.6 1665.4,88.8 1665.8,90.3 1666.2,88.7 1666.7,89.3 1667.1,90.3 1667.5,89.3 1668.0,89.0 1668.4,89.8 1668.8,89.4 1669.3,89.8 1669.7,89.8 1670.1,89.9 1670.6,89.7 1671.0,89.8 1671.4,89.8 1671.8,89.8 1672.3,90.0 1672.7,90.6 1673.1,90.1 1673.6,90.7 1674.0,90.1 1674.4,89.7 1674.9,89.3 1675.3,90.4 1675.7,91.2 1676.1,92.2 1676.6,91.7 1677.0,92.0 1677.4,91.5 1677.9,92.5 1678.3,91.4 1678.7,91.7 1679.2,91.3 1679.6,91.3 1680.0,92.8 1680.5,92.6 1680.9,91.3 1681.3,92.6 1681.7,92.9 1682.2,93.5 1682.6,92.7 1683.0,94.2 1683.5,93.7 1683.9,93.9 1684.3,94.1 1684.8,93.6 1685.2,93.6 1685.6,93.9 1686.0,94.0 1686.5,94.9 1686.9,94.7 1687.3,94.5 1687.8,95.4 1688.2,95.1 1688.6,94.4 1689.1,95.8 1689.5,95.3 1689.9,95.3 1690.4,95.7 1690.8,96.1 1691.2,96.3 1691.6,96.1 1692.1,96.4 1692.5,95.9 1692.9,97.0 1693.4,98.4 1693.8,97.0 1694.2,97.5 1694.7,97.7 1695.1,97.1 1695.5,98.4 1695.9,98.9 1696.4,98.4 1696.8,96.9 1697.2,97.6 1697.7,99.9 1698.1,98.7 1698.5,99.5 1699.0,99.7 1699.4,99.1 1699.8,100.0 1700.3,99.1 1700.7,99.3 1701.1,99.2 1701.5,99.1 1702.0,99.9 1702.4,100.9 1702.8,99.7 1703.3,100.6 1703.7,100.3 1704.1,100.4 1704.6,100.0 1705.0,101.2 1705.4,102.8 1705.8,102.7 1706.3,101.5 1706.7,102.7 1707.1,103.6 1707.6,102.3 1708.0,102.7 1708.4,103.1 1708.9,103.5 1709.3,104.0 1709.7,101.7 1710.2,102.9 1710.6,104.2 1711.0,104.7 1711.4,102.7 1711.9,104.5 1712.3,103.8 1712.7,104.0 1713.2,103.4 1713.6,104.6 1714.0,104.1 1714.5,105.2 1714.9,103.3 1715.3,103.9 1715.7,105.9 1716.2,105.5 1716.6,105.5 1717.0,106.9 1717.5,105.9 1717.9,107.5 1718.3,106.7 1718.8,107.1 1719.2,107.3 1719.6,108.0 1720.1,107.4 1720.5,107.0 1720.9,107.6 1721.3,108.4 1721.8,107.3 1722.2,107.9 1722.6,107.9 1723.1,108.5 1723.5,109.4 1723.9,109.2 1724.4,110.9 1724.8,109.8 1725.2,110.7 1725.6,109.1 1726.1,111.6 1726.5,113.2 1726.9,110.2 1727.4,111.2 1727.8,112.2 1728.2,111.8 1728.7,111.4 1729.1,110.0 1729.5,113.1 1730.0,110.9 1730.4,114.0 1730.8,113.4 1731.2,113.6 1731.7,113.6 1732.1,113.5 1732.5,114.4 1733.0,113.3 1733.4,116.3 1733.8,113.8 1734.3,113.4 1734.7,114.4 1735.1,114.6 1735.5,114.9 1736.0,115.6 1736.4,116.6 1736.8,117.4 1737.3,116.0 1737.7,117.0 1738.1,115.5 1738.6,117.2 1739.0,118.4 1739.4,117.0 1739.9,116.7 1740.3,116.5 1740.7,118.5 1741.1,120.5 1741.6,117.6 1742.0,117.0 1742.4,117.0 1742.9,122.6 1743.3,117.7 1743.7,119.6 1744.2,121.1 1744.6,121.7 1745.0,119.3 1745.4,120.7 1745.9,120.4 1746.3,121.3 1746.7,122.4 1747.2,119.8 1747.6,121.2 1748.0,120.9 1748.5,121.8 1748.9,119.6 1749.3,125.6 1749.8,122.5 1750.2,123.9 1750.6,123.4 1751.0,123.4 1751.5,124.5 1751.9,122.9 1752.3,126.3 1752.8,126.4 1753.2,125.7 1753.6,124.0 1754.1,125.9 1754.5,124.9 1754.9,125.4 1755.4,125.3 1755.8,129.5 1756.2,128.5 1756.6,128.2 1757.1,127.0 1757.5,126.0 1757.9,127.3 1758.4,126.7 1758.8,127.4 1759.2,129.3 1759.7,128.1 1760.1,127.0 1760.5,130.8 1760.9,128.1 1761.4,129.5 1761.8,132.1 1762.2,127.8 1762.7,129.7 1763.1,133.5 1763.5,126.3 1764.0,130.4 1764.4,129.5 1764.8,130.8 1765.3,134.1 1765.7,131.4 1766.1,132.9 1766.5,131.3 1767.0,132.5 1767.4,135.0 1767.8,131.3 1768.3,130.4 1768.7,132.6 1769.1,133.3 1769.6,135.0 1770.0,132.6 1770.4,129.6 1770.8,130.9 1771.3,135.6 1771.7,133.3 1772.1,135.6 1772.6,135.9 1773.0,135.0 1773.4,132.6 1773.9,134.4 1774.3,136.0 1774.7,133.9 1775.2,132.8 1775.6,139.0 1776.0,137.4 1776.4,139.6 1776.9,137.9 1777.3,136.6 1777.7,139.8 1778.2,138.5 1778.6,138.6 1779.0,136.8 1779.5,137.8 1779.9,140.1 1780.3,137.9 1780.7,139.2 1781.2,136.1 1781.6,138.2 1782.0,138.0 1782.5,145.9 1782.9,142.4 1783.3,141.7 1783.8,139.4 1784.2,139.4 1784.6,142.4 1785.1,144.5 1785.5,143.7 1785.9,142.6 1786.3,135.2 1786.8,139.6 1787.2,137.7 1787.6,138.4 1788.1,135.8 1788.5,144.8 1788.9,141.3 1789.4,140.7 1789.8,139.4 1790.2,141.7 1790.6,137.5 1791.1,136.2 1791.5,143.6 1791.9,145.5 1792.4,144.8 1792.8,149.6 1793.2,144.9 1793.7,141.8 1794.1,141.4 1794.5,142.8 1795.0,143.6 1795.4,141.1 1795.8,139.8 1796.2,141.8 1796.7,143.5 1797.1,138.8 1797.5,145.8 1798.0,143.7 1798.4,140.1 1798.8,145.5 1799.3,144.0 1799.7,142.1 1800.1,141.6 1800.5,144.4 1801.0,145.3 1801.4,141.9 1801.8,143.4 1802.3,141.8 1802.7,142.5 1803.1,141.7 1803.6,147.5 1804.0,145.5 1804.4,144.2 1804.9,151.8 1805.3,142.8 1805.7,147.9 1806.1,147.8 1806.6,143.5 1807.0,146.2 1807.4,144.0 1807.9,143.9 1808.3,142.7 1808.7,142.7 1809.2,143.8 1809.6,144.9 1810.0,145.8 1810.4,149.1 1810.9,144.5 1811.3,152.4 1811.7,152.5 1812.2,146.7 1812.6,141.9 1813.0,147.2 1813.5,144.6 1813.9,144.4 1814.3,152.0 1814.8,152.5 1815.2,144.2 1815.6,146.0 1816.0,144.6 1816.5,144.2 1816.9,141.3 1817.3,138.5 1817.8,141.1 1818.2,143.1 1818.6,147.8 1819.1,147.7 1819.5,146.9 1819.9,138.5 1820.3,145.1 1820.8,140.8 1821.2,147.8 1821.6,138.6 1822.1,148.8 1822.5,146.4 1822.9,142.1 1823.4,144.7 1823.8,145.2 1824.2,149.5 1824.7,153.3 1825.1,151.7 1825.5,145.2 1825.9,151.6 1826.4,145.7 1826.8,147.0 1827.2,147.6 1827.7,142.9 1828.1,147.6 1828.5,142.7 1829.0,144.5 1829.4,140.5 1829.8,143.5 1830.2,145.4 1830.7,142.6 1831.1,145.4 1831.5,149.4 1832.0,145.7 1832.4,145.8 1832.8,144.8 1833.3,144.8 1833.7,150.1 1834.1,149.8 1834.6,154.3 1835.0,149.5 1835.4,148.5 1835.8,144.5 1836.3,150.3 1836.7,143.8 1837.1,146.3 1837.6,146.4 1838.0,147.1 1838.4,142.7 1838.9,143.5 1839.3,151.3 1839.7,148.7 1840.1,149.8 1840.6,142.0 1841.0,147.8 1841.4,150.2 1841.9,150.5 1842.3,144.7 1842.7,146.3 1843.2,149.6 1843.6,148.0 1844.0,146.0 1844.5,150.2 1844.9,147.3 1845.3,146.8 1845.7,150.2 1846.2,149.8 1846.6,145.4 1847.0,151.9 1847.5,148.4 1847.9,152.7 1848.3,146.1 1848.8,145.4 1849.2,149.7 1849.6,146.8 1850.1,146.9 1850.5,148.2 1850.9,146.7 1851.3,145.9 1851.8,150.0 1852.2,148.6 1852.6,147.1 1853.1,147.0 1853.5,147.6 1853.9,147.3 1854.4,147.4 1854.8,142.2 1855.2,147.1 1855.6,145.9 1856.1,154.0 1856.5,151.7 1856.9,147.9 1857.4,156.0 1857.8,149.6 1858.2,148.6 1858.7,149.6 1859.1,153.3 1859.5,145.2 1860.0,144.6 1860.4,149.1 1860.8,145.6 1861.2,150.8 1861.7,148.4 1862.1,154.4 1862.5,151.2 1863.0,145.8 1863.4,146.8 1863.8,144.8 1864.3,145.0 1864.7,148.9 1865.1,148.0 1865.5,151.6 1866.0,148.1 1866.4,148.8 1866.8,144.7 1867.3,149.0 1867.7,143.4 1868.1,153.6 1868.6,149.3 1869.0,148.8 1869.4,149.3 1869.9,148.9 1870.3,144.8 1870.7,148.8 1871.1,148.6 1871.6,150.0 1872.0,147.2 1872.4,152.4 1872.9,147.4 1873.3,147.1 1873.7,151.8 1874.2,150.3 1874.6,149.5 1875.0,151.6 1875.4,156.3 1875.9,148.4 1876.3,148.9 1876.7,150.1 1877.2,152.3 1877.6,150.6 1878.0,159.3 1878.5,156.8 1878.9,153.0 1879.3,155.6 1879.8,151.6 1880.2,147.9 1880.6,149.3 1881.0,152.2 1881.5,147.2 1881.9,157.5 1882.3,149.5 1882.8,152.1 1883.2,145.9 1883.6,148.5 1884.1,152.1 1884.5,157.2 1884.9,158.1 1885.3,149.9 1885.8,148.9 1886.2,155.2 1886.6,151.0 1887.1,149.9 1887.5,155.6 1887.9,154.5 1888.4,147.0 1888.8,155.6 1889.2,153.3 1889.7,156.1 1890.1,149.4 1890.5,158.7 1890.9,152.7 1891.4,153.9 1891.8,161.8 1892.2,156.6 1892.7,148.5 1893.1,157.5 1893.5,149.4 1894.0,151.5 1894.4,153.6 1894.8,149.7 1895.2,153.9 1895.7,156.3 1896.1,156.6 1896.5,155.8 1897.0,156.4 1897.4,159.0 1897.8,152.0 1898.3,151.3 1898.7,158.2 1899.1,161.0 1899.6,151.4 1900.0,154.6 1900.4,157.0 1900.8,150.4 1901.3,152.7 1901.7,153.4 1902.1,154.0 1902.6,154.4 1903.0,156.2 1903.4,151.1 1903.9,152.5 1904.3,154.6 1904.7,153.0 1905.1,156.2 1905.6,154.5 1906.0,154.7 1906.4,164.4 1906.9,164.6 1907.3,152.8 1907.7,160.1 1908.2,156.6 1908.6,157.2 1909.0,158.6 1909.5,160.1 1909.9,155.6 1910.3,153.2 1910.7,163.9 1911.2,155.4 1911.6,158.8 1912.0,158.4 1912.5,151.7 1912.9,159.4 1913.3,154.5 1913.8,151.5 1914.2,162.4 1914.6,154.7 1915.0,159.9 1915.5,153.6 1915.9,158.2 1916.3,158.9 1916.8,160.0 1917.2,155.9 1917.6,158.6 1918.1,149.3 1918.5,161.8 1918.9,155.1 1919.4,154.0 1919.8,157.9 1920.2,156.2 1920.6,155.9 1921.1,160.6 1921.5,154.7 1921.9,150.5 1922.4,164.6 1922.8,167.3 1923.2,156.7 1923.7,153.7 1924.1,155.1 1924.5,160.4 1924.9,158.8 1925.4,152.5 1925.8,158.1 1926.2,158.8 1926.7,150.6 1927.1,158.1 1927.5,161.0 1928.0,157.7 1928.4,165.3 1928.8,161.5 1929.3,160.0 1929.7,167.2 1930.1,162.4 1930.5,154.1 1931.0,162.8 1931.4,164.3 1931.8,155.8 1932.3,162.9 1932.7,155.0 1933.1,159.6 1933.6,158.8 1934.0,162.8 1934.4,157.9 1934.8,156.7 1935.3,162.0 1935.7,152.7 1936.1,160.5 1936.6,159.7 1937.0,158.7 1937.4,155.6 1937.9,157.1 1938.3,160.3 1938.7,158.1 1939.2,158.3 1939.6,169.7 1940.0,157.0 1940.4,159.3 1940.9,160.2 1941.3,159.4 1941.7,159.1 1942.2,161.0 1942.6,167.0 1943.0,169.7 1943.5,164.8 1943.9,164.4 1944.3,168.3 1944.7,161.3 1945.2,162.2 1945.6,156.1 1946.0,162.9 1946.5,155.8 1946.9,156.5 1947.3,165.4 1947.8,161.4 1948.2,161.6 1948.6,153.8 1949.1,157.2 1949.5,158.2 1949.9,159.4 1950.3,156.1 1950.8,159.6 1951.2,170.2 1951.6,162.3 1952.1,166.3 1952.5,163.6 1952.9,160.0 1953.4,161.3 1953.8,163.5 1954.2,161.4 1954.7,160.8 1955.1,161.5 1955.5,161.7 1955.9,163.7 1956.4,164.0 1956.8,163.4 1957.2,164.6 1957.7,159.7 1958.1,159.8 1958.5,167.5 1959.0,164.0 1959.4,165.7 1959.8,162.3 1960.2,163.5 1960.7,161.9 1961.1,168.9 1961.5,166.0 1962.0,161.2 1962.4,169.7 1962.8,161.5 1963.3,166.7 1963.7,170.1 1964.1,165.0 1964.6,164.7 1965.0,170.0 1965.4,161.2 1965.8,170.2 1966.3,163.5 1966.7,164.8 1967.1,175.4 1967.6,175.5 1968.0,169.2 1968.4,161.8 1968.9,163.2 1969.3,161.6 1969.7,161.9 1970.1,167.2 1970.6,165.9 1971.0,169.0 1971.4,158.8 1971.9,175.9 1972.3,161.3 1972.7,164.4 1973.2,167.0 1973.6,165.4 1974.0,166.1 1974.5,170.3 1974.9,177.0 1975.3,164.3 1975.7,162.5 1976.2,161.2 1976.6,166.1 1977.0,168.7 1977.5,166.8 1977.9,164.8 1978.3,166.2 1978.8,162.5 1979.2,164.1 1979.6,169.0 1980.0,165.6 1980.5,166.6 1980.9,170.2 1981.3,168.1 1981.8,166.4 1982.2,170.2 1982.6,166.1 1983.1,166.2 1983.5,169.9 1983.9,175.2 1984.4,179.0 1984.8,169.5 1985.2,175.2 1985.6,168.1 1986.1,165.5 1986.5,172.2 1986.9,162.9 1987.4,168.7 1987.8,166.6 1988.2,174.2 1988.7,166.3 1989.1,169.4 1989.5,174.7 1989.9,170.6 1990.4,168.3 1990.8,172.8 1991.2,175.5 1991.7,175.2 1992.1,174.8 1992.5,178.7 1993.0,163.6 1993.4,172.3 1993.8,169.4 1994.3,171.8 1994.7,171.2 1995.1,163.2 1995.5,176.7 1996.0,167.1 1996.4,170.8 1996.8,174.5 1997.3,172.2 1997.7,170.8 1998.1,170.8 1998.6,171.5 1999.0,172.1 1999.4,169.6 1999.8,176.0 2000.3,179.7 2000.7,170.7 2001.1,168.7 2001.6,165.3 2002.0,172.4"/>
<line class="d" stroke="#0000ff" stroke-opacity="0.75" x1="2002.0" y1="172.4" x2="2002.0" y2="176.0"/>
<polyline class="d" stroke="#ff00ff" points="1593.5,93.0 1593.9,85.3 1594.4,85.3 1594.8,85.3 1595.2,85.3 1595.7,85.3 1596.1,85.3 1596.5,85.3 1596.9,85.3 1597.4,85.3 1597.8,85.3 1598.2,85.3 1598.7,85.3 1599.1,85.3 1599.5,85.3 1600.0,85.3 1600.4,85.3 1600.8,85.3 1601.2,85.3 1601.7,85.3 1602.1,85.3 1602.5,85.3 1603.0,85.3 1603.4,85.3 1603.8,85.3 1604.3,85.3 1604.7,85.3 1605.1,85.3 1605.6,85.3 1606.0,85.3 1606.4,85.3 1606.8,85.3 1607.3,85.3 1607.7,85.3 1608.1,85.3 1608.6,85.3 1609.0,85.3 1609.4,85.3 1609.9,85.3 1610.3,85.3 1610.7,85.3 1611.1,85.3 1611.6,85.3 1612.0,85.3 1612.4,85.3 1612.9,85.3 1613.3,85.3 1613.7,85.3 1614.2,85.3 1614.6,85.3 1615.0,85.3 1615.5,85.3 1615.9,85.3 1616.3,85.3 1616.7,85.3 1617.2,85.4 1617.6,85.3 1618.0,85.3 1618.5,85.3 1618.9,85.3 1619.3,85.3 1619.8,85.3 1620.2,85.3 1620.6,85.3 1621.0,85.3 1621.5,85.3 1621.9,85.3 1622.3,85.3 1622.8,85.3 1623.2,85.3 1623.6,85.4 1624.1,85.3 1624.5,85.3 1624.9,85.3 1625.4,85.2 1625.8,85.3 1626.2,85.3 1626.6,85.3 1627.1,85.3 1627.5,85.2 1627.9,85.3 1628.4,85.3 1628.8,85.3 1629.2,85.3 1629.7,85.3 1630.1,85.3 1630.5,85.3 1630.9,85.4 1631.4,85.3 1631.8,85.4 1632.2,85.3 1632.7,85.2 1633.1,85.3 1633.5,85.3 1634.0,85.3 1634.4,85.3 1634.8,85.4 1635.3,85.3 1635.7,85.3 1636.1,85.3 1636.5,85.3 1637.0,85.3 1637.4,85.4 1637.8,85.4 1638.3,85.3 1638.7,85.3 1639.1,85.3 1639.6,85.4 1640.0,85.4 1640.4,85.2 1640.8,85.2 1641.3,85.3 1641.7,85.4 1642.1,85.3 1642.6,85.1 1643.0,85.2 1643.4,85.2 1643.9,85.3 1644.3,85.3 1644.7,85.4 1645.2,85.2 1645.6,85.3 1646.0,85.4 1646.4,85.3 1646.9,85.4 1647.3,85.2 1647.7,85.3 1648.2,85.4 1648.6,85.5 1649.0,85.5 1649.5,85.4 1649.9,85.3 1650.3,85.4 1650.8,85.4 1651.2,85.3 1651.6,85.2 1652.0,85.4 1652.5,85.4 1652.9,85.3 1653.3,85.3 1653.8,85.4 1654.2,85.8 1654.6,85.6 1655.1,85.5 1655.5,85.7 1655.9,85.7 1656.3,85.8 1656.8,85.6 1657.2,85.6 1657.6,85.9 1658.1,86.0 1658.5,86.2 1658.9,86.2 1659.4,86.0 1659.8,86.2 1660.2,86.1 1660.7,86.2 1661.1,86.2 1661.5,86.2 1661.9,86.6 1662.4,86.4 1662.8,86.6 1663.2,86.8 1663.7,86.6 1664.1,86.5 1664.5,86.7 1665.0,86.5 1665.4,86.5 1665.8,87.0 1666.2,87.1 1666.7,87.5 1667.1,87.5 1667.5,87.3 1668.0,87.3 1668.4,87.4 1668.8,87.0 1669.3,87.2 1669.7,87.1 1670.1,87.8 1670.6,87.5 1671.0,87.6 1671.4,87.5 1671.8,87.8 1672.3,87.6 1672.7,87.8 1673.1,87.8 1673.6,88.2 1674.0,88.2 1674.4,87.6 1674.9,88.1 1675.3,88.7 1675.7,88.2 1676.1,88.1 1676.6,89.0 1677.0,89.0 1677.4,88.9 1677.9,89.2 1678.3,89.3 1678.7,89.7 1679.2,90.0 1679.6,89.6 1680.0,89.4 1680.5,90.4 1680.9,90.2 1681.3,90.1 1681.7,91.0 1682.2,91.2 1682.6,91.3 1683.0,90.9 1683.5,91.1 1683.9,91.2 1684.3,91.1 1684.8,91.0 1685.2,91.5 1685.6,91.9 1686.0,92.0 1686.5,91.6 1686.9,92.1 1687.3,93.0 1687.8,92.5 1688.2,91.9 1688.6,92.2 1689.1,93.0 1689.5,92.7 1689.9,93.4 1690.4,93.2 1690.8,92.9 1691.2,94.3 1691.6,93.8 1692.1,93.8 1692.5,95.2 1692.9,94.1 1693.4,94.8 1693.8,95.0 1694.2,95.5 1694.7,94.4 1695.1,95.9 1695.5,95.4 1695.9,95.3 1696.4,95.4 1696.8,95.0 1697.2,96.1 1697.7,95.7 1698.1,96.1 1698.5,97.0 1699.0,96.5 1699.4,96.8 1699.8,96.9 1700.3,96.5 1700.7,96.6 1701.1,96.8 1701.5,97.9 1702.0,97.3 1702.4,96.5 1702.8,97.4 1703.3,97.9 1703.7,97.7 1704.1,97.5 1704.6,97.8 1705.0,99.0 1705.4,99.1 1705.8,98.6 1706.3,98.5 1706.7,100.3 1707.1,100.4 1707.6,99.2 1708.0,99.5 1708.4,99.5 1708.9,100.6 1709.3,100.1 1709.7,100.8 1710.2,100.6 1710.6,100.9 1711.0,100.6 1711.4,100.4 1711.9,101.1 1712.3,99.9 1712.7,100.7 1713.2,100.8 1713.6,102.1 1714.0,102.4 1714.5,100.8 1714.9,102.6 1715.3,102.8 1715.7,103.0 1716.2,103.3 1716.6,102.7 1717.0,103.2 1717.5,102.9 1717.9,102.9 1718.3,103.1 1718.8,103.1 1719.2,105.5 1719.6,104.5 1720.1,105.7 1720.5,103.4 1720.9,105.6 1721.3,104.8 1721.8,105.5 1722.2,103.9 1722.6,104.8 1723.1,106.1 1723.5,106.7 1723.9,106.6 1724.4,106.8 1724.8,107.6 1725.2,108.7 1725.6,105.8 1726.1,107.4 1726.5,108.1 1726.9,106.9 1727.4,107.4 1727.8,107.4 1728.2,106.9 1728.7,107.6 1729.1,107.7 1729.5,108.4 1730.0,107.2 1730.4,108.1 1730.8,108.5 1731.2,107.2 1731.7,109.3 1732.1,109.6 1732.5,111.4 1733.0,109.7 1733.4,109.9 1733.8,110.4 1734.3,110.9 1734.7,112.2 1735.1,111.9 1735.5,111.0 1736.0,112.3 1736.4,112.5 1736.8,113.8 1737.3,113.4 1737.7,112.9 1738.1,113.3 1738.6,113.1 1739.0,113.1 1739.4,114.3 1739.9,113.1 1740.3,115.8 1740.7,113.5 1741.1,114.8 1741.6,115.2 1742.0,116.8 1742.4,114.3 1742.9,114.7 1743.3,116.4 1743.7,117.2 1744.2,113.8 1744.6,113.9 1745.0,115.9 1745.4,114.5 1745.9,118.0 1746.3,116.0 1746.7,115.6 1747.2,117.8 1747.6,118.9 1748.0,118.1 1748.5,115.0 1748.9,116.3 1749.3,118.5 1749.8,117.2 1750.2,117.9 1750.6,116.4 1751.0,119.5 1751.5,120.8 1751.9,121.0 1752.3,118.9 1752.8,119.4 1753.2,121.0 1753.6,117.9 1754.1,118.2 1754.5,118.7 1754.9,119.8 1755.4,121.2 1755.8,119.6 1756.2,121.0 1756.6,119.7 1757.1,122.1 1757.5,124.2 1757.9,120.6 1758.4,120.4 1758.8,121.0 1759.2,122.3 1759.7,124.0 1760.1,123.5 1760.5,122.0 1760.9,123.8 1761.4,128.1 1761.8,128.4 1762.2,123.7 1762.7,128.9 1763.1,125.9 1763.5,123.9 1764.0,123.5 1764.4,129.5 1764.8,127.1 1765.3,130.5 1765.7,125.8 1766.1,125.0 1766.5,126.7 1767.0,123.4 1767.4,130.3 1767.8,128.6 1768.3,128.9 1768.7,127.9 1769.1,129.4 1769.6,127.7 1770.0,129.3 1770.4,133.8 1770.8,127.2 1771.3,129.0 1771.7,126.6 1772.1,128.8 1772.6,129.9 1773.0,130.7 1773.4,127.7 1773.9,133.2 1774.3,136.2 1774.7,131.7 1775.2,131.4 1775.6,130.7 1776.0,130.9 1776.4,133.3 1776.9,134.8 1777.3,133.6 1777.7,131.5 1778.2,128.5 1778.6,135.9 1779.0,130.1 1779.5,132.7 1779.9,133.4 1780.3,131.4 1780.7,134.9 1781.2,135.8 1781.6,132.6 1782.0,134.6 1782.5,131.3 1782.9,135.8 1783.3,132.7 1783.8,133.0 1784.2,135.3 1784.6,134.9 1785.1,134.9 1785.5,140.2 1785.9,133.7 1786.3,133.8 1786.8,136.6 1787.2,134.7 1787.6,133.1 1788.1,134.3 1788.5,133.2 1788.9,133.7 1789.4,142.0 1789.8,138.7 1790.2,135.2 1790.6,136.0 1791.1,136.6 1791.5,134.5 1791.9,133.2 1792.4,138.2 1792.8,132.2 1793.2,135.0 1793.7,133.9 1794.1,131.3 1794.5,137.7 1795.0,139.8 1795.4,135.3 1795.8,138.5 1796.2,139.7 1796.7,135.8 1797.1,137.0 1797.5,135.3 1798.0,138.5 1798.4,137.7 1798.8,136.1 1799.3,135.2 1799.7,135.4 1800.1,135.0 1800.5,140.6 1801.0,140.2 1801.4,140.9 1801.8,135.6 1802.3,139.8 1802.7,138.3 1803.1,143.1 1803.6,135.0 1804.0,135.7 1804.4,142.6 1804.9,137.1 1805.3,138.1 1805.7,133.0 1806.1,136.8 1806.6,135.9 1807.0,140.6 1807.4,137.3 1807.9,138.2 1808.3,140.2 1808.7,136.7 1809.2,136.1 1809.6,136.5 1810.0,136.7 1810.4,135.2 1810.9,139.0 1811.3,138.2 1811.7,139.4 1812.2,138.7 1812.6,137.8 1813.0,137.5 1813.5,140.0 1813.9,137.6 1814.3,138.5 1814.8,137.9 1815.2,134.6 1815.6,137.2 1816.0,138.2 1816.5,136.9 1816.9,144.8 1817.3,139.2 1817.8,137.7 1818.2,144.0 1818.6,141.1 1819.1,137.8 1819.5,138.1 1819.9,135.0 1820.3,141.2 1820.8,141.4 1821.2,142.9 1821.6,134.1 1822.1,137.2 1822.5,138.0 1822.9,137.1 1823.4,137.7 1823.8,136.9 1824.2,135.3 1824.7,138.7 1825.1,145.2 1825.5,142.6 1825.9,135.8 1826.4,133.8 1826.8,143.0 1827.2,135.1 1827.7,138.9 1828.1,141.7 1828.5,138.6 1829.0,136.9 1829.4,141.6 1829.8,136.2 1830.2,147.1 1830.7,139.5 1831.1,142.3 1831.5,138.9 1832.0,133.1 1832.4,143.0 1832.8,136.6 1833.3,139.3 1833.7,139.8 1834.1,136.4 1834.6,136.4 1835.0,138.8 1835.4,143.8 1835.8,142.8 1836.3,143.0 1836.7,140.6 1837.1,137.2 1837.6,142.1 1838.0,136.7 1838.4,139.4 1838.9,141.6 1839.3,143.5 1839.7,139.5 1840.1,139.0 1840.6,139.9 1841.0,141.1 1841.4,139.3 1841.9,137.3 1842.3,138.5 1842.7,138.6 1843.2,140.9 1843.6,139.2 1844.0,136.9 1844.5,138.8 1844.9,140.0 1845.3,139.7 1845.7,138.4 1846.2,146.7 1846.6,141.3 1847.0,140.3 1847.5,134.1 1847.9,138.3 1848.3,146.4 1848.8,140.2 1849.2,139.9 1849.6,143.9 1850.1,141.6 1850.5,142.8 1850.9,138.5 1851.3,144.8 1851.8,142.6 1852.2,140.7 1852.6,145.3 1853.1,143.7 1853.5,138.9 1853.9,137.2 1854.4,140.0 1854.8,138.8 1855.2,140.3 1855.6,143.2 1856.1,140.9 1856.5,145.7 1856.9,140.9 1857.4,141.8 1857.8,143.1 1858.2,141.0 1858.7,139.7 1859.1,144.2 1859.5,143.0 1860.0,145.7 1860.4,142.3 1860.8,142.0 1861.2,139.2 1861.7,139.4 1862.1,139.2 1862.5,140.0 1863.0,142.3 1863.4,146.1 1863.8,142.7 1864.3,143.5 1864.7,139.8 1865.1,142.1 1865.5,146.5 1866.0,143.2 1866.4,140.2 1866.8,136.8 1867.3,150.3 1867.7,138.1 1868.1,143.6 1868.6,144.6 1869.0,148.8 1869.4,135.5 1869.9,139.5 1870.3,143.9 1870.7,142.0 1871.1,140.7 1871.6,140.7 1872.0,145.3 1872.4,144.0 1872.9,140.9 1873.3,140.1 1873.7,145.5 1874.2,139.7 1874.6,145.6 1875.0,145.6 1875.4,144.2 1875.9,145.5 1876.3,144.2 1876.7,137.4 1877.2,141.8 1877.6,141.4 1878.0,138.7 1878.5,139.6 1878.9,141.2 1879.3,143.9 1879.8,141.7 1880.2,143.4 1880.6,146.0 1881.0,146.0 1881.5,142.7 1881.9,145.0 1882.3,141.8 1882.8,144.4 1883.2,141.5 1883.6,144.0 1884.1,143.1 1884.5,141.3 1884.9,149.7 1885.3,140.9 1885.8,141.7 1886.2,143.3 1886.6,143.8 1887.1,144.6 1887.5,150.4 1887.9,143.8 1888.4,137.9 1888.8,148.1 1889.2,151.1 1889.7,150.9 1890.1,140.9 1890.5,144.2 1890.9,143.8 1891.4,145.4 1891.8,147.5 1892.2,141.2 1892.7,139.7 1893.1,145.8 1893.5,143.0 1894.0,144.1 1894.4,143.9 1894.8,148.6 1895.2,147.5 1895.7,143.3 1896.1,146.9 1896.5,145.0 1897.0,141.6 1897.4,145.3 1897.8,140.2 1898.3,144.7 1898.7,145.2 1899.1,154.2 1899.6,145.6 1900.0,147.1 1900.4,140.1 1900.8,144.1 1901.3,145.5 1901.7,148.2 1902.1,145.9 1902.6,149.6 1903.0,145.8 1903.4,148.6 1903.9,145.6 1904.3,149.2 1904.7,149.6 1905.1,149.5 1905.6,146.1 1906.0,145.7 1906.4,147.3 1906.9,149.9 1907.3,145.3 1907.7,145.4 1908.2,149.5 1908.6,147.9 1909.0,148.9 1909.5,146.5 1909.9,144.1 1910.3,151.2 1910.7,140.1 1911.2,145.5 1911.6,147.6 1912.0,146.1 1912.5,147.5 1912.9,147.4 1913.3,149.2 1913.8,147.5 1914.2,150.7 1914.6,148.9 1915.0,144.5 1915.5,148.4 1915.9,153.1 1916.3,146.3 1916.8,149.0 1917.2,141.1 1917.6,142.9 1918.1,144.8 1918.5,151.2 1918.9,146.7 1919.4,150.3 1919.8,156.9 1920.2,153.1 1920.6,149.8 1921.1,146.8 1921.5,147.8 1921.9,153.9 1922.4,147.5 1922.8,146.3 1923.2,152.8 1923.7,152.5 1924.1,147.0 1924.5,148.6 1924.9,144.7 1925.4,151.1 1925.8,145.5 1926.2,154.1 1926.7,148.4 1927.1,146.3 1927.5,152.0 1928.0,149.8 1928.4,146.6 1928.8,143.9 1929.3,146.0 1929.7,152.4 1930.1,145.3 1930.5,148.0 1931.0,151.5 1931.4,153.3 1931.8,147.2 1932.3,149.4 1932.7,148.6 1933.1,144.4 1933.6,149.0 1934.0,149.3 1934.4,148.8 1934.8,152.2 1935.3,142.4 1935.7,148.2 1936.1,148.1 1936.6,148.2 1937.0,148.1 1937.4,143.2 1937.9,150.3 1938.3,152.0 1938.7,155.1 1939.2,153.1 1939.6,150.0 1940.0,148.7 1940.4,152.7 1940.9,148.5 1941.3,153.0 1941.7,156.7 1942.2,153.5 1942.6,147.1 1943.0,146.9 1943.5,153.9 1943.9,142.4 1944.3,157.0 1944.7,156.0 1945.2,147.7 1945.6,147.8 1946.0,143.6 1946.5,149.9 1946.9,145.8 1947.3,149.0 1947.8,144.7 1948.2,148.2 1948.6,151.0 1949.1,155.2 1949.5,146.4 1949.9,152.0 1950.3,145.7 1950.8,145.5 1951.2,156.9 1951.6,151.6 1952.1,146.4 1952.5,147.8 1952.9,151.6 1953.4,149.1 1953.8,154.0 1954.2,149.2 1954.7,152.9 1955.1,152.2 1955.5,146.3 1955.9,149.9 1956.4,151.6 1956.8,146.9 1957.2,159.9 1957.7,149.5 1958.1,150.1 1958.5,149.0 1959.0,151.7 1959.4,153.9 1959.8,152.6 1960.2,160.4 1960.7,156.5 1961.1,155.0 1961.5,153.7 1962.0,148.4 1962.4,153.9 1962.8,153.8 1963.3,154.4 1963.7,157.6 1964.1,151.7 1964.6,152.2 1965.0,152.9 1965.4,149.7 1965.8,147.3 1966.3,151.2 1966.7,153.7 1967.1,153.1 1967.6,152.5 1968.0,148.8 1968.4,154.3 1968.9,148.1 1969.3,154.5 1969.7,157.8 1970.1,158.4 1970.6,162.9 1971.0,155.8 1971.4,161.6 1971.9,154.3 1972.3,154.7 1972.7,155.0 1973.2,152.0 1973.6,157.4 1974.0,159.3 1974.5,158.3 1974.9,153.9 1975.3,152.1 1975.7,158.0 1976.2,150.8 1976.6,160.2 1977.0,160.9 1977.5,158.2 1977.9,154.8 1978.3,165.8 1978.8,161.6 1979.2,153.5 1979.6,156.9 1980.0,153.6 1980.5,162.1 1980.9,158.7 1981.3,159.8 1981.8,157.1 1982.2,159.8 1982.6,157.4 1983.1,157.9 1983.5,160.7 1983.9,161.1 1984.4,160.7 1984.8,160.4 1985.2,166.9 1985.6,169.6 1986.1,163.9 1986.5,170.7 1986.9,159.3 1987.4,161.3 1987.8,159.7 1988.2,155.4 1988.7,159.1 1989.1,158.5 1989.5,163.9 1989.9,156.5 1990.4,163.8 1990.8,161.8 1991.2,166.7 1991.7,163.9 1992.1,163.9 1992.5,168.4 1993.0,166.4 1993.4,163.4 1993.8,171.4 1994.3,167.1 1994.7,161.5 1995.1,158.7 1995.5,157.1 1996.0,170.0 1996.4,165.4 1996.8,163.6 1997.3,166.2 1997.7,164.7 1998.1,174.3 1998.6,175.9 1999.0,165.5 1999.4,172.4 1999.8,164.5 2000.3,165.4 2000.7,163.8 2001.1,162.1 2001.6,168.8 2002.0,162.9"/>
<line class="d" stroke="#ff00ff" stroke-opacity="0.75" x1="2002.0" y1="162.9" x2="2002.0" y2="172.0"/>
<rect x="1953.5" y="8.5" width="112" height="92" fill="#fff" stroke="#000" stroke-width="0.65"/>
<line x1="1960.0" y1="21.5" x2="2001.8" y2="21.5" stroke="#000000" stroke-width="1" stroke-opacity="0.68"/>
<text class="l" x="2007.1" y="27.8">Head1</text>
<line x1="1960.0" y1="44.5" x2="2001.8" y2="44.5" stroke="#ff0000" stroke-width="1" stroke-opacity="0.50"/>
<text class="l" x="2007.1" y="50.4">Head2</text>
<line x1="1960.0" y1="66.5" x2="2001.8" y2="66.5" stroke="#0000ff" stroke-width="1" stroke-opacity="0.32"/>
<text class="l" x="2007.1" y="73.0">Head3</text>
<line x1="1960.0" y1="89.5" x2="2001.8" y2="89.5" stroke="#ff00ff" stroke-width="1" stroke-opacity="0.78"/>
<text class="l" x="2007.1" y="95.6">Head4</text>
</g>
</svg>
</body></html>
